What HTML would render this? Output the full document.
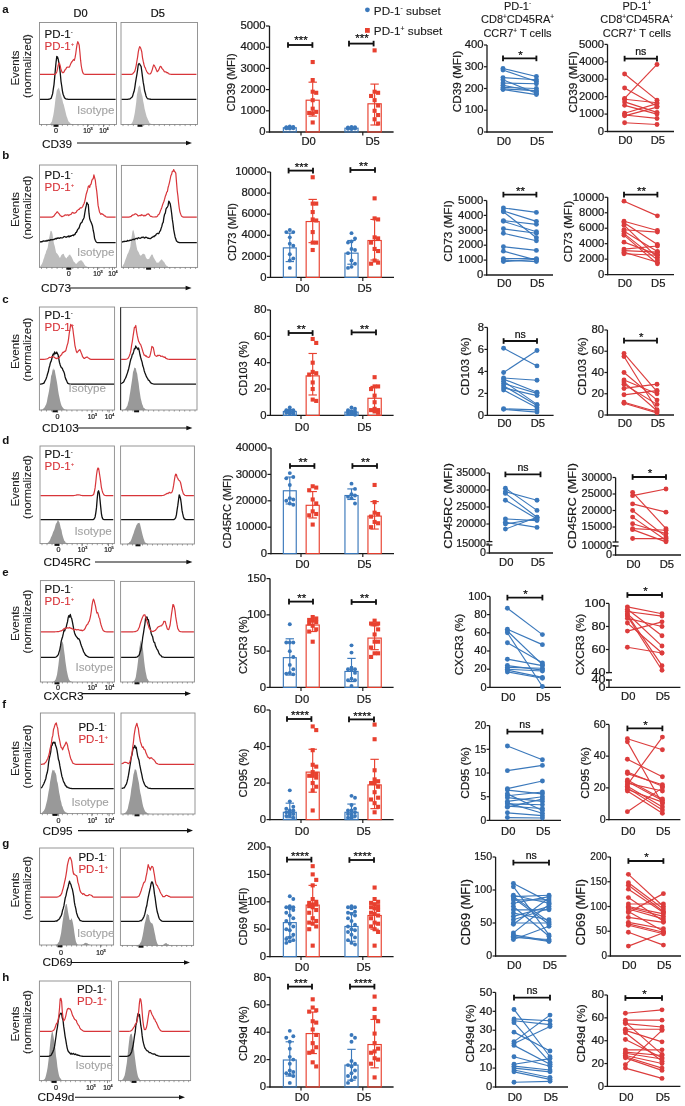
<!DOCTYPE html>
<html><head><meta charset="utf-8"><style>
html,body{margin:0;padding:0;background:#fff;}
svg{display:block;filter:blur(0.3px);}
text{font-family:"Liberation Sans",sans-serif;}
</style></head><body>
<svg width="685" height="1106" viewBox="0 0 685 1106" font-family="Liberation Sans, sans-serif">
<rect width="685" height="1106" fill="#fff"/>
<text transform="translate(80.5,17.2)" font-size="11" text-anchor="middle" fill="#111" stroke="#111" stroke-width="0.22">D0</text>
<text transform="translate(157.8,17.2)" font-size="11" text-anchor="middle" fill="#111" stroke="#111" stroke-width="0.22">D5</text>
<circle cx="367.4" cy="9.8" r="2.4" fill="#3a78bb"/>
<text transform="translate(373.8,14.6) scale(1.04,1)" font-size="11.3" text-anchor="start" fill="#1a1a1a" stroke="#1a1a1a" stroke-width="0.12">PD-1<tspan font-size="6.5" dy="-4.2">-</tspan><tspan dy="4.2"> subset</tspan></text>
<rect x="365" y="28" width="4.8" height="4.8" fill="#e8402f" stroke="none" stroke-width="1"/>
<text transform="translate(373.8,35) scale(1.04,1)" font-size="11.3" text-anchor="start" fill="#1a1a1a" stroke="#1a1a1a" stroke-width="0.12">PD-1<tspan font-size="6.5" dy="-4.2">+</tspan><tspan dy="4.2"> subset</tspan></text>
<text transform="translate(517.5,9.5)" font-size="11" text-anchor="middle" fill="#1a1a1a" stroke="#1a1a1a" stroke-width="0.12">PD-1<tspan font-size="6.5" dy="-4.2">-</tspan><tspan dy="4.2"></tspan></text>
<text transform="translate(517.5,23.4)" font-size="11" text-anchor="middle" fill="#1a1a1a" stroke="#1a1a1a" stroke-width="0.12">CD8<tspan font-size="6.5" dy="-4.2">+</tspan><tspan dy="4.2">CD45RA<tspan font-size="6.5" dy="-4.2">+</tspan><tspan dy="4.2"></tspan></tspan></text>
<text transform="translate(517.5,37.4)" font-size="11" text-anchor="middle" fill="#1a1a1a" stroke="#1a1a1a" stroke-width="0.12">CCR7<tspan font-size="6.5" dy="-4.2">+</tspan><tspan dy="4.2"> T cells</tspan></text>
<text transform="translate(636.8,9.5)" font-size="11" text-anchor="middle" fill="#1a1a1a" stroke="#1a1a1a" stroke-width="0.12">PD-1<tspan font-size="6.5" dy="-4.2">+</tspan><tspan dy="4.2"></tspan></text>
<text transform="translate(636.8,23.4)" font-size="11" text-anchor="middle" fill="#1a1a1a" stroke="#1a1a1a" stroke-width="0.12">CD8<tspan font-size="6.5" dy="-4.2">+</tspan><tspan dy="4.2">CD45RA<tspan font-size="6.5" dy="-4.2">+</tspan><tspan dy="4.2"></tspan></tspan></text>
<text transform="translate(636.8,37.4)" font-size="11" text-anchor="middle" fill="#1a1a1a" stroke="#1a1a1a" stroke-width="0.12">CCR7<tspan font-size="6.5" dy="-4.2">+</tspan><tspan dy="4.2"> T cells</tspan></text>
<polygon points="40,124.5 40.7,124.5 41.4,124.5 42.1,124.5 42.8,124.5 43.5,124.5 44.2,124.5 44.9,124.5 45.6,124.5 46.3,124.49 47,124.48 47.7,124.46 48.4,124.4 49.1,124.26 49.8,123.99 50.5,123.57 51.2,122.4 51.9,121.46 52.6,118.36 53.3,115.14 54,110.91 54.7,105.87 55.4,99.55 56.1,94.88 56.8,90.39 57.5,89.18 58.2,88.41 58.9,87.4 59.6,90.18 60.3,92.53 61,95.04 61.7,97.65 62.4,99.74 63.1,103 63.8,104.76 64.5,107.72 65.2,110.55 65.9,113.42 66.6,116.29 67.3,118.1 68,120.29 68.7,121.72 69.4,122.11 70.1,123.55 70.8,123.61 71.5,124.07 72.2,124.27 72.9,124.38 73.6,124.44 74.3,124.47 75,124.49 75.7,124.5 76.4,124.5 77.1,124.5 77.8,124.5 78.5,124.5 79.2,124.5 79.9,124.5 80.6,124.5 81.3,124.5 82,124.5 82.7,124.5 83.4,124.5 84.1,124.5 84.8,124.5 85.5,124.5 86.2,124.5 86.9,124.5 87.6,124.5 88.3,124.5 89,124.5 89.7,124.5 90.4,124.5 91.1,124.5 91.8,124.5 92.5,124.5 93.2,124.5 93.9,124.5 94.6,124.5 95.3,124.5 96,124.5 96.7,124.5 97.4,124.5 98.1,124.5 98.8,124.5 99.5,124.5 100.2,124.5 100.9,124.5 101.6,124.5 102.3,124.5 103,124.5 103.7,124.5 104.4,124.5 105.1,124.5 105.8,124.5 106.5,124.5 107.2,124.5 107.9,124.5 108.6,124.5 109.3,124.5 110,124.5 110.7,124.5 111.4,124.5 112.1,124.5 112.8,124.5 113.5,124.5 114.2,124.5 114.9,124.5 115.6,124.5 116,124.5 40,124.5" fill="#bdbdbd" stroke="none"/>
<polyline points="40,99.3 40.7,99.3 41.4,99.3 42.1,99.3 42.8,99.3 43.5,99.3 44.2,99.3 44.9,99.3 45.6,99.3 46.3,99.3 47,99.3 47.7,99.29 48.4,99.26 49.1,99.19 49.8,99.02 50.5,98.6 51.2,98.21 51.9,95.92 52.6,93.91 53.3,89.08 54,84.59 54.7,77.17 55.4,68.95 56.1,61.8 56.8,56.44 57.5,56.96 58.2,59.16 58.9,62.82 59.6,67.22 60.3,73.53 61,81.28 61.7,85.77 62.4,90.83 63.1,94.25 63.8,95.92 64.5,97.81 65.2,98.38 65.9,98.87 66.6,99.11 67.3,99.22 68,99.27 68.7,99.29 69.4,99.3 70.1,99.3 70.8,99.3 71.5,99.3 72.2,99.3 72.9,99.3 73.6,99.3 74.3,99.3 75,99.3 75.7,99.3 76.4,99.3 77.1,99.3 77.8,99.3 78.5,99.3 79.2,99.3 79.9,99.3 80.6,99.3 81.3,99.3 82,99.3 82.7,99.3 83.4,99.3 84.1,99.3 84.8,99.3 85.5,99.3 86.2,99.3 86.9,99.3 87.6,99.3 88.3,99.3 89,99.3 89.7,99.3 90.4,99.3 91.1,99.3 91.8,99.3 92.5,99.3 93.2,99.3 93.9,99.3 94.6,99.3 95.3,99.3 96,99.3 96.7,99.3 97.4,99.3 98.1,99.3 98.8,99.3 99.5,99.3 100.2,99.3 100.9,99.3 101.6,99.3 102.3,99.3 103,99.3 103.7,99.3 104.4,99.3 105.1,99.3 105.8,99.3 106.5,99.3 107.2,99.3 107.9,99.3 108.6,99.3 109.3,99.3 110,99.3 110.7,99.3 111.4,99.3 112.1,99.3 112.8,99.3 113.5,99.3 114.2,99.3 114.9,99.3 115.6,99.3" fill="none" stroke="#111" stroke-width="1.3" stroke-linejoin="round"/>
<polyline points="40,74.4 40.7,74.4 41.4,74.4 42.1,74.4 42.8,74.4 43.5,74.4 44.2,74.4 44.9,74.4 45.6,74.4 46.3,74.4 47,74.4 47.7,74.4 48.4,74.4 49.1,74.4 49.8,74.4 50.5,74.4 51.2,74.4 51.9,74.4 52.6,74.4 53.3,74.4 54,74.39 54.7,74.35 55.4,74.15 56.1,73.23 56.8,71.92 57.5,68.79 58.2,65.2 58.9,63.07 59.6,63.75 60.3,66.1 61,69.74 61.7,71.26 62.4,72.74 63.1,72.74 63.8,72.29 64.5,70.89 65.2,69.62 65.9,69.02 66.6,67.5 67.3,67.16 68,67.23 68.7,67.12 69.4,67.14 70.1,65.4 70.8,63.61 71.5,62.24 72.2,61.49 72.9,60.45 73.6,59.48 74.3,60.42 75,57.92 75.7,54 76.4,48.68 77.1,44.19 77.8,41.64 78.5,43.16 79.2,45.24 79.9,52.3 80.6,60.19 81.3,65.99 82,69.74 82.7,72.29 83.4,73.72 84.1,74.08 84.8,74.3 85.5,74.37 86.2,74.39 86.9,74.4 87.6,74.4 88.3,74.4 89,74.4 89.7,74.4 90.4,74.4 91.1,74.4 91.8,74.4 92.5,74.4 93.2,74.4 93.9,74.4 94.6,74.4 95.3,74.4 96,74.4 96.7,74.4 97.4,74.4 98.1,74.4 98.8,74.4 99.5,74.4 100.2,74.4 100.9,74.4 101.6,74.4 102.3,74.4 103,74.4 103.7,74.4 104.4,74.4 105.1,74.4 105.8,74.4 106.5,74.4 107.2,74.4 107.9,74.4 108.6,74.4 109.3,74.4 110,74.4 110.7,74.4 111.4,74.4 112.1,74.4 112.8,74.4 113.5,74.4 114.2,74.4 114.9,74.4 115.6,74.4" fill="none" stroke="#d8353a" stroke-width="1.2" stroke-linejoin="round"/>
<rect x="39.5" y="22.5" width="77" height="102" fill="none" stroke="#8a8a8a" stroke-width="0.9"/>
<line x1="41.5" y1="124.5" x2="41.5" y2="126.1" stroke="#666" stroke-width="0.6"/>
<line x1="46.71" y1="124.5" x2="46.71" y2="126.1" stroke="#666" stroke-width="0.6"/>
<line x1="51.93" y1="124.5" x2="51.93" y2="126.1" stroke="#666" stroke-width="0.6"/>
<line x1="57.14" y1="124.5" x2="57.14" y2="126.1" stroke="#666" stroke-width="0.6"/>
<line x1="62.36" y1="124.5" x2="62.36" y2="126.1" stroke="#666" stroke-width="0.6"/>
<line x1="67.57" y1="124.5" x2="67.57" y2="126.1" stroke="#666" stroke-width="0.6"/>
<line x1="72.79" y1="124.5" x2="72.79" y2="126.1" stroke="#666" stroke-width="0.6"/>
<line x1="78" y1="124.5" x2="78" y2="126.1" stroke="#666" stroke-width="0.6"/>
<line x1="83.21" y1="124.5" x2="83.21" y2="126.1" stroke="#666" stroke-width="0.6"/>
<line x1="88.43" y1="124.5" x2="88.43" y2="126.1" stroke="#666" stroke-width="0.6"/>
<line x1="93.64" y1="124.5" x2="93.64" y2="126.1" stroke="#666" stroke-width="0.6"/>
<line x1="98.86" y1="124.5" x2="98.86" y2="126.1" stroke="#666" stroke-width="0.6"/>
<line x1="104.07" y1="124.5" x2="104.07" y2="126.1" stroke="#666" stroke-width="0.6"/>
<line x1="109.29" y1="124.5" x2="109.29" y2="126.1" stroke="#666" stroke-width="0.6"/>
<line x1="114.5" y1="124.5" x2="114.5" y2="126.1" stroke="#666" stroke-width="0.6"/>
<polygon points="121.5,124.5 122.2,124.5 122.9,124.5 123.6,124.5 124.3,124.5 125,124.5 125.7,124.5 126.4,124.5 127.1,124.5 127.8,124.49 128.5,124.47 129.2,124.42 129.9,124.31 130.6,124.08 131.3,123.69 132,122.91 132.7,121.38 133.4,119.4 134.1,116.24 134.8,112.81 135.5,107.73 136.2,102.39 136.9,94.64 137.6,91.77 138.3,87.56 139,86.15 139.7,85.22 140.4,86.91 141.1,91.74 141.8,94.27 142.5,96.59 143.2,101.27 143.9,104.53 144.6,108.79 145.3,111.5 146,114.35 146.7,116.78 147.4,118.19 148.1,120.11 148.8,121.3 149.5,122.89 150.2,123.5 150.9,123.82 151.6,124.09 152.3,124.28 153,124.39 153.7,124.45 154.4,124.48 155.1,124.49 155.8,124.5 156.5,124.5 157.2,124.5 157.9,124.5 158.6,124.5 159.3,124.5 160,124.5 160.7,124.5 161.4,124.5 162.1,124.5 162.8,124.5 163.5,124.5 164.2,124.5 164.9,124.5 165.6,124.5 166.3,124.5 167,124.5 167.7,124.5 168.4,124.5 169.1,124.5 169.8,124.5 170.5,124.5 171.2,124.5 171.9,124.5 172.6,124.5 173.3,124.5 174,124.5 174.7,124.5 175.4,124.5 176.1,124.5 176.8,124.5 177.5,124.5 178.2,124.5 178.9,124.5 179.6,124.5 180.3,124.5 181,124.5 181.7,124.5 182.4,124.5 183.1,124.5 183.8,124.5 184.5,124.5 185.2,124.5 185.9,124.5 186.6,124.5 187.3,124.5 188,124.5 188.7,124.5 189.4,124.5 190.1,124.5 190.8,124.5 191.5,124.5 192.2,124.5 192.9,124.5 193.6,124.5 194.3,124.5 195,124.5 195.7,124.5 196.4,124.5 197,124.5 121.5,124.5" fill="#bdbdbd" stroke="none"/>
<polyline points="121.5,99.3 122.2,99.3 122.9,99.3 123.6,99.3 124.3,99.3 125,99.3 125.7,99.3 126.4,99.29 127.1,99.28 127.8,99.26 128.5,99.21 129.2,99.11 129.9,98.93 130.6,98.24 131.3,97.74 132,97.21 132.7,95.91 133.4,93.18 134.1,91.33 134.8,87.59 135.5,82.57 136.2,78.39 136.9,74.5 137.6,69.87 138.3,64.51 139,63.54 139.7,64.02 140.4,65.47 141.1,66.32 141.8,71.44 142.5,76.86 143.2,82.14 143.9,85.81 144.6,90.75 145.3,93 146,95.92 146.7,97.54 147.4,98.4 148.1,98.97 148.8,98.97 149.5,99.14 150.2,99.23 150.9,99.27 151.6,99.29 152.3,99.3 153,99.3 153.7,99.3 154.4,99.3 155.1,99.3 155.8,99.3 156.5,99.3 157.2,99.3 157.9,99.3 158.6,99.3 159.3,99.3 160,99.3 160.7,99.3 161.4,99.3 162.1,99.3 162.8,99.3 163.5,99.3 164.2,99.3 164.9,99.3 165.6,99.3 166.3,99.3 167,99.3 167.7,99.3 168.4,99.3 169.1,99.3 169.8,99.3 170.5,99.3 171.2,99.3 171.9,99.3 172.6,99.3 173.3,99.3 174,99.3 174.7,99.3 175.4,99.3 176.1,99.3 176.8,99.3 177.5,99.3 178.2,99.3 178.9,99.3 179.6,99.3 180.3,99.3 181,99.3 181.7,99.3 182.4,99.3 183.1,99.3 183.8,99.3 184.5,99.3 185.2,99.3 185.9,99.3 186.6,99.3 187.3,99.3 188,99.3 188.7,99.3 189.4,99.3 190.1,99.3 190.8,99.3 191.5,99.3 192.2,99.3 192.9,99.3 193.6,99.3 194.3,99.3 195,99.3 195.7,99.3 196.4,99.3" fill="none" stroke="#111" stroke-width="1.3" stroke-linejoin="round"/>
<polyline points="121.5,74.4 122.2,74.4 122.9,74.4 123.6,74.4 124.3,74.4 125,74.4 125.7,74.4 126.4,74.4 127.1,74.4 127.8,74.4 128.5,74.4 129.2,74.4 129.9,74.39 130.6,74.36 131.3,74.3 132,74.16 132.7,73.87 133.4,72.93 134.1,72.09 134.8,71.1 135.5,68.59 136.2,65.32 136.9,61.02 137.6,57.12 138.3,51.8 139,48.66 139.7,46.65 140.4,47.58 141.1,49.38 141.8,52 142.5,57.62 143.2,61.21 143.9,64.25 144.6,66.9 145.3,67.87 146,69.88 146.7,71.59 147.4,72.31 148.1,73.4 148.8,73.85 149.5,74.01 150.2,73.97 150.9,73.2 151.6,71.53 152.3,69.61 153,66.89 153.7,64.92 154.4,65.6 155.1,67.05 155.8,68.35 156.5,70.25 157.2,71.68 157.9,71.08 158.6,70.15 159.3,68.45 160,66.72 160.7,66.28 161.4,67.17 162.1,68.62 162.8,69.27 163.5,70.09 164.2,71.49 164.9,71.95 165.6,71.77 166.3,72.15 167,72.9 167.7,72.56 168.4,73.4 169.1,74 169.8,74.07 170.5,74.24 171.2,74.33 171.9,74.37 172.6,74.39 173.3,74.4 174,74.4 174.7,74.4 175.4,74.4 176.1,74.4 176.8,74.4 177.5,74.4 178.2,74.4 178.9,74.4 179.6,74.4 180.3,74.4 181,74.4 181.7,74.4 182.4,74.4 183.1,74.4 183.8,74.4 184.5,74.4 185.2,74.4 185.9,74.4 186.6,74.4 187.3,74.4 188,74.4 188.7,74.4 189.4,74.4 190.1,74.4 190.8,74.4 191.5,74.4 192.2,74.4 192.9,74.4 193.6,74.4 194.3,74.4 195,74.4 195.7,74.4 196.4,74.4" fill="none" stroke="#d8353a" stroke-width="1.2" stroke-linejoin="round"/>
<rect x="121" y="22.5" width="76.5" height="102" fill="none" stroke="#8a8a8a" stroke-width="0.9"/>
<line x1="123" y1="124.5" x2="123" y2="126.1" stroke="#666" stroke-width="0.6"/>
<line x1="128.18" y1="124.5" x2="128.18" y2="126.1" stroke="#666" stroke-width="0.6"/>
<line x1="133.36" y1="124.5" x2="133.36" y2="126.1" stroke="#666" stroke-width="0.6"/>
<line x1="138.54" y1="124.5" x2="138.54" y2="126.1" stroke="#666" stroke-width="0.6"/>
<line x1="143.71" y1="124.5" x2="143.71" y2="126.1" stroke="#666" stroke-width="0.6"/>
<line x1="148.89" y1="124.5" x2="148.89" y2="126.1" stroke="#666" stroke-width="0.6"/>
<line x1="154.07" y1="124.5" x2="154.07" y2="126.1" stroke="#666" stroke-width="0.6"/>
<line x1="159.25" y1="124.5" x2="159.25" y2="126.1" stroke="#666" stroke-width="0.6"/>
<line x1="164.43" y1="124.5" x2="164.43" y2="126.1" stroke="#666" stroke-width="0.6"/>
<line x1="169.61" y1="124.5" x2="169.61" y2="126.1" stroke="#666" stroke-width="0.6"/>
<line x1="174.79" y1="124.5" x2="174.79" y2="126.1" stroke="#666" stroke-width="0.6"/>
<line x1="179.96" y1="124.5" x2="179.96" y2="126.1" stroke="#666" stroke-width="0.6"/>
<line x1="185.14" y1="124.5" x2="185.14" y2="126.1" stroke="#666" stroke-width="0.6"/>
<line x1="190.32" y1="124.5" x2="190.32" y2="126.1" stroke="#666" stroke-width="0.6"/>
<line x1="195.5" y1="124.5" x2="195.5" y2="126.1" stroke="#666" stroke-width="0.6"/>
<text transform="translate(44.5,37.6)" font-size="11.5" text-anchor="start" fill="#111" stroke="#111" stroke-width="0.1">PD-1<tspan font-size="6" dy="-3.8">-</tspan><tspan dy="3.8"></tspan></text>
<text transform="translate(44.5,49.6)" font-size="11.5" text-anchor="start" fill="#d8353a" stroke="#d8353a" stroke-width="0.1">PD-1<tspan font-size="6" dy="-3.8">+</tspan><tspan dy="3.8"></tspan></text>
<text transform="translate(77,114)" font-size="11.6" text-anchor="start" fill="#a3a3a3" stroke="#a3a3a3" stroke-width="0.1">Isotype</text>
<text transform="translate(56,132.5)" font-size="7.2" text-anchor="middle" fill="#222" stroke="#222" stroke-width="0.22">0</text>
<line x1="56" y1="124.5" x2="56" y2="127.1" stroke="#555" stroke-width="0.7"/>
<text transform="translate(88,132.5)" font-size="6.6" text-anchor="middle" fill="#222" stroke="#222" stroke-width="0.22">10<tspan font-size="3.8" dy="-2.6">3</tspan></text>
<line x1="87.5" y1="124.5" x2="87.5" y2="127.1" stroke="#555" stroke-width="0.7"/>
<text transform="translate(104,132.5)" font-size="6.6" text-anchor="middle" fill="#222" stroke="#222" stroke-width="0.22">10<tspan font-size="3.8" dy="-2.6">4</tspan></text>
<line x1="103.5" y1="124.5" x2="103.5" y2="127.1" stroke="#555" stroke-width="0.7"/>
<rect x="53.5" y="124.8" width="5" height="2" fill="#111" stroke="none" stroke-width="1"/>
<rect x="137.5" y="124.8" width="5" height="2" fill="#111" stroke="none" stroke-width="1"/>
<text transform="translate(42,147.5)" font-size="11.8" text-anchor="start" fill="#111" stroke="#111" stroke-width="0.1">CD39</text>
<line x1="77" y1="143" x2="187" y2="143" stroke="#111" stroke-width="1.1"/>
<polygon points="192,143 186,140.7 186,145.3" fill="#111"/>
<text transform="translate(18.9,68) rotate(-90)" font-size="11.5" text-anchor="middle" fill="#222" stroke="#222" stroke-width="0.08">Events</text>
<text transform="translate(30.8,66) rotate(-90)" font-size="11.5" text-anchor="middle" fill="#222" stroke="#222" stroke-width="0.08">(normalized)</text>
<text transform="translate(2.2,12.5)" font-size="11.5" text-anchor="start" fill="#111" font-weight="bold">a</text>
<line x1="269.5" y1="26" x2="269.5" y2="132.6" stroke="#1a1a1a" stroke-width="1.3"/>
<line x1="268.9" y1="132" x2="393.6" y2="132" stroke="#1a1a1a" stroke-width="1.3"/>
<line x1="266" y1="132" x2="269.5" y2="132" stroke="#1a1a1a" stroke-width="1.2"/>
<text transform="translate(265.6,135.2) scale(1.1,1)" font-size="10.3" text-anchor="end" fill="#1a1a1a" stroke="#1a1a1a" stroke-width="0.22">0</text>
<line x1="266" y1="110.8" x2="269.5" y2="110.8" stroke="#1a1a1a" stroke-width="1.2"/>
<text transform="translate(265.6,114) scale(1.1,1)" font-size="10.3" text-anchor="end" fill="#1a1a1a" stroke="#1a1a1a" stroke-width="0.22">1000</text>
<line x1="266" y1="89.6" x2="269.5" y2="89.6" stroke="#1a1a1a" stroke-width="1.2"/>
<text transform="translate(265.6,92.8) scale(1.1,1)" font-size="10.3" text-anchor="end" fill="#1a1a1a" stroke="#1a1a1a" stroke-width="0.22">2000</text>
<line x1="266" y1="68.4" x2="269.5" y2="68.4" stroke="#1a1a1a" stroke-width="1.2"/>
<text transform="translate(265.6,71.6) scale(1.1,1)" font-size="10.3" text-anchor="end" fill="#1a1a1a" stroke="#1a1a1a" stroke-width="0.22">3000</text>
<line x1="266" y1="47.2" x2="269.5" y2="47.2" stroke="#1a1a1a" stroke-width="1.2"/>
<text transform="translate(265.6,50.4) scale(1.1,1)" font-size="10.3" text-anchor="end" fill="#1a1a1a" stroke="#1a1a1a" stroke-width="0.22">4000</text>
<line x1="266" y1="26" x2="269.5" y2="26" stroke="#1a1a1a" stroke-width="1.2"/>
<text transform="translate(265.6,29.2) scale(1.1,1)" font-size="10.3" text-anchor="end" fill="#1a1a1a" stroke="#1a1a1a" stroke-width="0.22">5000</text>
<line x1="301" y1="132" x2="301" y2="135.5" stroke="#1a1a1a" stroke-width="1.2"/>
<line x1="362.8" y1="132" x2="362.8" y2="135.5" stroke="#1a1a1a" stroke-width="1.2"/>
<text transform="translate(308.6,144.5) scale(1.02,1)" font-size="11" text-anchor="middle" fill="#1a1a1a" stroke="#1a1a1a" stroke-width="0.22">D0</text>
<text transform="translate(372.6,144.5) scale(1.02,1)" font-size="11" text-anchor="middle" fill="#1a1a1a" stroke="#1a1a1a" stroke-width="0.22">D5</text>
<text transform="translate(235.3,82.4) rotate(-90) scale(1.03,1)" font-size="10.8" text-anchor="middle" fill="#1a1a1a" stroke="#1a1a1a" stroke-width="0.22">CD39 (MFI)</text>
<circle cx="289.8" cy="126.49" r="1.95" fill="#3a78bb"/>
<circle cx="293.31" cy="126.91" r="1.95" fill="#3a78bb"/>
<circle cx="286.29" cy="127.12" r="1.95" fill="#3a78bb"/>
<circle cx="289.8" cy="127.34" r="1.95" fill="#3a78bb"/>
<circle cx="293.31" cy="127.55" r="1.95" fill="#3a78bb"/>
<circle cx="286.29" cy="127.76" r="1.95" fill="#3a78bb"/>
<circle cx="289.8" cy="127.97" r="1.95" fill="#3a78bb"/>
<circle cx="293.31" cy="128.18" r="1.95" fill="#3a78bb"/>
<circle cx="286.29" cy="128.4" r="1.95" fill="#3a78bb"/>
<circle cx="289.8" cy="128.61" r="1.95" fill="#3a78bb"/>
<rect x="283.35" y="127.76" width="12.9" height="4.24" fill="none" stroke="#3a78bb" stroke-width="1.15"/>
<line x1="289.8" y1="127.12" x2="289.8" y2="128.4" stroke="#3a78bb" stroke-width="1.15"/>
<line x1="285.6" y1="127.12" x2="294" y2="127.12" stroke="#3a78bb" stroke-width="1.15"/>
<line x1="285.6" y1="128.4" x2="294" y2="128.4" stroke="#3a78bb" stroke-width="1.15"/>
<rect x="310.65" y="59.99" width="4.1" height="4.1" fill="#e8402f"/>
<rect x="310.65" y="78.01" width="4.1" height="4.1" fill="#e8402f"/>
<rect x="310.65" y="89.67" width="4.1" height="4.1" fill="#e8402f"/>
<rect x="314.17" y="90.73" width="4.1" height="4.1" fill="#e8402f"/>
<rect x="310.65" y="98.15" width="4.1" height="4.1" fill="#e8402f"/>
<rect x="310.65" y="106.63" width="4.1" height="4.1" fill="#e8402f"/>
<rect x="314.17" y="109.81" width="4.1" height="4.1" fill="#e8402f"/>
<rect x="307.14" y="110.87" width="4.1" height="4.1" fill="#e8402f"/>
<rect x="310.65" y="111.29" width="4.1" height="4.1" fill="#e8402f"/>
<rect x="310.65" y="120.41" width="4.1" height="4.1" fill="#e8402f"/>
<rect x="306.15" y="100.2" width="13.1" height="31.8" fill="none" stroke="#e8402f" stroke-width="1.15"/>
<line x1="312.7" y1="82.18" x2="312.7" y2="116.1" stroke="#e8402f" stroke-width="1.15"/>
<line x1="308.5" y1="82.18" x2="316.9" y2="82.18" stroke="#e8402f" stroke-width="1.15"/>
<line x1="308.5" y1="116.1" x2="316.9" y2="116.1" stroke="#e8402f" stroke-width="1.15"/>
<circle cx="351.5" cy="126.91" r="1.95" fill="#3a78bb"/>
<circle cx="355.01" cy="127.12" r="1.95" fill="#3a78bb"/>
<circle cx="347.99" cy="127.44" r="1.95" fill="#3a78bb"/>
<circle cx="351.5" cy="127.76" r="1.95" fill="#3a78bb"/>
<circle cx="355.01" cy="127.97" r="1.95" fill="#3a78bb"/>
<circle cx="347.99" cy="128.18" r="1.95" fill="#3a78bb"/>
<circle cx="351.5" cy="128.4" r="1.95" fill="#3a78bb"/>
<circle cx="355.01" cy="128.61" r="1.95" fill="#3a78bb"/>
<circle cx="347.99" cy="128.82" r="1.95" fill="#3a78bb"/>
<circle cx="351.5" cy="129.03" r="1.95" fill="#3a78bb"/>
<rect x="344.95" y="128.18" width="13.1" height="3.82" fill="none" stroke="#3a78bb" stroke-width="1.15"/>
<line x1="351.5" y1="127.55" x2="351.5" y2="128.82" stroke="#3a78bb" stroke-width="1.15"/>
<line x1="347.3" y1="127.55" x2="355.7" y2="127.55" stroke="#3a78bb" stroke-width="1.15"/>
<line x1="347.3" y1="128.82" x2="355.7" y2="128.82" stroke="#3a78bb" stroke-width="1.15"/>
<rect x="372.55" y="48.33" width="4.1" height="4.1" fill="#e8402f"/>
<rect x="372.55" y="89.67" width="4.1" height="4.1" fill="#e8402f"/>
<rect x="376.06" y="90.73" width="4.1" height="4.1" fill="#e8402f"/>
<rect x="369.04" y="93.91" width="4.1" height="4.1" fill="#e8402f"/>
<rect x="372.55" y="98.15" width="4.1" height="4.1" fill="#e8402f"/>
<rect x="376.06" y="103.45" width="4.1" height="4.1" fill="#e8402f"/>
<rect x="372.55" y="108.75" width="4.1" height="4.1" fill="#e8402f"/>
<rect x="376.06" y="112.99" width="4.1" height="4.1" fill="#e8402f"/>
<rect x="372.55" y="117.23" width="4.1" height="4.1" fill="#e8402f"/>
<rect x="376.06" y="121.47" width="4.1" height="4.1" fill="#e8402f"/>
<rect x="367.95" y="103.8" width="13.3" height="28.2" fill="none" stroke="#e8402f" stroke-width="1.15"/>
<line x1="374.6" y1="84.09" x2="374.6" y2="125" stroke="#e8402f" stroke-width="1.15"/>
<line x1="370.4" y1="84.09" x2="378.8" y2="84.09" stroke="#e8402f" stroke-width="1.15"/>
<line x1="370.4" y1="125" x2="378.8" y2="125" stroke="#e8402f" stroke-width="1.15"/>
<line x1="288" y1="45" x2="312.4" y2="45" stroke="#111" stroke-width="1.85"/>
<line x1="288" y1="42.2" x2="288" y2="47.8" stroke="#111" stroke-width="1.85"/>
<line x1="312.4" y1="42.2" x2="312.4" y2="47.8" stroke="#111" stroke-width="1.85"/>
<text transform="translate(300.9,43.7) scale(1.05,1)" font-size="11" text-anchor="middle" fill="#111" stroke="#111" stroke-width="0.22">***</text>
<line x1="349" y1="43.6" x2="373.6" y2="43.6" stroke="#111" stroke-width="1.85"/>
<line x1="349" y1="40.8" x2="349" y2="46.4" stroke="#111" stroke-width="1.85"/>
<line x1="373.6" y1="40.8" x2="373.6" y2="46.4" stroke="#111" stroke-width="1.85"/>
<text transform="translate(362,42.1) scale(1.05,1)" font-size="11" text-anchor="middle" fill="#111" stroke="#111" stroke-width="0.22">***</text>
<line x1="487" y1="45" x2="487" y2="132.6" stroke="#1a1a1a" stroke-width="1.3"/>
<line x1="486.4" y1="132" x2="553" y2="132" stroke="#1a1a1a" stroke-width="1.3"/>
<line x1="484" y1="132" x2="487" y2="132" stroke="#1a1a1a" stroke-width="1.2"/>
<text transform="translate(483.6,135.2) scale(1.1,1)" font-size="10.3" text-anchor="end" fill="#1a1a1a" stroke="#1a1a1a" stroke-width="0.22">0</text>
<line x1="484" y1="110.25" x2="487" y2="110.25" stroke="#1a1a1a" stroke-width="1.2"/>
<text transform="translate(483.6,113.45) scale(1.1,1)" font-size="10.3" text-anchor="end" fill="#1a1a1a" stroke="#1a1a1a" stroke-width="0.22">100</text>
<line x1="484" y1="88.5" x2="487" y2="88.5" stroke="#1a1a1a" stroke-width="1.2"/>
<text transform="translate(483.6,91.7) scale(1.1,1)" font-size="10.3" text-anchor="end" fill="#1a1a1a" stroke="#1a1a1a" stroke-width="0.22">200</text>
<line x1="484" y1="66.75" x2="487" y2="66.75" stroke="#1a1a1a" stroke-width="1.2"/>
<text transform="translate(483.6,69.95) scale(1.1,1)" font-size="10.3" text-anchor="end" fill="#1a1a1a" stroke="#1a1a1a" stroke-width="0.22">300</text>
<line x1="484" y1="45" x2="487" y2="45" stroke="#1a1a1a" stroke-width="1.2"/>
<text transform="translate(483.6,48.2) scale(1.1,1)" font-size="10.3" text-anchor="end" fill="#1a1a1a" stroke="#1a1a1a" stroke-width="0.22">400</text>
<text transform="translate(503.8,144.5) scale(1.02,1)" font-size="11" text-anchor="middle" fill="#1a1a1a" stroke="#1a1a1a" stroke-width="0.22">D0</text>
<text transform="translate(537.2,144.5) scale(1.02,1)" font-size="11" text-anchor="middle" fill="#1a1a1a" stroke="#1a1a1a" stroke-width="0.22">D5</text>
<text transform="translate(461.2,81.5) rotate(-90) scale(1.09,1)" font-size="10.8" text-anchor="middle" fill="#1a1a1a" stroke="#1a1a1a" stroke-width="0.22">CD39 (MFI)</text>
<line x1="503" y1="68.49" x2="536.4" y2="76.54" stroke="#3a78bb" stroke-width="1.15"/>
<line x1="503" y1="70.01" x2="536.4" y2="81.54" stroke="#3a78bb" stroke-width="1.15"/>
<line x1="503" y1="77.62" x2="536.4" y2="79.8" stroke="#3a78bb" stroke-width="1.15"/>
<line x1="503" y1="79.8" x2="536.4" y2="93.28" stroke="#3a78bb" stroke-width="1.15"/>
<line x1="503" y1="83.06" x2="536.4" y2="83.72" stroke="#3a78bb" stroke-width="1.15"/>
<line x1="503" y1="85.24" x2="536.4" y2="91.76" stroke="#3a78bb" stroke-width="1.15"/>
<line x1="503" y1="87.41" x2="536.4" y2="88.5" stroke="#3a78bb" stroke-width="1.15"/>
<line x1="503" y1="88.94" x2="536.4" y2="90.68" stroke="#3a78bb" stroke-width="1.15"/>
<line x1="503" y1="89.59" x2="536.4" y2="94.59" stroke="#3a78bb" stroke-width="1.15"/>
<circle cx="503" cy="68.49" r="2.45" fill="#3a78bb"/>
<circle cx="536.4" cy="76.54" r="2.45" fill="#3a78bb"/>
<circle cx="503" cy="70.01" r="2.45" fill="#3a78bb"/>
<circle cx="536.4" cy="81.54" r="2.45" fill="#3a78bb"/>
<circle cx="503" cy="77.62" r="2.45" fill="#3a78bb"/>
<circle cx="536.4" cy="79.8" r="2.45" fill="#3a78bb"/>
<circle cx="503" cy="79.8" r="2.45" fill="#3a78bb"/>
<circle cx="536.4" cy="93.28" r="2.45" fill="#3a78bb"/>
<circle cx="503" cy="83.06" r="2.45" fill="#3a78bb"/>
<circle cx="536.4" cy="83.72" r="2.45" fill="#3a78bb"/>
<circle cx="503" cy="85.24" r="2.45" fill="#3a78bb"/>
<circle cx="536.4" cy="91.76" r="2.45" fill="#3a78bb"/>
<circle cx="503" cy="87.41" r="2.45" fill="#3a78bb"/>
<circle cx="536.4" cy="88.5" r="2.45" fill="#3a78bb"/>
<circle cx="503" cy="88.94" r="2.45" fill="#3a78bb"/>
<circle cx="536.4" cy="90.68" r="2.45" fill="#3a78bb"/>
<circle cx="503" cy="89.59" r="2.45" fill="#3a78bb"/>
<circle cx="536.4" cy="94.59" r="2.45" fill="#3a78bb"/>
<line x1="503" y1="58.4" x2="536.4" y2="58.4" stroke="#111" stroke-width="1.85"/>
<line x1="503" y1="55.6" x2="503" y2="61.2" stroke="#111" stroke-width="1.85"/>
<line x1="536.4" y1="55.6" x2="536.4" y2="61.2" stroke="#111" stroke-width="1.85"/>
<text transform="translate(520.4,58.7) scale(1.05,1)" font-size="11" text-anchor="middle" fill="#111" stroke="#111" stroke-width="0.22">*</text>
<line x1="607.5" y1="44.4" x2="607.5" y2="132.1" stroke="#1a1a1a" stroke-width="1.3"/>
<line x1="606.9" y1="131.5" x2="674" y2="131.5" stroke="#1a1a1a" stroke-width="1.3"/>
<line x1="604.5" y1="131.5" x2="607.5" y2="131.5" stroke="#1a1a1a" stroke-width="1.2"/>
<text transform="translate(604.1,134.7) scale(1.1,1)" font-size="10.3" text-anchor="end" fill="#1a1a1a" stroke="#1a1a1a" stroke-width="0.22">0</text>
<line x1="604.5" y1="114.08" x2="607.5" y2="114.08" stroke="#1a1a1a" stroke-width="1.2"/>
<text transform="translate(604.1,117.28) scale(1.1,1)" font-size="10.3" text-anchor="end" fill="#1a1a1a" stroke="#1a1a1a" stroke-width="0.22">1000</text>
<line x1="604.5" y1="96.66" x2="607.5" y2="96.66" stroke="#1a1a1a" stroke-width="1.2"/>
<text transform="translate(604.1,99.86) scale(1.1,1)" font-size="10.3" text-anchor="end" fill="#1a1a1a" stroke="#1a1a1a" stroke-width="0.22">2000</text>
<line x1="604.5" y1="79.24" x2="607.5" y2="79.24" stroke="#1a1a1a" stroke-width="1.2"/>
<text transform="translate(604.1,82.44) scale(1.1,1)" font-size="10.3" text-anchor="end" fill="#1a1a1a" stroke="#1a1a1a" stroke-width="0.22">3000</text>
<line x1="604.5" y1="61.82" x2="607.5" y2="61.82" stroke="#1a1a1a" stroke-width="1.2"/>
<text transform="translate(604.1,65.02) scale(1.1,1)" font-size="10.3" text-anchor="end" fill="#1a1a1a" stroke="#1a1a1a" stroke-width="0.22">4000</text>
<line x1="604.5" y1="44.4" x2="607.5" y2="44.4" stroke="#1a1a1a" stroke-width="1.2"/>
<text transform="translate(604.1,47.6) scale(1.1,1)" font-size="10.3" text-anchor="end" fill="#1a1a1a" stroke="#1a1a1a" stroke-width="0.22">5000</text>
<text transform="translate(625.4,144) scale(1.02,1)" font-size="11" text-anchor="middle" fill="#1a1a1a" stroke="#1a1a1a" stroke-width="0.22">D0</text>
<text transform="translate(657.8,144) scale(1.02,1)" font-size="11" text-anchor="middle" fill="#1a1a1a" stroke="#1a1a1a" stroke-width="0.22">D5</text>
<text transform="translate(577,82) rotate(-90) scale(1.09,1)" font-size="10.8" text-anchor="middle" fill="#1a1a1a" stroke="#1a1a1a" stroke-width="0.22">CD39 (MFI)</text>
<line x1="624.6" y1="74.01" x2="657" y2="100.14" stroke="#dc3c3c" stroke-width="1.15"/>
<line x1="624.6" y1="87.95" x2="657" y2="106.24" stroke="#dc3c3c" stroke-width="1.15"/>
<line x1="624.6" y1="98.4" x2="657" y2="64.43" stroke="#dc3c3c" stroke-width="1.15"/>
<line x1="624.6" y1="99.27" x2="657" y2="102.76" stroke="#dc3c3c" stroke-width="1.15"/>
<line x1="624.6" y1="101.89" x2="657" y2="112.34" stroke="#dc3c3c" stroke-width="1.15"/>
<line x1="624.6" y1="105.37" x2="657" y2="114.08" stroke="#dc3c3c" stroke-width="1.15"/>
<line x1="624.6" y1="113.21" x2="657" y2="103.63" stroke="#dc3c3c" stroke-width="1.15"/>
<line x1="624.6" y1="114.95" x2="657" y2="118.44" stroke="#dc3c3c" stroke-width="1.15"/>
<line x1="624.6" y1="115.82" x2="657" y2="107.11" stroke="#dc3c3c" stroke-width="1.15"/>
<line x1="624.6" y1="122.79" x2="657" y2="124.53" stroke="#dc3c3c" stroke-width="1.15"/>
<circle cx="624.6" cy="74.01" r="2.45" fill="#dc3c3c"/>
<circle cx="657" cy="100.14" r="2.45" fill="#dc3c3c"/>
<circle cx="624.6" cy="87.95" r="2.45" fill="#dc3c3c"/>
<circle cx="657" cy="106.24" r="2.45" fill="#dc3c3c"/>
<circle cx="624.6" cy="98.4" r="2.45" fill="#dc3c3c"/>
<circle cx="657" cy="64.43" r="2.45" fill="#dc3c3c"/>
<circle cx="624.6" cy="99.27" r="2.45" fill="#dc3c3c"/>
<circle cx="657" cy="102.76" r="2.45" fill="#dc3c3c"/>
<circle cx="624.6" cy="101.89" r="2.45" fill="#dc3c3c"/>
<circle cx="657" cy="112.34" r="2.45" fill="#dc3c3c"/>
<circle cx="624.6" cy="105.37" r="2.45" fill="#dc3c3c"/>
<circle cx="657" cy="114.08" r="2.45" fill="#dc3c3c"/>
<circle cx="624.6" cy="113.21" r="2.45" fill="#dc3c3c"/>
<circle cx="657" cy="103.63" r="2.45" fill="#dc3c3c"/>
<circle cx="624.6" cy="114.95" r="2.45" fill="#dc3c3c"/>
<circle cx="657" cy="118.44" r="2.45" fill="#dc3c3c"/>
<circle cx="624.6" cy="115.82" r="2.45" fill="#dc3c3c"/>
<circle cx="657" cy="107.11" r="2.45" fill="#dc3c3c"/>
<circle cx="624.6" cy="122.79" r="2.45" fill="#dc3c3c"/>
<circle cx="657" cy="124.53" r="2.45" fill="#dc3c3c"/>
<line x1="624.6" y1="58.6" x2="657" y2="58.6" stroke="#111" stroke-width="1.85"/>
<line x1="624.6" y1="55.8" x2="624.6" y2="61.4" stroke="#111" stroke-width="1.85"/>
<line x1="657" y1="55.8" x2="657" y2="61.4" stroke="#111" stroke-width="1.85"/>
<text transform="translate(640.8,55.1)" font-size="10.5" text-anchor="middle" fill="#111" stroke="#111" stroke-width="0.22">ns</text>
<polygon points="40,266.78 40.7,265.71 41.4,264.8 42.1,263.45 42.8,261.77 43.5,259.26 44.2,257.44 44.9,254.68 45.6,253.5 46.3,250.76 47,249.44 47.7,247.45 48.4,243.33 49.1,237.93 49.8,234.7 50.5,231.07 51.2,230.86 51.9,231.8 52.6,234.6 53.3,239.9 54,243.78 54.7,246.12 55.4,249.26 56.1,252.41 56.8,253.31 57.5,254.09 58.2,255.03 58.9,256.31 59.6,257.74 60.3,257.6 61,255.82 61.7,254.83 62.4,254.26 63.1,253.76 63.8,254.11 64.5,255.96 65.2,257.22 65.9,257.76 66.6,258.42 67.3,256.83 68,256.72 68.7,255.17 69.4,254.79 70.1,254.46 70.8,255.93 71.5,256.83 72.2,258.16 72.9,259.69 73.6,261.61 74.3,261.97 75,262.76 75.7,263.8 76.4,263.89 77.1,262.86 77.8,262.52 78.5,261.58 79.2,260.99 79.9,260.74 80.6,260.35 81.3,260.41 82,260.42 82.7,262.01 83.4,262.45 84.1,264.09 84.8,265.07 85.5,265.89 86.2,266.29 86.9,266.46 87.6,266.94 88.3,267.08 89,267.17 89.7,267.23 90.4,267.27 91.1,267.3 91.8,267.32 92.5,267.33 93.2,267.35 93.9,267.36 94.6,267.37 95.3,267.38 96,267.38 96.7,267.39 97.4,267.39 98.1,267.39 98.8,267.39 99.5,267.4 100.2,267.4 100.9,267.4 101.6,267.4 102.3,267.4 103,267.4 103.7,267.4 104.4,267.4 105.1,267.4 105.8,267.4 106.5,267.4 107.2,267.4 107.9,267.4 108.6,267.4 109.3,267.4 110,267.4 110.7,267.4 111.4,267.4 112.1,267.4 112.8,267.4 113.5,267.4 114.2,267.4 114.9,267.4 115.6,267.4 116,267.4 40,267.4" fill="#bdbdbd" stroke="none"/>
<polyline points="40,241.6 40.7,242.02 41.4,241.6 42.1,241.74 42.8,241.14 43.5,240.93 44.2,241.12 44.9,241.18 45.6,240.82 46.3,241.2 47,240.31 47.7,240.9 48.4,240.23 49.1,240.27 49.8,240.49 50.5,239.62 51.2,239.94 51.9,239.73 52.6,239.73 53.3,239.5 54,239.52 54.7,239.16 55.4,238.37 56.1,239.02 56.8,238.12 57.5,238.38 58.2,237.9 58.9,238.23 59.6,238.23 60.3,237.68 61,237.96 61.7,237.8 62.4,237.86 63.1,237.47 63.8,236.76 64.5,236.51 65.2,236.75 65.9,237.28 66.6,237.1 67.3,236.45 68,236.74 68.7,236.02 69.4,236.77 70.1,235.95 70.8,236.33 71.5,235.55 72.2,235.36 72.9,235.05 73.6,235.64 74.3,234.33 75,234.47 75.7,232.66 76.4,232.37 77.1,230.88 77.8,229.34 78.5,228.84 79.2,227.58 79.9,225.31 80.6,223.43 81.3,222.72 82,222.28 82.7,220.1 83.4,219.09 84.1,217.44 84.8,213.02 85.5,208.81 86.2,205.92 86.9,202.5 87.6,204.01 88.3,204.51 89,213.44 89.7,218.73 90.4,220.67 91.1,222.36 91.8,224.09 92.5,226.07 93.2,230.25 93.9,233.41 94.6,238.35 95.3,240.28 96,241.57 96.7,242.35 97.4,242.53 98.1,242.58 98.8,242.59 99.5,242.59 100.2,242.6 100.9,242.6 101.6,242.6 102.3,242.6 103,242.6 103.7,242.6 104.4,242.6 105.1,242.6 105.8,242.6 106.5,242.6 107.2,242.6 107.9,242.6 108.6,242.6 109.3,242.6 110,242.6 110.7,242.6 111.4,242.6 112.1,242.6 112.8,242.6 113.5,242.6 114.2,242.6 114.9,242.6 115.6,242.6" fill="none" stroke="#111" stroke-width="1.3" stroke-linejoin="round"/>
<polyline points="40,217.2 40.7,217.2 41.4,217.2 42.1,217.2 42.8,217.2 43.5,217.2 44.2,217.2 44.9,217.2 45.6,217.2 46.3,217.2 47,217.2 47.7,217.2 48.4,217.2 49.1,217.2 49.8,217.2 50.5,217.19 51.2,217.17 51.9,217.11 52.6,216.95 53.3,216.37 54,215.93 54.7,214.88 55.4,213.97 56.1,213.07 56.8,212.05 57.5,211.79 58.2,212.87 58.9,213.61 59.6,214.47 60.3,215.71 61,215.79 61.7,216.65 62.4,216.57 63.1,216.14 63.8,216.03 64.5,215.38 65.2,214.8 65.9,215.1 66.6,215.15 67.3,214.87 68,214.74 68.7,215.59 69.4,215.1 70.1,214.53 70.8,214.46 71.5,213.89 72.2,212.48 72.9,212.35 73.6,213.08 74.3,213.16 75,213.09 75.7,212.62 76.4,211.99 77.1,210.46 77.8,210.19 78.5,209.45 79.2,209.52 79.9,208.21 80.6,207.71 81.3,207.9 82,207.39 82.7,206.57 83.4,204.71 84.1,203.53 84.8,201.13 85.5,197.81 86.2,194.2 86.9,192 87.6,189.67 88.3,186.47 89,185.79 89.7,187.48 90.4,184.45 91.1,184.16 91.8,180.73 92.5,179 93.2,178.88 93.9,174.78 94.6,177.6 95.3,180.1 96,186.46 96.7,190.83 97.4,197.66 98.1,205.42 98.8,208.74 99.5,211.99 100.2,213.22 100.9,214.31 101.6,213.55 102.3,214.11 103,214.4 103.7,214.95 104.4,215.99 105.1,215.89 105.8,216.71 106.5,216.96 107.2,217.1 107.9,217.16 108.6,217.19 109.3,217.2 110,217.2 110.7,217.2 111.4,217.2 112.1,217.2 112.8,217.2 113.5,217.2 114.2,217.2 114.9,217.2 115.6,217.2" fill="none" stroke="#d8353a" stroke-width="1.2" stroke-linejoin="round"/>
<rect x="39.5" y="165" width="77" height="102.4" fill="none" stroke="#8a8a8a" stroke-width="0.9"/>
<line x1="41.5" y1="267.4" x2="41.5" y2="269" stroke="#666" stroke-width="0.6"/>
<line x1="46.71" y1="267.4" x2="46.71" y2="269" stroke="#666" stroke-width="0.6"/>
<line x1="51.93" y1="267.4" x2="51.93" y2="269" stroke="#666" stroke-width="0.6"/>
<line x1="57.14" y1="267.4" x2="57.14" y2="269" stroke="#666" stroke-width="0.6"/>
<line x1="62.36" y1="267.4" x2="62.36" y2="269" stroke="#666" stroke-width="0.6"/>
<line x1="67.57" y1="267.4" x2="67.57" y2="269" stroke="#666" stroke-width="0.6"/>
<line x1="72.79" y1="267.4" x2="72.79" y2="269" stroke="#666" stroke-width="0.6"/>
<line x1="78" y1="267.4" x2="78" y2="269" stroke="#666" stroke-width="0.6"/>
<line x1="83.21" y1="267.4" x2="83.21" y2="269" stroke="#666" stroke-width="0.6"/>
<line x1="88.43" y1="267.4" x2="88.43" y2="269" stroke="#666" stroke-width="0.6"/>
<line x1="93.64" y1="267.4" x2="93.64" y2="269" stroke="#666" stroke-width="0.6"/>
<line x1="98.86" y1="267.4" x2="98.86" y2="269" stroke="#666" stroke-width="0.6"/>
<line x1="104.07" y1="267.4" x2="104.07" y2="269" stroke="#666" stroke-width="0.6"/>
<line x1="109.29" y1="267.4" x2="109.29" y2="269" stroke="#666" stroke-width="0.6"/>
<line x1="114.5" y1="267.4" x2="114.5" y2="269" stroke="#666" stroke-width="0.6"/>
<polygon points="121.9,266.89 122.6,266.18 123.3,264.78 124,263.79 124.7,261.84 125.4,259.72 126.1,257.98 126.8,255.97 127.5,254 128.2,253.07 128.9,251.11 129.6,249.31 130.3,246.97 131,240.19 131.7,236.41 132.4,231.38 133.1,229.83 133.8,231.33 134.5,234.54 135.2,237.86 135.9,243.04 136.6,246.81 137.3,250.06 138,251.27 138.7,252.32 139.4,253.92 140.1,255.45 140.8,255.43 141.5,255.16 142.2,254.24 142.9,253.86 143.6,253.78 144.3,254.34 145,254.4 145.7,256.97 146.4,258.32 147.1,258.95 147.8,259.31 148.5,259.12 149.2,258.69 149.9,257.29 150.6,256.15 151.3,254.65 152,254.5 152.7,254.8 153.4,257.01 154.1,258.28 154.8,259.52 155.5,260.83 156.2,261.86 156.9,262.93 157.6,262.43 158.3,262.52 159,262.44 159.7,261.06 160.4,260.62 161.1,259.72 161.8,259.35 162.5,260.33 163.2,261.21 163.9,261.72 164.6,262.77 165.3,264.16 166,264.97 166.7,266.04 167.4,266.06 168.1,266.9 168.8,266.91 169.5,267.05 170.2,267.13 170.9,267.19 171.6,267.24 172.3,267.27 173,267.29 173.7,267.32 174.4,267.33 175.1,267.35 175.8,267.36 176.5,267.37 177.2,267.37 177.9,267.38 178.6,267.38 179.3,267.39 180,267.39 180.7,267.39 181.4,267.39 182.1,267.4 182.8,267.4 183.5,267.4 184.2,267.4 184.9,267.4 185.6,267.4 186.3,267.4 187,267.4 187.7,267.4 188.4,267.4 189.1,267.4 189.8,267.4 190.5,267.4 191.2,267.4 191.9,267.4 192.6,267.4 193.3,267.4 194,267.4 194.7,267.4 195.4,267.4 196.1,267.4 196.8,267.4 197.1,267.4 121.9,267.4" fill="#bdbdbd" stroke="none"/>
<polyline points="121.9,241.69 122.6,242.02 123.3,241.39 124,241.75 124.7,241.21 125.4,241.32 126.1,241.42 126.8,241.27 127.5,240.44 128.2,240.83 128.9,240.93 129.6,240.33 130.3,240.12 131,240.4 131.7,239.98 132.4,239.67 133.1,239.2 133.8,239.55 134.5,239.48 135.2,238.79 135.9,238.47 136.6,238.36 137.3,238.94 138,238 138.7,237.7 139.4,238.16 140.1,238.37 140.8,237.97 141.5,237.33 142.2,237.5 142.9,237.14 143.6,237.2 144.3,238.03 145,237.95 145.7,237.06 146.4,237.28 147.1,237.81 147.8,238.34 148.5,238.07 149.2,238.43 149.9,238.64 150.6,238.51 151.3,237.96 152,237.28 152.7,237.03 153.4,236.33 154.1,236.71 154.8,235.7 155.5,235.59 156.2,234.17 156.9,233.66 157.6,233.29 158.3,233.78 159,233.31 159.7,231.39 160.4,230.75 161.1,228.4 161.8,226.46 162.5,223.36 163.2,222.34 163.9,217.38 164.6,214.26 165.3,213.08 166,209.05 166.7,207.82 167.4,207.09 168.1,205.45 168.8,201.21 169.5,202.2 170.2,203.68 170.9,207.82 171.6,212.99 172.3,219.13 173,223.76 173.7,229.65 174.4,233.47 175.1,236.93 175.8,239.1 176.5,240.91 177.2,241.58 177.9,242.16 178.6,242.4 179.3,242.51 180,242.56 180.7,242.59 181.4,242.6 182.1,242.6 182.8,242.6 183.5,242.6 184.2,242.6 184.9,242.6 185.6,242.6 186.3,242.6 187,242.6 187.7,242.6 188.4,242.6 189.1,242.6 189.8,242.6 190.5,242.6 191.2,242.6 191.9,242.6 192.6,242.6 193.3,242.6 194,242.6 194.7,242.6 195.4,242.6 196.1,242.6 196.8,242.6" fill="none" stroke="#111" stroke-width="1.3" stroke-linejoin="round"/>
<polyline points="121.9,217.2 122.6,217.2 123.3,217.2 124,217.2 124.7,217.2 125.4,217.2 126.1,217.19 126.8,217.19 127.5,217.17 128.2,217.13 128.9,217.05 129.6,216.91 130.3,216.69 131,216.71 131.7,215.65 132.4,215.4 133.1,214.78 133.8,214.83 134.5,214.44 135.2,213.73 135.9,213.91 136.6,214.53 137.3,214.8 138,215.85 138.7,215.9 139.4,215.49 140.1,215.38 140.8,215.64 141.5,214.73 142.2,215.17 142.9,215.01 143.6,215.91 144.3,215.84 145,215.22 145.7,215.66 146.4,214.92 147.1,214.09 147.8,214.15 148.5,213.8 149.2,214.68 149.9,215.65 150.6,216.34 151.3,216.31 152,216.75 152.7,216.94 153.4,217.01 154.1,217 154.8,216.92 155.5,216.77 156.2,216.81 156.9,216.62 157.6,215.96 158.3,214.53 159,214.31 159.7,213.07 160.4,210.86 161.1,209.29 161.8,207.43 162.5,205.18 163.2,203.12 163.9,201.46 164.6,199.13 165.3,196.37 166,194.82 166.7,192.15 167.4,191.55 168.1,187.47 168.8,185.18 169.5,182.33 170.2,179 170.9,175.56 171.6,174.38 172.3,171.46 173,171.42 173.7,169.57 174.4,171.27 175.1,171.97 175.8,173.15 176.5,182.08 177.2,190.57 177.9,195.83 178.6,202.93 179.3,208.51 180,212.11 180.7,214.14 181.4,215.83 182.1,216.5 182.8,216.91 183.5,217.08 184.2,217.15 184.9,217.18 185.6,217.19 186.3,217.2 187,217.2 187.7,217.2 188.4,217.2 189.1,217.2 189.8,217.2 190.5,217.2 191.2,217.2 191.9,217.2 192.6,217.2 193.3,217.2 194,217.2 194.7,217.2 195.4,217.2 196.1,217.2 196.8,217.2" fill="none" stroke="#d8353a" stroke-width="1.2" stroke-linejoin="round"/>
<rect x="121.4" y="165.4" width="76.2" height="102" fill="none" stroke="#8a8a8a" stroke-width="0.9"/>
<line x1="123.4" y1="267.4" x2="123.4" y2="269" stroke="#666" stroke-width="0.6"/>
<line x1="128.56" y1="267.4" x2="128.56" y2="269" stroke="#666" stroke-width="0.6"/>
<line x1="133.71" y1="267.4" x2="133.71" y2="269" stroke="#666" stroke-width="0.6"/>
<line x1="138.87" y1="267.4" x2="138.87" y2="269" stroke="#666" stroke-width="0.6"/>
<line x1="144.03" y1="267.4" x2="144.03" y2="269" stroke="#666" stroke-width="0.6"/>
<line x1="149.19" y1="267.4" x2="149.19" y2="269" stroke="#666" stroke-width="0.6"/>
<line x1="154.34" y1="267.4" x2="154.34" y2="269" stroke="#666" stroke-width="0.6"/>
<line x1="159.5" y1="267.4" x2="159.5" y2="269" stroke="#666" stroke-width="0.6"/>
<line x1="164.66" y1="267.4" x2="164.66" y2="269" stroke="#666" stroke-width="0.6"/>
<line x1="169.81" y1="267.4" x2="169.81" y2="269" stroke="#666" stroke-width="0.6"/>
<line x1="174.97" y1="267.4" x2="174.97" y2="269" stroke="#666" stroke-width="0.6"/>
<line x1="180.13" y1="267.4" x2="180.13" y2="269" stroke="#666" stroke-width="0.6"/>
<line x1="185.29" y1="267.4" x2="185.29" y2="269" stroke="#666" stroke-width="0.6"/>
<line x1="190.44" y1="267.4" x2="190.44" y2="269" stroke="#666" stroke-width="0.6"/>
<line x1="195.6" y1="267.4" x2="195.6" y2="269" stroke="#666" stroke-width="0.6"/>
<text transform="translate(44.5,179)" font-size="11.5" text-anchor="start" fill="#111" stroke="#111" stroke-width="0.1">PD-1<tspan font-size="6" dy="-3.8">-</tspan><tspan dy="3.8"></tspan></text>
<text transform="translate(44.5,191)" font-size="11.5" text-anchor="start" fill="#d8353a" stroke="#d8353a" stroke-width="0.1">PD-1<tspan font-size="6" dy="-3.8">+</tspan><tspan dy="3.8"></tspan></text>
<text transform="translate(77,256)" font-size="11.6" text-anchor="start" fill="#a3a3a3" stroke="#a3a3a3" stroke-width="0.1">Isotype</text>
<text transform="translate(68.8,275.5)" font-size="7.2" text-anchor="middle" fill="#222" stroke="#222" stroke-width="0.22">0</text>
<line x1="68.8" y1="267.4" x2="68.8" y2="270" stroke="#555" stroke-width="0.7"/>
<text transform="translate(98,275.5)" font-size="6.6" text-anchor="middle" fill="#222" stroke="#222" stroke-width="0.22">10<tspan font-size="3.8" dy="-2.6">3</tspan></text>
<line x1="97.5" y1="267.4" x2="97.5" y2="270" stroke="#555" stroke-width="0.7"/>
<text transform="translate(113,275.5)" font-size="6.6" text-anchor="middle" fill="#222" stroke="#222" stroke-width="0.22">10<tspan font-size="3.8" dy="-2.6">4</tspan></text>
<line x1="112.5" y1="267.4" x2="112.5" y2="270" stroke="#555" stroke-width="0.7"/>
<rect x="66.3" y="267.7" width="5" height="2" fill="#111" stroke="none" stroke-width="1"/>
<rect x="146.1" y="267.7" width="5" height="2" fill="#111" stroke="none" stroke-width="1"/>
<text transform="translate(41,291.5)" font-size="11.8" text-anchor="start" fill="#111" stroke="#111" stroke-width="0.1">CD73</text>
<line x1="70" y1="288" x2="186.6" y2="288" stroke="#111" stroke-width="1.1"/>
<polygon points="191.6,288 185.6,285.7 185.6,290.3" fill="#111"/>
<text transform="translate(18.9,209.5) rotate(-90)" font-size="11.5" text-anchor="middle" fill="#222" stroke="#222" stroke-width="0.08">Events</text>
<text transform="translate(30.8,207.5) rotate(-90)" font-size="11.5" text-anchor="middle" fill="#222" stroke="#222" stroke-width="0.08">(normalized)</text>
<text transform="translate(2.2,159)" font-size="11.5" text-anchor="start" fill="#111" font-weight="bold">b</text>
<line x1="270.5" y1="172" x2="270.5" y2="278" stroke="#1a1a1a" stroke-width="1.3"/>
<line x1="269.9" y1="277.4" x2="394" y2="277.4" stroke="#1a1a1a" stroke-width="1.3"/>
<line x1="267" y1="277.4" x2="270.5" y2="277.4" stroke="#1a1a1a" stroke-width="1.2"/>
<text transform="translate(266.6,280.6) scale(1.1,1)" font-size="10.3" text-anchor="end" fill="#1a1a1a" stroke="#1a1a1a" stroke-width="0.22">0</text>
<line x1="267" y1="256.32" x2="270.5" y2="256.32" stroke="#1a1a1a" stroke-width="1.2"/>
<text transform="translate(266.6,259.52) scale(1.1,1)" font-size="10.3" text-anchor="end" fill="#1a1a1a" stroke="#1a1a1a" stroke-width="0.22">2000</text>
<line x1="267" y1="235.24" x2="270.5" y2="235.24" stroke="#1a1a1a" stroke-width="1.2"/>
<text transform="translate(266.6,238.44) scale(1.1,1)" font-size="10.3" text-anchor="end" fill="#1a1a1a" stroke="#1a1a1a" stroke-width="0.22">4000</text>
<line x1="267" y1="214.16" x2="270.5" y2="214.16" stroke="#1a1a1a" stroke-width="1.2"/>
<text transform="translate(266.6,217.36) scale(1.1,1)" font-size="10.3" text-anchor="end" fill="#1a1a1a" stroke="#1a1a1a" stroke-width="0.22">6000</text>
<line x1="267" y1="193.08" x2="270.5" y2="193.08" stroke="#1a1a1a" stroke-width="1.2"/>
<text transform="translate(266.6,196.28) scale(1.1,1)" font-size="10.3" text-anchor="end" fill="#1a1a1a" stroke="#1a1a1a" stroke-width="0.22">8000</text>
<line x1="267" y1="172" x2="270.5" y2="172" stroke="#1a1a1a" stroke-width="1.2"/>
<text transform="translate(266.6,175.2) scale(1.1,1)" font-size="10.3" text-anchor="end" fill="#1a1a1a" stroke="#1a1a1a" stroke-width="0.22">10000</text>
<line x1="301" y1="277.4" x2="301" y2="280.9" stroke="#1a1a1a" stroke-width="1.2"/>
<line x1="362.8" y1="277.4" x2="362.8" y2="280.9" stroke="#1a1a1a" stroke-width="1.2"/>
<text transform="translate(302.4,291.7) scale(1.02,1)" font-size="11" text-anchor="middle" fill="#1a1a1a" stroke="#1a1a1a" stroke-width="0.22">D0</text>
<text transform="translate(364.6,291.7) scale(1.02,1)" font-size="11" text-anchor="middle" fill="#1a1a1a" stroke="#1a1a1a" stroke-width="0.22">D5</text>
<text transform="translate(235.5,232) rotate(-90) scale(1.03,1)" font-size="10.8" text-anchor="middle" fill="#1a1a1a" stroke="#1a1a1a" stroke-width="0.22">CD73 (MFI)</text>
<circle cx="289.8" cy="229.97" r="1.95" fill="#3a78bb"/>
<circle cx="293.31" cy="232.08" r="1.95" fill="#3a78bb"/>
<circle cx="286.29" cy="232.08" r="1.95" fill="#3a78bb"/>
<circle cx="289.8" cy="237.35" r="1.95" fill="#3a78bb"/>
<circle cx="289.8" cy="243.67" r="1.95" fill="#3a78bb"/>
<circle cx="293.31" cy="245.78" r="1.95" fill="#3a78bb"/>
<circle cx="289.8" cy="254.21" r="1.95" fill="#3a78bb"/>
<circle cx="293.31" cy="258.43" r="1.95" fill="#3a78bb"/>
<circle cx="289.8" cy="260.54" r="1.95" fill="#3a78bb"/>
<circle cx="289.8" cy="267.91" r="1.95" fill="#3a78bb"/>
<rect x="283.35" y="247.89" width="12.9" height="29.51" fill="none" stroke="#3a78bb" stroke-width="1.15"/>
<line x1="289.8" y1="233.13" x2="289.8" y2="261.59" stroke="#3a78bb" stroke-width="1.15"/>
<line x1="285.6" y1="233.13" x2="294" y2="233.13" stroke="#3a78bb" stroke-width="1.15"/>
<line x1="285.6" y1="261.59" x2="294" y2="261.59" stroke="#3a78bb" stroke-width="1.15"/>
<rect x="310.65" y="175.22" width="4.1" height="4.1" fill="#e8402f"/>
<rect x="310.65" y="201.57" width="4.1" height="4.1" fill="#e8402f"/>
<rect x="314.17" y="201.57" width="4.1" height="4.1" fill="#e8402f"/>
<rect x="310.65" y="210" width="4.1" height="4.1" fill="#e8402f"/>
<rect x="310.65" y="217.38" width="4.1" height="4.1" fill="#e8402f"/>
<rect x="314.17" y="218.43" width="4.1" height="4.1" fill="#e8402f"/>
<rect x="310.65" y="230.03" width="4.1" height="4.1" fill="#e8402f"/>
<rect x="310.65" y="240.57" width="4.1" height="4.1" fill="#e8402f"/>
<rect x="314.17" y="240.57" width="4.1" height="4.1" fill="#e8402f"/>
<rect x="310.65" y="247.95" width="4.1" height="4.1" fill="#e8402f"/>
<rect x="306.15" y="221.54" width="13.1" height="55.86" fill="none" stroke="#e8402f" stroke-width="1.15"/>
<line x1="312.7" y1="199.4" x2="312.7" y2="242.62" stroke="#e8402f" stroke-width="1.15"/>
<line x1="308.5" y1="199.4" x2="316.9" y2="199.4" stroke="#e8402f" stroke-width="1.15"/>
<line x1="308.5" y1="242.62" x2="316.9" y2="242.62" stroke="#e8402f" stroke-width="1.15"/>
<circle cx="351.5" cy="233.13" r="1.95" fill="#3a78bb"/>
<circle cx="355.01" cy="238.4" r="1.95" fill="#3a78bb"/>
<circle cx="351.5" cy="241.56" r="1.95" fill="#3a78bb"/>
<circle cx="347.99" cy="242.62" r="1.95" fill="#3a78bb"/>
<circle cx="351.5" cy="248.94" r="1.95" fill="#3a78bb"/>
<circle cx="355.01" cy="250" r="1.95" fill="#3a78bb"/>
<circle cx="347.99" cy="253.16" r="1.95" fill="#3a78bb"/>
<circle cx="351.5" cy="260.54" r="1.95" fill="#3a78bb"/>
<circle cx="355.01" cy="263.7" r="1.95" fill="#3a78bb"/>
<circle cx="351.5" cy="266.86" r="1.95" fill="#3a78bb"/>
<circle cx="347.99" cy="267.91" r="1.95" fill="#3a78bb"/>
<rect x="344.95" y="253.16" width="13.1" height="24.24" fill="none" stroke="#3a78bb" stroke-width="1.15"/>
<line x1="351.5" y1="240.51" x2="351.5" y2="264.22" stroke="#3a78bb" stroke-width="1.15"/>
<line x1="347.3" y1="240.51" x2="355.7" y2="240.51" stroke="#3a78bb" stroke-width="1.15"/>
<line x1="347.3" y1="264.22" x2="355.7" y2="264.22" stroke="#3a78bb" stroke-width="1.15"/>
<rect x="372.55" y="196.3" width="4.1" height="4.1" fill="#e8402f"/>
<rect x="372.55" y="216.33" width="4.1" height="4.1" fill="#e8402f"/>
<rect x="376.06" y="217.38" width="4.1" height="4.1" fill="#e8402f"/>
<rect x="372.55" y="235.3" width="4.1" height="4.1" fill="#e8402f"/>
<rect x="376.06" y="236.35" width="4.1" height="4.1" fill="#e8402f"/>
<rect x="369.04" y="240.57" width="4.1" height="4.1" fill="#e8402f"/>
<rect x="372.55" y="246.89" width="4.1" height="4.1" fill="#e8402f"/>
<rect x="376.06" y="249" width="4.1" height="4.1" fill="#e8402f"/>
<rect x="372.55" y="258.49" width="4.1" height="4.1" fill="#e8402f"/>
<rect x="376.06" y="260.59" width="4.1" height="4.1" fill="#e8402f"/>
<rect x="369.04" y="261.65" width="4.1" height="4.1" fill="#e8402f"/>
<rect x="367.95" y="240.51" width="13.3" height="36.89" fill="none" stroke="#e8402f" stroke-width="1.15"/>
<line x1="374.6" y1="219.43" x2="374.6" y2="260.01" stroke="#e8402f" stroke-width="1.15"/>
<line x1="370.4" y1="219.43" x2="378.8" y2="219.43" stroke="#e8402f" stroke-width="1.15"/>
<line x1="370.4" y1="260.01" x2="378.8" y2="260.01" stroke="#e8402f" stroke-width="1.15"/>
<line x1="288.6" y1="170.6" x2="313" y2="170.6" stroke="#111" stroke-width="1.85"/>
<line x1="288.6" y1="167.8" x2="288.6" y2="173.4" stroke="#111" stroke-width="1.85"/>
<line x1="313" y1="167.8" x2="313" y2="173.4" stroke="#111" stroke-width="1.85"/>
<text transform="translate(301.5,170.9) scale(1.05,1)" font-size="11" text-anchor="middle" fill="#111" stroke="#111" stroke-width="0.22">***</text>
<line x1="350.4" y1="170" x2="375" y2="170" stroke="#111" stroke-width="1.85"/>
<line x1="350.4" y1="167.2" x2="350.4" y2="172.8" stroke="#111" stroke-width="1.85"/>
<line x1="375" y1="167.2" x2="375" y2="172.8" stroke="#111" stroke-width="1.85"/>
<text transform="translate(363.4,170.3) scale(1.05,1)" font-size="11" text-anchor="middle" fill="#111" stroke="#111" stroke-width="0.22">**</text>
<line x1="486.7" y1="200.5" x2="486.7" y2="275.6" stroke="#1a1a1a" stroke-width="1.3"/>
<line x1="486.1" y1="275" x2="553" y2="275" stroke="#1a1a1a" stroke-width="1.3"/>
<line x1="483.7" y1="275" x2="486.7" y2="275" stroke="#1a1a1a" stroke-width="1.2"/>
<text transform="translate(483.3,278.2) scale(1.1,1)" font-size="10.3" text-anchor="end" fill="#1a1a1a" stroke="#1a1a1a" stroke-width="0.22">0</text>
<line x1="483.7" y1="260.1" x2="486.7" y2="260.1" stroke="#1a1a1a" stroke-width="1.2"/>
<text transform="translate(483.3,263.3) scale(1.1,1)" font-size="10.3" text-anchor="end" fill="#1a1a1a" stroke="#1a1a1a" stroke-width="0.22">1000</text>
<line x1="483.7" y1="245.2" x2="486.7" y2="245.2" stroke="#1a1a1a" stroke-width="1.2"/>
<text transform="translate(483.3,248.4) scale(1.1,1)" font-size="10.3" text-anchor="end" fill="#1a1a1a" stroke="#1a1a1a" stroke-width="0.22">2000</text>
<line x1="483.7" y1="230.3" x2="486.7" y2="230.3" stroke="#1a1a1a" stroke-width="1.2"/>
<text transform="translate(483.3,233.5) scale(1.1,1)" font-size="10.3" text-anchor="end" fill="#1a1a1a" stroke="#1a1a1a" stroke-width="0.22">3000</text>
<line x1="483.7" y1="215.4" x2="486.7" y2="215.4" stroke="#1a1a1a" stroke-width="1.2"/>
<text transform="translate(483.3,218.6) scale(1.1,1)" font-size="10.3" text-anchor="end" fill="#1a1a1a" stroke="#1a1a1a" stroke-width="0.22">4000</text>
<line x1="483.7" y1="200.5" x2="486.7" y2="200.5" stroke="#1a1a1a" stroke-width="1.2"/>
<text transform="translate(483.3,203.7) scale(1.1,1)" font-size="10.3" text-anchor="end" fill="#1a1a1a" stroke="#1a1a1a" stroke-width="0.22">5000</text>
<text transform="translate(504.2,287) scale(1.02,1)" font-size="11" text-anchor="middle" fill="#1a1a1a" stroke="#1a1a1a" stroke-width="0.22">D0</text>
<text transform="translate(537.2,287) scale(1.02,1)" font-size="11" text-anchor="middle" fill="#1a1a1a" stroke="#1a1a1a" stroke-width="0.22">D5</text>
<text transform="translate(452,231) rotate(-90) scale(1.09,1)" font-size="10.8" text-anchor="middle" fill="#1a1a1a" stroke="#1a1a1a" stroke-width="0.22">CD73 (MFI)</text>
<line x1="503.4" y1="207.95" x2="536.4" y2="212.42" stroke="#3a78bb" stroke-width="1.15"/>
<line x1="503.4" y1="210.93" x2="536.4" y2="221.36" stroke="#3a78bb" stroke-width="1.15"/>
<line x1="503.4" y1="211.68" x2="536.4" y2="237.75" stroke="#3a78bb" stroke-width="1.15"/>
<line x1="503.4" y1="220.62" x2="536.4" y2="224.34" stroke="#3a78bb" stroke-width="1.15"/>
<line x1="503.4" y1="221.36" x2="536.4" y2="231.79" stroke="#3a78bb" stroke-width="1.15"/>
<line x1="503.4" y1="228.81" x2="536.4" y2="233.28" stroke="#3a78bb" stroke-width="1.15"/>
<line x1="503.4" y1="233.28" x2="536.4" y2="240.73" stroke="#3a78bb" stroke-width="1.15"/>
<line x1="503.4" y1="246.69" x2="536.4" y2="250.41" stroke="#3a78bb" stroke-width="1.15"/>
<line x1="503.4" y1="251.16" x2="536.4" y2="260.1" stroke="#3a78bb" stroke-width="1.15"/>
<line x1="503.4" y1="258.61" x2="536.4" y2="258.61" stroke="#3a78bb" stroke-width="1.15"/>
<line x1="503.4" y1="260.1" x2="536.4" y2="261.59" stroke="#3a78bb" stroke-width="1.15"/>
<line x1="503.4" y1="261.59" x2="536.4" y2="259.36" stroke="#3a78bb" stroke-width="1.15"/>
<circle cx="503.4" cy="207.95" r="2.45" fill="#3a78bb"/>
<circle cx="536.4" cy="212.42" r="2.45" fill="#3a78bb"/>
<circle cx="503.4" cy="210.93" r="2.45" fill="#3a78bb"/>
<circle cx="536.4" cy="221.36" r="2.45" fill="#3a78bb"/>
<circle cx="503.4" cy="211.68" r="2.45" fill="#3a78bb"/>
<circle cx="536.4" cy="237.75" r="2.45" fill="#3a78bb"/>
<circle cx="503.4" cy="220.62" r="2.45" fill="#3a78bb"/>
<circle cx="536.4" cy="224.34" r="2.45" fill="#3a78bb"/>
<circle cx="503.4" cy="221.36" r="2.45" fill="#3a78bb"/>
<circle cx="536.4" cy="231.79" r="2.45" fill="#3a78bb"/>
<circle cx="503.4" cy="228.81" r="2.45" fill="#3a78bb"/>
<circle cx="536.4" cy="233.28" r="2.45" fill="#3a78bb"/>
<circle cx="503.4" cy="233.28" r="2.45" fill="#3a78bb"/>
<circle cx="536.4" cy="240.73" r="2.45" fill="#3a78bb"/>
<circle cx="503.4" cy="246.69" r="2.45" fill="#3a78bb"/>
<circle cx="536.4" cy="250.41" r="2.45" fill="#3a78bb"/>
<circle cx="503.4" cy="251.16" r="2.45" fill="#3a78bb"/>
<circle cx="536.4" cy="260.1" r="2.45" fill="#3a78bb"/>
<circle cx="503.4" cy="258.61" r="2.45" fill="#3a78bb"/>
<circle cx="536.4" cy="258.61" r="2.45" fill="#3a78bb"/>
<circle cx="503.4" cy="260.1" r="2.45" fill="#3a78bb"/>
<circle cx="536.4" cy="261.59" r="2.45" fill="#3a78bb"/>
<circle cx="503.4" cy="261.59" r="2.45" fill="#3a78bb"/>
<circle cx="536.4" cy="259.36" r="2.45" fill="#3a78bb"/>
<line x1="503.4" y1="194.6" x2="536.4" y2="194.6" stroke="#111" stroke-width="1.85"/>
<line x1="503.4" y1="191.8" x2="503.4" y2="197.4" stroke="#111" stroke-width="1.85"/>
<line x1="536.4" y1="191.8" x2="536.4" y2="197.4" stroke="#111" stroke-width="1.85"/>
<text transform="translate(520.6,194.9) scale(1.05,1)" font-size="11" text-anchor="middle" fill="#111" stroke="#111" stroke-width="0.22">**</text>
<line x1="607.7" y1="197.3" x2="607.7" y2="275.2" stroke="#1a1a1a" stroke-width="1.3"/>
<line x1="607.1" y1="274.6" x2="674" y2="274.6" stroke="#1a1a1a" stroke-width="1.3"/>
<line x1="604.7" y1="274.6" x2="607.7" y2="274.6" stroke="#1a1a1a" stroke-width="1.2"/>
<text transform="translate(604.3,277.8) scale(1.1,1)" font-size="10.3" text-anchor="end" fill="#1a1a1a" stroke="#1a1a1a" stroke-width="0.22">0</text>
<line x1="604.7" y1="259.14" x2="607.7" y2="259.14" stroke="#1a1a1a" stroke-width="1.2"/>
<text transform="translate(604.3,262.34) scale(1.1,1)" font-size="10.3" text-anchor="end" fill="#1a1a1a" stroke="#1a1a1a" stroke-width="0.22">2000</text>
<line x1="604.7" y1="243.68" x2="607.7" y2="243.68" stroke="#1a1a1a" stroke-width="1.2"/>
<text transform="translate(604.3,246.88) scale(1.1,1)" font-size="10.3" text-anchor="end" fill="#1a1a1a" stroke="#1a1a1a" stroke-width="0.22">4000</text>
<line x1="604.7" y1="228.22" x2="607.7" y2="228.22" stroke="#1a1a1a" stroke-width="1.2"/>
<text transform="translate(604.3,231.42) scale(1.1,1)" font-size="10.3" text-anchor="end" fill="#1a1a1a" stroke="#1a1a1a" stroke-width="0.22">6000</text>
<line x1="604.7" y1="212.76" x2="607.7" y2="212.76" stroke="#1a1a1a" stroke-width="1.2"/>
<text transform="translate(604.3,215.96) scale(1.1,1)" font-size="10.3" text-anchor="end" fill="#1a1a1a" stroke="#1a1a1a" stroke-width="0.22">8000</text>
<line x1="604.7" y1="197.3" x2="607.7" y2="197.3" stroke="#1a1a1a" stroke-width="1.2"/>
<text transform="translate(604.3,200.5) scale(1.1,1)" font-size="10.3" text-anchor="end" fill="#1a1a1a" stroke="#1a1a1a" stroke-width="0.22">10000</text>
<text transform="translate(624.8,287) scale(1.02,1)" font-size="11" text-anchor="middle" fill="#1a1a1a" stroke="#1a1a1a" stroke-width="0.22">D0</text>
<text transform="translate(658.2,287) scale(1.02,1)" font-size="11" text-anchor="middle" fill="#1a1a1a" stroke="#1a1a1a" stroke-width="0.22">D5</text>
<text transform="translate(571.6,231.5) rotate(-90) scale(1.09,1)" font-size="10.8" text-anchor="middle" fill="#1a1a1a" stroke="#1a1a1a" stroke-width="0.22">CD73 (MFI)</text>
<line x1="624" y1="201.17" x2="657.4" y2="215.85" stroke="#dc3c3c" stroke-width="1.15"/>
<line x1="624" y1="221.26" x2="657.4" y2="230.54" stroke="#dc3c3c" stroke-width="1.15"/>
<line x1="624" y1="222.81" x2="657.4" y2="244.45" stroke="#dc3c3c" stroke-width="1.15"/>
<line x1="624" y1="225.13" x2="657.4" y2="257.59" stroke="#dc3c3c" stroke-width="1.15"/>
<line x1="624" y1="229.77" x2="657.4" y2="232.09" stroke="#dc3c3c" stroke-width="1.15"/>
<line x1="624" y1="231.31" x2="657.4" y2="251.41" stroke="#dc3c3c" stroke-width="1.15"/>
<line x1="624" y1="233.63" x2="657.4" y2="259.91" stroke="#dc3c3c" stroke-width="1.15"/>
<line x1="624" y1="235.18" x2="657.4" y2="263.78" stroke="#dc3c3c" stroke-width="1.15"/>
<line x1="624" y1="242.13" x2="657.4" y2="254.5" stroke="#dc3c3c" stroke-width="1.15"/>
<line x1="624" y1="249.09" x2="657.4" y2="246" stroke="#dc3c3c" stroke-width="1.15"/>
<line x1="624" y1="250.64" x2="657.4" y2="252.18" stroke="#dc3c3c" stroke-width="1.15"/>
<line x1="624" y1="252.18" x2="657.4" y2="262.23" stroke="#dc3c3c" stroke-width="1.15"/>
<line x1="624" y1="253.73" x2="657.4" y2="255.28" stroke="#dc3c3c" stroke-width="1.15"/>
<circle cx="624" cy="201.17" r="2.45" fill="#dc3c3c"/>
<circle cx="657.4" cy="215.85" r="2.45" fill="#dc3c3c"/>
<circle cx="624" cy="221.26" r="2.45" fill="#dc3c3c"/>
<circle cx="657.4" cy="230.54" r="2.45" fill="#dc3c3c"/>
<circle cx="624" cy="222.81" r="2.45" fill="#dc3c3c"/>
<circle cx="657.4" cy="244.45" r="2.45" fill="#dc3c3c"/>
<circle cx="624" cy="225.13" r="2.45" fill="#dc3c3c"/>
<circle cx="657.4" cy="257.59" r="2.45" fill="#dc3c3c"/>
<circle cx="624" cy="229.77" r="2.45" fill="#dc3c3c"/>
<circle cx="657.4" cy="232.09" r="2.45" fill="#dc3c3c"/>
<circle cx="624" cy="231.31" r="2.45" fill="#dc3c3c"/>
<circle cx="657.4" cy="251.41" r="2.45" fill="#dc3c3c"/>
<circle cx="624" cy="233.63" r="2.45" fill="#dc3c3c"/>
<circle cx="657.4" cy="259.91" r="2.45" fill="#dc3c3c"/>
<circle cx="624" cy="235.18" r="2.45" fill="#dc3c3c"/>
<circle cx="657.4" cy="263.78" r="2.45" fill="#dc3c3c"/>
<circle cx="624" cy="242.13" r="2.45" fill="#dc3c3c"/>
<circle cx="657.4" cy="254.5" r="2.45" fill="#dc3c3c"/>
<circle cx="624" cy="249.09" r="2.45" fill="#dc3c3c"/>
<circle cx="657.4" cy="246" r="2.45" fill="#dc3c3c"/>
<circle cx="624" cy="250.64" r="2.45" fill="#dc3c3c"/>
<circle cx="657.4" cy="252.18" r="2.45" fill="#dc3c3c"/>
<circle cx="624" cy="252.18" r="2.45" fill="#dc3c3c"/>
<circle cx="657.4" cy="262.23" r="2.45" fill="#dc3c3c"/>
<circle cx="624" cy="253.73" r="2.45" fill="#dc3c3c"/>
<circle cx="657.4" cy="255.28" r="2.45" fill="#dc3c3c"/>
<line x1="624" y1="194.6" x2="657.4" y2="194.6" stroke="#111" stroke-width="1.85"/>
<line x1="624" y1="191.8" x2="624" y2="197.4" stroke="#111" stroke-width="1.85"/>
<line x1="657.4" y1="191.8" x2="657.4" y2="197.4" stroke="#111" stroke-width="1.85"/>
<text transform="translate(641.4,194.9) scale(1.05,1)" font-size="11" text-anchor="middle" fill="#111" stroke="#111" stroke-width="0.22">**</text>
<polygon points="39.9,409.94 40.6,409.88 41.3,409.78 42,409.61 42.7,409.53 43.4,408.54 44.1,407.95 44.8,406.93 45.5,405.39 46.2,404.16 46.9,401.86 47.6,397.83 48.3,394.47 49,391.06 49.7,386.39 50.4,381.96 51.1,375.96 51.8,374.32 52.5,370.4 53.2,368.27 53.9,370.59 54.6,369.29 55.3,373.43 56,377.35 56.7,380.85 57.4,384.99 58.1,390.28 58.8,394.62 59.5,397.85 60.2,400.97 60.9,403.8 61.6,405.71 62.3,406.9 63,407.82 63.7,408.64 64.4,409.32 65.1,409.58 65.8,409.76 66.5,409.87 67.2,409.93 67.9,409.97 68.6,409.98 69.3,409.99 70,410 70.7,410 71.4,410 72.1,410 72.8,410 73.5,410 74.2,410 74.9,410 75.6,410 76.3,410 77,410 77.7,410 78.4,410 79.1,410 79.8,410 80.5,410 81.2,410 81.9,410 82.6,410 83.3,410 84,410 84.7,410 85.4,410 86.1,410 86.8,410 87.5,410 88.2,410 88.9,410 89.6,410 90.3,410 91,410 91.7,410 92.4,410 93.1,410 93.8,410 94.5,410 95.2,410 95.9,410 96.6,410 97.3,410 98,410 98.7,410 99.4,410 100.1,410 100.8,410 101.5,410 102.2,410 102.9,410 103.6,410 104.3,410 105,410 105.7,410 106.4,410 107.1,410 107.8,410 108.5,410 109.2,410 109.9,410 110.6,410 111.3,410 112,410 112.7,410 113.4,410 114.1,410 114.1,410 39.9,410" fill="#999999" stroke="none"/>
<polyline points="39.9,384.14 40.6,384.09 41.3,383.99 42,383.83 42.7,383.62 43.4,383.41 44.1,382.88 44.8,381.31 45.5,380.02 46.2,378.54 46.9,376.4 47.6,373.74 48.3,371.85 49,368.17 49.7,365.75 50.4,362.72 51.1,361.36 51.8,358.76 52.5,355.97 53.2,353.95 53.9,354.72 54.6,351.88 55.3,353.68 56,353.52 56.7,352.08 57.4,353.66 58.1,354.84 58.8,358.93 59.5,362.5 60.2,364.92 60.9,366.9 61.6,367.91 62.3,368.14 63,370.4 63.7,371.52 64.4,373.39 65.1,376.93 65.8,379.09 66.5,380.42 67.2,382.08 67.9,383.36 68.6,383.73 69.3,384 70,384.12 70.7,384.17 71.4,384.19 72.1,384.2 72.8,384.2 73.5,384.2 74.2,384.2 74.9,384.2 75.6,384.2 76.3,384.2 77,384.2 77.7,384.2 78.4,384.2 79.1,384.2 79.8,384.2 80.5,384.2 81.2,384.2 81.9,384.2 82.6,384.2 83.3,384.2 84,384.2 84.7,384.2 85.4,384.2 86.1,384.2 86.8,384.2 87.5,384.2 88.2,384.2 88.9,384.2 89.6,384.2 90.3,384.2 91,384.2 91.7,384.2 92.4,384.2 93.1,384.2 93.8,384.2 94.5,384.2 95.2,384.2 95.9,384.2 96.6,384.2 97.3,384.2 98,384.2 98.7,384.2 99.4,384.2 100.1,384.2 100.8,384.2 101.5,384.2 102.2,384.2 102.9,384.2 103.6,384.2 104.3,384.2 105,384.2 105.7,384.2 106.4,384.2 107.1,384.2 107.8,384.2 108.5,384.2 109.2,384.2 109.9,384.2 110.6,384.2 111.3,384.2 112,384.2 112.7,384.2 113.4,384.2 114.1,384.2" fill="none" stroke="#111" stroke-width="1.3" stroke-linejoin="round"/>
<polyline points="39.9,359.4 40.6,359.4 41.3,359.4 42,359.39 42.7,359.38 43.4,359.36 44.1,359.32 44.8,359.26 45.5,359.16 46.2,359.01 46.9,358.81 47.6,358.58 48.3,358.17 49,357.61 49.7,357.3 50.4,357.52 51.1,357.35 51.8,356.66 52.5,356.75 53.2,356.97 53.9,356.88 54.6,357.59 55.3,358.11 56,358.32 56.7,358.71 57.4,358.01 58.1,358.15 58.8,357.64 59.5,357.36 60.2,355.77 60.9,355.35 61.6,354.79 62.3,353.08 63,352.25 63.7,352.55 64.4,351.3 65.1,351.46 65.8,350.53 66.5,347.87 67.2,345.17 67.9,343.11 68.6,338.57 69.3,332.93 70,329.15 70.7,324.31 71.4,325.39 72.1,326.25 72.8,328.5 73.5,334.21 74.2,339.32 74.9,345.3 75.6,348.46 76.3,351.33 77,352.6 77.7,351.88 78.4,350.85 79.1,350.21 79.8,349.63 80.5,350.98 81.2,352.86 81.9,354.56 82.6,356.71 83.3,357.37 84,358.43 84.7,358.3 85.4,357.73 86.1,357.33 86.8,357.12 87.5,357 88.2,357.97 88.9,358.26 89.6,358.84 90.3,359.18 91,359.33 91.7,359.38 92.4,359.4 93.1,359.4 93.8,359.4 94.5,359.4 95.2,359.4 95.9,359.4 96.6,359.4 97.3,359.4 98,359.4 98.7,359.4 99.4,359.4 100.1,359.4 100.8,359.4 101.5,359.4 102.2,359.4 102.9,359.4 103.6,359.4 104.3,359.4 105,359.4 105.7,359.4 106.4,359.4 107.1,359.4 107.8,359.4 108.5,359.4 109.2,359.4 109.9,359.4 110.6,359.4 111.3,359.4 112,359.4 112.7,359.4 113.4,359.4 114.1,359.4" fill="none" stroke="#d8353a" stroke-width="1.2" stroke-linejoin="round"/>
<rect x="39.4" y="307" width="75.2" height="103" fill="none" stroke="#8a8a8a" stroke-width="0.9"/>
<line x1="41.4" y1="410" x2="41.4" y2="411.6" stroke="#666" stroke-width="0.6"/>
<line x1="46.49" y1="410" x2="46.49" y2="411.6" stroke="#666" stroke-width="0.6"/>
<line x1="51.57" y1="410" x2="51.57" y2="411.6" stroke="#666" stroke-width="0.6"/>
<line x1="56.66" y1="410" x2="56.66" y2="411.6" stroke="#666" stroke-width="0.6"/>
<line x1="61.74" y1="410" x2="61.74" y2="411.6" stroke="#666" stroke-width="0.6"/>
<line x1="66.83" y1="410" x2="66.83" y2="411.6" stroke="#666" stroke-width="0.6"/>
<line x1="71.91" y1="410" x2="71.91" y2="411.6" stroke="#666" stroke-width="0.6"/>
<line x1="77" y1="410" x2="77" y2="411.6" stroke="#666" stroke-width="0.6"/>
<line x1="82.09" y1="410" x2="82.09" y2="411.6" stroke="#666" stroke-width="0.6"/>
<line x1="87.17" y1="410" x2="87.17" y2="411.6" stroke="#666" stroke-width="0.6"/>
<line x1="92.26" y1="410" x2="92.26" y2="411.6" stroke="#666" stroke-width="0.6"/>
<line x1="97.34" y1="410" x2="97.34" y2="411.6" stroke="#666" stroke-width="0.6"/>
<line x1="102.43" y1="410" x2="102.43" y2="411.6" stroke="#666" stroke-width="0.6"/>
<line x1="107.51" y1="410" x2="107.51" y2="411.6" stroke="#666" stroke-width="0.6"/>
<line x1="112.6" y1="410" x2="112.6" y2="411.6" stroke="#666" stroke-width="0.6"/>
<polygon points="121.1,409.98 121.8,409.95 122.5,409.9 123.2,409.8 123.9,409.63 124.6,409.58 125.3,408.71 126,408.28 126.7,406.72 127.4,405.66 128.1,402.69 128.8,400.54 129.5,395.95 130.2,392.07 130.9,387.18 131.6,382.65 132.3,378.12 133,371.96 133.7,370.3 134.4,367.31 135.1,368.37 135.8,368.08 136.5,371.69 137.2,373.64 137.9,378.94 138.6,382.91 139.3,389.01 140,393.82 140.7,398.26 141.4,401.04 142.1,404.08 142.8,405.55 143.5,407.72 144.2,408.03 144.9,408.71 145.6,409.44 146.3,409.69 147,409.83 147.7,409.91 148.4,409.96 149.1,409.98 149.8,409.99 150.5,410 151.2,410 151.9,410 152.6,410 153.3,410 154,410 154.7,410 155.4,410 156.1,410 156.8,410 157.5,410 158.2,410 158.9,410 159.6,410 160.3,410 161,410 161.7,410 162.4,410 163.1,410 163.8,410 164.5,410 165.2,410 165.9,410 166.6,410 167.3,410 168,410 168.7,410 169.4,410 170.1,410 170.8,410 171.5,410 172.2,410 172.9,410 173.6,410 174.3,410 175,410 175.7,410 176.4,410 177.1,410 177.8,410 178.5,410 179.2,410 179.9,410 180.6,410 181.3,410 182,410 182.7,410 183.4,410 184.1,410 184.8,410 185.5,410 186.2,410 186.9,410 187.6,410 188.3,410 189,410 189.7,410 190.4,410 191.1,410 191.8,410 192.5,410 193.2,410 193.9,410 194.6,410 195.3,410 196,410 196.5,410 121.1,410" fill="#999999" stroke="none"/>
<polyline points="121.1,383.74 121.8,383.23 122.5,382.66 123.2,382.35 123.9,381.52 124.6,379.79 125.3,378.54 126,377.17 126.7,375.06 127.4,373.12 128.1,370.8 128.8,368.22 129.5,365.09 130.2,361.6 130.9,359 131.6,357.48 132.3,354.31 133,353.85 133.7,351.42 134.4,348.7 135.1,348.77 135.8,346.01 136.5,347.88 137.2,347.96 137.9,349.49 138.6,348.03 139.3,351.21 140,354.76 140.7,357.52 141.4,360 142.1,362.13 142.8,365.86 143.5,367.63 144.2,370.67 144.9,372.71 145.6,374.51 146.3,376.36 147,377.67 147.7,378.68 148.4,380.09 149.1,380.41 149.8,381.45 150.5,382.56 151.2,383.14 151.9,383.51 152.6,383.74 153.3,383.93 154,384.05 154.7,384.12 155.4,384.16 156.1,384.18 156.8,384.19 157.5,384.2 158.2,384.2 158.9,384.2 159.6,384.2 160.3,384.2 161,384.2 161.7,384.2 162.4,384.2 163.1,384.2 163.8,384.2 164.5,384.2 165.2,384.2 165.9,384.2 166.6,384.2 167.3,384.2 168,384.2 168.7,384.2 169.4,384.2 170.1,384.2 170.8,384.2 171.5,384.2 172.2,384.2 172.9,384.2 173.6,384.2 174.3,384.2 175,384.2 175.7,384.2 176.4,384.2 177.1,384.2 177.8,384.2 178.5,384.2 179.2,384.2 179.9,384.2 180.6,384.2 181.3,384.2 182,384.2 182.7,384.2 183.4,384.2 184.1,384.2 184.8,384.2 185.5,384.2 186.2,384.2 186.9,384.2 187.6,384.2 188.3,384.2 189,384.2 189.7,384.2 190.4,384.2 191.1,384.2 191.8,384.2 192.5,384.2 193.2,384.2 193.9,384.2 194.6,384.2 195.3,384.2 196,384.2" fill="none" stroke="#111" stroke-width="1.3" stroke-linejoin="round"/>
<polyline points="121.1,359.4 121.8,359.4 122.5,359.4 123.2,359.4 123.9,359.39 124.6,359.38 125.3,359.34 126,359.27 126.7,359.1 127.4,358.68 128.1,358.23 128.8,357.04 129.5,355.42 130.2,353.4 130.9,350.36 131.6,345.3 132.3,341.59 133,336.6 133.7,332.17 134.4,327.42 135.1,327.49 135.8,325.49 136.5,331.04 137.2,335.21 137.9,338.29 138.6,341.32 139.3,342.57 140,343.94 140.7,344.64 141.4,346.69 142.1,348.93 142.8,351.22 143.5,353.34 144.2,355.18 144.9,355.13 145.6,356.14 146.3,355.9 147,356.86 147.7,357.01 148.4,357.47 149.1,357.26 149.8,356.47 150.5,353.52 151.2,350.46 151.9,346.42 152.6,346.97 153.3,347.68 154,351.09 154.7,354.93 155.4,355.66 156.1,356.03 156.8,356.33 157.5,355.37 158.2,355.67 158.9,355.42 159.6,355.28 160.3,355.74 161,356.46 161.7,356.26 162.4,356.2 163.1,356.94 163.8,356.92 164.5,357.49 165.2,357.05 165.9,358.37 166.6,358.56 167.3,358.85 168,359.11 168.7,359.27 169.4,359.34 170.1,359.38 170.8,359.39 171.5,359.4 172.2,359.4 172.9,359.4 173.6,359.4 174.3,359.4 175,359.4 175.7,359.4 176.4,359.4 177.1,359.4 177.8,359.4 178.5,359.4 179.2,359.4 179.9,359.4 180.6,359.4 181.3,359.4 182,359.4 182.7,359.4 183.4,359.4 184.1,359.4 184.8,359.4 185.5,359.4 186.2,359.4 186.9,359.4 187.6,359.4 188.3,359.4 189,359.4 189.7,359.4 190.4,359.4 191.1,359.4 191.8,359.4 192.5,359.4 193.2,359.4 193.9,359.4 194.6,359.4 195.3,359.4 196,359.4" fill="none" stroke="#d8353a" stroke-width="1.2" stroke-linejoin="round"/>
<rect x="120.6" y="307.4" width="76.4" height="102.6" fill="none" stroke="#8a8a8a" stroke-width="0.9"/>
<line x1="122.6" y1="410" x2="122.6" y2="411.6" stroke="#666" stroke-width="0.6"/>
<line x1="127.77" y1="410" x2="127.77" y2="411.6" stroke="#666" stroke-width="0.6"/>
<line x1="132.94" y1="410" x2="132.94" y2="411.6" stroke="#666" stroke-width="0.6"/>
<line x1="138.11" y1="410" x2="138.11" y2="411.6" stroke="#666" stroke-width="0.6"/>
<line x1="143.29" y1="410" x2="143.29" y2="411.6" stroke="#666" stroke-width="0.6"/>
<line x1="148.46" y1="410" x2="148.46" y2="411.6" stroke="#666" stroke-width="0.6"/>
<line x1="153.63" y1="410" x2="153.63" y2="411.6" stroke="#666" stroke-width="0.6"/>
<line x1="158.8" y1="410" x2="158.8" y2="411.6" stroke="#666" stroke-width="0.6"/>
<line x1="163.97" y1="410" x2="163.97" y2="411.6" stroke="#666" stroke-width="0.6"/>
<line x1="169.14" y1="410" x2="169.14" y2="411.6" stroke="#666" stroke-width="0.6"/>
<line x1="174.31" y1="410" x2="174.31" y2="411.6" stroke="#666" stroke-width="0.6"/>
<line x1="179.49" y1="410" x2="179.49" y2="411.6" stroke="#666" stroke-width="0.6"/>
<line x1="184.66" y1="410" x2="184.66" y2="411.6" stroke="#666" stroke-width="0.6"/>
<line x1="189.83" y1="410" x2="189.83" y2="411.6" stroke="#666" stroke-width="0.6"/>
<line x1="195" y1="410" x2="195" y2="411.6" stroke="#666" stroke-width="0.6"/>
<line x1="120.6" y1="307.4" x2="120.6" y2="410" stroke="#333" stroke-width="1.1"/>
<text transform="translate(44.5,318.5)" font-size="11.5" text-anchor="start" fill="#111" stroke="#111" stroke-width="0.1">PD-1<tspan font-size="6" dy="-3.8">-</tspan><tspan dy="3.8"></tspan></text>
<text transform="translate(44.5,331)" font-size="11.5" text-anchor="start" fill="#d8353a" stroke="#d8353a" stroke-width="0.1">PD-1<tspan font-size="6" dy="-3.8">+</tspan><tspan dy="3.8"></tspan></text>
<text transform="translate(68.5,392)" font-size="11.6" text-anchor="start" fill="#a3a3a3" stroke="#a3a3a3" stroke-width="0.1">Isotype</text>
<text transform="translate(57.6,418.5)" font-size="7.2" text-anchor="middle" fill="#222" stroke="#222" stroke-width="0.22">0</text>
<line x1="57.6" y1="410" x2="57.6" y2="412.6" stroke="#555" stroke-width="0.7"/>
<text transform="translate(92.4,418.5)" font-size="6.6" text-anchor="middle" fill="#222" stroke="#222" stroke-width="0.22">10<tspan font-size="3.8" dy="-2.6">3</tspan></text>
<line x1="91.9" y1="410" x2="91.9" y2="412.6" stroke="#555" stroke-width="0.7"/>
<text transform="translate(109.6,418.5)" font-size="6.6" text-anchor="middle" fill="#222" stroke="#222" stroke-width="0.22">10<tspan font-size="3.8" dy="-2.6">4</tspan></text>
<line x1="109.1" y1="410" x2="109.1" y2="412.6" stroke="#555" stroke-width="0.7"/>
<rect x="52.5" y="410.3" width="5" height="2" fill="#111" stroke="none" stroke-width="1"/>
<rect x="134.1" y="410.3" width="5" height="2" fill="#111" stroke="none" stroke-width="1"/>
<text transform="translate(42,431.5)" font-size="11.8" text-anchor="start" fill="#111" stroke="#111" stroke-width="0.1">CD103</text>
<line x1="78" y1="428" x2="187.4" y2="428" stroke="#111" stroke-width="1.1"/>
<polygon points="192.4,428 186.4,425.7 186.4,430.3" fill="#111"/>
<text transform="translate(18.9,351.5) rotate(-90)" font-size="11.5" text-anchor="middle" fill="#222" stroke="#222" stroke-width="0.08">Events</text>
<text transform="translate(30.8,349.5) rotate(-90)" font-size="11.5" text-anchor="middle" fill="#222" stroke="#222" stroke-width="0.08">(normalized)</text>
<text transform="translate(2.2,302.5)" font-size="11.5" text-anchor="start" fill="#111" font-weight="bold">c</text>
<line x1="270.4" y1="310" x2="270.4" y2="416" stroke="#1a1a1a" stroke-width="1.3"/>
<line x1="269.8" y1="415.4" x2="393.6" y2="415.4" stroke="#1a1a1a" stroke-width="1.3"/>
<line x1="266.9" y1="415.4" x2="270.4" y2="415.4" stroke="#1a1a1a" stroke-width="1.2"/>
<text transform="translate(266.5,418.6) scale(1.1,1)" font-size="10.3" text-anchor="end" fill="#1a1a1a" stroke="#1a1a1a" stroke-width="0.22">0</text>
<line x1="266.9" y1="389.05" x2="270.4" y2="389.05" stroke="#1a1a1a" stroke-width="1.2"/>
<text transform="translate(266.5,392.25) scale(1.1,1)" font-size="10.3" text-anchor="end" fill="#1a1a1a" stroke="#1a1a1a" stroke-width="0.22">20</text>
<line x1="266.9" y1="362.7" x2="270.4" y2="362.7" stroke="#1a1a1a" stroke-width="1.2"/>
<text transform="translate(266.5,365.9) scale(1.1,1)" font-size="10.3" text-anchor="end" fill="#1a1a1a" stroke="#1a1a1a" stroke-width="0.22">40</text>
<line x1="266.9" y1="336.35" x2="270.4" y2="336.35" stroke="#1a1a1a" stroke-width="1.2"/>
<text transform="translate(266.5,339.55) scale(1.1,1)" font-size="10.3" text-anchor="end" fill="#1a1a1a" stroke="#1a1a1a" stroke-width="0.22">60</text>
<line x1="266.9" y1="310" x2="270.4" y2="310" stroke="#1a1a1a" stroke-width="1.2"/>
<text transform="translate(266.5,313.2) scale(1.1,1)" font-size="10.3" text-anchor="end" fill="#1a1a1a" stroke="#1a1a1a" stroke-width="0.22">80</text>
<line x1="301" y1="415.4" x2="301" y2="418.9" stroke="#1a1a1a" stroke-width="1.2"/>
<line x1="362.8" y1="415.4" x2="362.8" y2="418.9" stroke="#1a1a1a" stroke-width="1.2"/>
<text transform="translate(302,430.5) scale(1.02,1)" font-size="11" text-anchor="middle" fill="#1a1a1a" stroke="#1a1a1a" stroke-width="0.22">D0</text>
<text transform="translate(364.4,430.5) scale(1.02,1)" font-size="11" text-anchor="middle" fill="#1a1a1a" stroke="#1a1a1a" stroke-width="0.22">D5</text>
<text transform="translate(247,368.3) rotate(-90) scale(1.03,1)" font-size="10.8" text-anchor="middle" fill="#1a1a1a" stroke="#1a1a1a" stroke-width="0.22">CD103 (%)</text>
<circle cx="289.8" cy="407.5" r="1.95" fill="#3a78bb"/>
<circle cx="293.31" cy="410.13" r="1.95" fill="#3a78bb"/>
<circle cx="286.29" cy="410.13" r="1.95" fill="#3a78bb"/>
<circle cx="289.8" cy="410.79" r="1.95" fill="#3a78bb"/>
<circle cx="293.31" cy="411.45" r="1.95" fill="#3a78bb"/>
<circle cx="286.29" cy="411.45" r="1.95" fill="#3a78bb"/>
<circle cx="289.8" cy="412.11" r="1.95" fill="#3a78bb"/>
<circle cx="293.31" cy="412.76" r="1.95" fill="#3a78bb"/>
<circle cx="286.29" cy="412.76" r="1.95" fill="#3a78bb"/>
<circle cx="289.8" cy="413.42" r="1.95" fill="#3a78bb"/>
<circle cx="293.31" cy="414.08" r="1.95" fill="#3a78bb"/>
<rect x="283.35" y="411.45" width="12.9" height="3.95" fill="none" stroke="#3a78bb" stroke-width="1.15"/>
<line x1="289.8" y1="409.47" x2="289.8" y2="413.42" stroke="#3a78bb" stroke-width="1.15"/>
<line x1="285.6" y1="409.47" x2="294" y2="409.47" stroke="#3a78bb" stroke-width="1.15"/>
<line x1="285.6" y1="413.42" x2="294" y2="413.42" stroke="#3a78bb" stroke-width="1.15"/>
<rect x="310.65" y="336.94" width="4.1" height="4.1" fill="#e8402f"/>
<rect x="314.17" y="340.89" width="4.1" height="4.1" fill="#e8402f"/>
<rect x="310.65" y="360.65" width="4.1" height="4.1" fill="#e8402f"/>
<rect x="310.65" y="369.87" width="4.1" height="4.1" fill="#e8402f"/>
<rect x="314.17" y="371.19" width="4.1" height="4.1" fill="#e8402f"/>
<rect x="307.14" y="372.51" width="4.1" height="4.1" fill="#e8402f"/>
<rect x="310.65" y="380.41" width="4.1" height="4.1" fill="#e8402f"/>
<rect x="310.65" y="387" width="4.1" height="4.1" fill="#e8402f"/>
<rect x="310.65" y="397.54" width="4.1" height="4.1" fill="#e8402f"/>
<rect x="314.17" y="398.86" width="4.1" height="4.1" fill="#e8402f"/>
<rect x="306.15" y="375.88" width="13.1" height="39.52" fill="none" stroke="#e8402f" stroke-width="1.15"/>
<line x1="312.7" y1="353.48" x2="312.7" y2="394.98" stroke="#e8402f" stroke-width="1.15"/>
<line x1="308.5" y1="353.48" x2="316.9" y2="353.48" stroke="#e8402f" stroke-width="1.15"/>
<line x1="308.5" y1="394.98" x2="316.9" y2="394.98" stroke="#e8402f" stroke-width="1.15"/>
<circle cx="351.5" cy="407.5" r="1.95" fill="#3a78bb"/>
<circle cx="355.01" cy="408.81" r="1.95" fill="#3a78bb"/>
<circle cx="347.99" cy="410.13" r="1.95" fill="#3a78bb"/>
<circle cx="351.5" cy="411.45" r="1.95" fill="#3a78bb"/>
<circle cx="355.01" cy="411.45" r="1.95" fill="#3a78bb"/>
<circle cx="347.99" cy="412.11" r="1.95" fill="#3a78bb"/>
<circle cx="351.5" cy="412.76" r="1.95" fill="#3a78bb"/>
<circle cx="355.01" cy="413.42" r="1.95" fill="#3a78bb"/>
<circle cx="347.99" cy="414.08" r="1.95" fill="#3a78bb"/>
<circle cx="351.5" cy="414.08" r="1.95" fill="#3a78bb"/>
<circle cx="355.01" cy="414.74" r="1.95" fill="#3a78bb"/>
<rect x="344.95" y="412.11" width="13.1" height="3.29" fill="none" stroke="#3a78bb" stroke-width="1.15"/>
<line x1="351.5" y1="410.13" x2="351.5" y2="414.08" stroke="#3a78bb" stroke-width="1.15"/>
<line x1="347.3" y1="410.13" x2="355.7" y2="410.13" stroke="#3a78bb" stroke-width="1.15"/>
<line x1="347.3" y1="414.08" x2="355.7" y2="414.08" stroke="#3a78bb" stroke-width="1.15"/>
<rect x="372.55" y="375.14" width="4.1" height="4.1" fill="#e8402f"/>
<rect x="372.55" y="384.36" width="4.1" height="4.1" fill="#e8402f"/>
<rect x="376.06" y="384.36" width="4.1" height="4.1" fill="#e8402f"/>
<rect x="369.04" y="387" width="4.1" height="4.1" fill="#e8402f"/>
<rect x="372.55" y="393.59" width="4.1" height="4.1" fill="#e8402f"/>
<rect x="372.55" y="400.17" width="4.1" height="4.1" fill="#e8402f"/>
<rect x="372.55" y="406.76" width="4.1" height="4.1" fill="#e8402f"/>
<rect x="376.06" y="408.08" width="4.1" height="4.1" fill="#e8402f"/>
<rect x="369.04" y="408.08" width="4.1" height="4.1" fill="#e8402f"/>
<rect x="372.55" y="409.4" width="4.1" height="4.1" fill="#e8402f"/>
<rect x="376.06" y="410.71" width="4.1" height="4.1" fill="#e8402f"/>
<rect x="367.95" y="398.27" width="13.3" height="17.13" fill="none" stroke="#e8402f" stroke-width="1.15"/>
<line x1="374.6" y1="386.41" x2="374.6" y2="410.13" stroke="#e8402f" stroke-width="1.15"/>
<line x1="370.4" y1="386.41" x2="378.8" y2="386.41" stroke="#e8402f" stroke-width="1.15"/>
<line x1="370.4" y1="410.13" x2="378.8" y2="410.13" stroke="#e8402f" stroke-width="1.15"/>
<line x1="288.6" y1="333" x2="312.6" y2="333" stroke="#111" stroke-width="1.85"/>
<line x1="288.6" y1="330.2" x2="288.6" y2="335.8" stroke="#111" stroke-width="1.85"/>
<line x1="312.6" y1="330.2" x2="312.6" y2="335.8" stroke="#111" stroke-width="1.85"/>
<text transform="translate(301.3,333.3) scale(1.05,1)" font-size="11" text-anchor="middle" fill="#111" stroke="#111" stroke-width="0.22">**</text>
<line x1="351.6" y1="332.4" x2="376" y2="332.4" stroke="#111" stroke-width="1.85"/>
<line x1="351.6" y1="329.6" x2="351.6" y2="335.2" stroke="#111" stroke-width="1.85"/>
<line x1="376" y1="329.6" x2="376" y2="335.2" stroke="#111" stroke-width="1.85"/>
<text transform="translate(364.5,332.7) scale(1.05,1)" font-size="11" text-anchor="middle" fill="#111" stroke="#111" stroke-width="0.22">**</text>
<line x1="487.4" y1="327.4" x2="487.4" y2="416" stroke="#1a1a1a" stroke-width="1.3"/>
<line x1="486.8" y1="415.4" x2="553.6" y2="415.4" stroke="#1a1a1a" stroke-width="1.3"/>
<line x1="484.4" y1="415.4" x2="487.4" y2="415.4" stroke="#1a1a1a" stroke-width="1.2"/>
<text transform="translate(484,418.6) scale(1.1,1)" font-size="10.3" text-anchor="end" fill="#1a1a1a" stroke="#1a1a1a" stroke-width="0.22">0</text>
<line x1="484.4" y1="393.4" x2="487.4" y2="393.4" stroke="#1a1a1a" stroke-width="1.2"/>
<text transform="translate(484,396.6) scale(1.1,1)" font-size="10.3" text-anchor="end" fill="#1a1a1a" stroke="#1a1a1a" stroke-width="0.22">2</text>
<line x1="484.4" y1="371.4" x2="487.4" y2="371.4" stroke="#1a1a1a" stroke-width="1.2"/>
<text transform="translate(484,374.6) scale(1.1,1)" font-size="10.3" text-anchor="end" fill="#1a1a1a" stroke="#1a1a1a" stroke-width="0.22">4</text>
<line x1="484.4" y1="349.4" x2="487.4" y2="349.4" stroke="#1a1a1a" stroke-width="1.2"/>
<text transform="translate(484,352.6) scale(1.1,1)" font-size="10.3" text-anchor="end" fill="#1a1a1a" stroke="#1a1a1a" stroke-width="0.22">6</text>
<line x1="484.4" y1="327.4" x2="487.4" y2="327.4" stroke="#1a1a1a" stroke-width="1.2"/>
<text transform="translate(484,330.6) scale(1.1,1)" font-size="10.3" text-anchor="end" fill="#1a1a1a" stroke="#1a1a1a" stroke-width="0.22">8</text>
<text transform="translate(504.4,427) scale(1.02,1)" font-size="11" text-anchor="middle" fill="#1a1a1a" stroke="#1a1a1a" stroke-width="0.22">D0</text>
<text transform="translate(537.8,427) scale(1.02,1)" font-size="11" text-anchor="middle" fill="#1a1a1a" stroke="#1a1a1a" stroke-width="0.22">D5</text>
<text transform="translate(469,366.5) rotate(-90) scale(1.09,1)" font-size="10.8" text-anchor="middle" fill="#1a1a1a" stroke="#1a1a1a" stroke-width="0.22">CD103 (%)</text>
<line x1="503.6" y1="348.3" x2="537" y2="365.9" stroke="#3a78bb" stroke-width="1.15"/>
<line x1="503.6" y1="372.5" x2="537" y2="350.5" stroke="#3a78bb" stroke-width="1.15"/>
<line x1="503.6" y1="378" x2="537" y2="380.2" stroke="#3a78bb" stroke-width="1.15"/>
<line x1="503.6" y1="379.1" x2="537" y2="392.3" stroke="#3a78bb" stroke-width="1.15"/>
<line x1="503.6" y1="381.3" x2="537" y2="404.4" stroke="#3a78bb" stroke-width="1.15"/>
<line x1="503.6" y1="383.5" x2="537" y2="393.4" stroke="#3a78bb" stroke-width="1.15"/>
<line x1="503.6" y1="385.7" x2="537" y2="405.5" stroke="#3a78bb" stroke-width="1.15"/>
<line x1="503.6" y1="387.9" x2="537" y2="395.6" stroke="#3a78bb" stroke-width="1.15"/>
<line x1="503.6" y1="390.1" x2="537" y2="407.7" stroke="#3a78bb" stroke-width="1.15"/>
<line x1="503.6" y1="408.8" x2="537" y2="409.9" stroke="#3a78bb" stroke-width="1.15"/>
<line x1="503.6" y1="409.35" x2="537" y2="412.1" stroke="#3a78bb" stroke-width="1.15"/>
<circle cx="503.6" cy="348.3" r="2.45" fill="#3a78bb"/>
<circle cx="537" cy="365.9" r="2.45" fill="#3a78bb"/>
<circle cx="503.6" cy="372.5" r="2.45" fill="#3a78bb"/>
<circle cx="537" cy="350.5" r="2.45" fill="#3a78bb"/>
<circle cx="503.6" cy="378" r="2.45" fill="#3a78bb"/>
<circle cx="537" cy="380.2" r="2.45" fill="#3a78bb"/>
<circle cx="503.6" cy="379.1" r="2.45" fill="#3a78bb"/>
<circle cx="537" cy="392.3" r="2.45" fill="#3a78bb"/>
<circle cx="503.6" cy="381.3" r="2.45" fill="#3a78bb"/>
<circle cx="537" cy="404.4" r="2.45" fill="#3a78bb"/>
<circle cx="503.6" cy="383.5" r="2.45" fill="#3a78bb"/>
<circle cx="537" cy="393.4" r="2.45" fill="#3a78bb"/>
<circle cx="503.6" cy="385.7" r="2.45" fill="#3a78bb"/>
<circle cx="537" cy="405.5" r="2.45" fill="#3a78bb"/>
<circle cx="503.6" cy="387.9" r="2.45" fill="#3a78bb"/>
<circle cx="537" cy="395.6" r="2.45" fill="#3a78bb"/>
<circle cx="503.6" cy="390.1" r="2.45" fill="#3a78bb"/>
<circle cx="537" cy="407.7" r="2.45" fill="#3a78bb"/>
<circle cx="503.6" cy="408.8" r="2.45" fill="#3a78bb"/>
<circle cx="537" cy="409.9" r="2.45" fill="#3a78bb"/>
<circle cx="503.6" cy="409.35" r="2.45" fill="#3a78bb"/>
<circle cx="537" cy="412.1" r="2.45" fill="#3a78bb"/>
<line x1="503.6" y1="341" x2="537" y2="341" stroke="#111" stroke-width="1.85"/>
<line x1="503.6" y1="338.2" x2="503.6" y2="343.8" stroke="#111" stroke-width="1.85"/>
<line x1="537" y1="338.2" x2="537" y2="343.8" stroke="#111" stroke-width="1.85"/>
<text transform="translate(520.3,337.5)" font-size="10.5" text-anchor="middle" fill="#111" stroke="#111" stroke-width="0.22">ns</text>
<line x1="607.4" y1="330" x2="607.4" y2="415.6" stroke="#1a1a1a" stroke-width="1.3"/>
<line x1="606.8" y1="415" x2="674" y2="415" stroke="#1a1a1a" stroke-width="1.3"/>
<line x1="604.4" y1="415" x2="607.4" y2="415" stroke="#1a1a1a" stroke-width="1.2"/>
<text transform="translate(604,418.2) scale(1.1,1)" font-size="10.3" text-anchor="end" fill="#1a1a1a" stroke="#1a1a1a" stroke-width="0.22">0</text>
<line x1="604.4" y1="393.75" x2="607.4" y2="393.75" stroke="#1a1a1a" stroke-width="1.2"/>
<text transform="translate(604,396.95) scale(1.1,1)" font-size="10.3" text-anchor="end" fill="#1a1a1a" stroke="#1a1a1a" stroke-width="0.22">20</text>
<line x1="604.4" y1="372.5" x2="607.4" y2="372.5" stroke="#1a1a1a" stroke-width="1.2"/>
<text transform="translate(604,375.7) scale(1.1,1)" font-size="10.3" text-anchor="end" fill="#1a1a1a" stroke="#1a1a1a" stroke-width="0.22">40</text>
<line x1="604.4" y1="351.25" x2="607.4" y2="351.25" stroke="#1a1a1a" stroke-width="1.2"/>
<text transform="translate(604,354.45) scale(1.1,1)" font-size="10.3" text-anchor="end" fill="#1a1a1a" stroke="#1a1a1a" stroke-width="0.22">60</text>
<line x1="604.4" y1="330" x2="607.4" y2="330" stroke="#1a1a1a" stroke-width="1.2"/>
<text transform="translate(604,333.2) scale(1.1,1)" font-size="10.3" text-anchor="end" fill="#1a1a1a" stroke="#1a1a1a" stroke-width="0.22">80</text>
<text transform="translate(624.8,427) scale(1.02,1)" font-size="11" text-anchor="middle" fill="#1a1a1a" stroke="#1a1a1a" stroke-width="0.22">D0</text>
<text transform="translate(657.8,427) scale(1.02,1)" font-size="11" text-anchor="middle" fill="#1a1a1a" stroke="#1a1a1a" stroke-width="0.22">D5</text>
<text transform="translate(586,366.5) rotate(-90) scale(1.09,1)" font-size="10.8" text-anchor="middle" fill="#1a1a1a" stroke="#1a1a1a" stroke-width="0.22">CD103 (%)</text>
<line x1="624" y1="353.38" x2="657" y2="391.62" stroke="#dc3c3c" stroke-width="1.15"/>
<line x1="624" y1="356.56" x2="657" y2="409.69" stroke="#dc3c3c" stroke-width="1.15"/>
<line x1="624" y1="372.5" x2="657" y2="400.12" stroke="#dc3c3c" stroke-width="1.15"/>
<line x1="624" y1="379.94" x2="657" y2="393.75" stroke="#dc3c3c" stroke-width="1.15"/>
<line x1="624" y1="382.06" x2="657" y2="410.75" stroke="#dc3c3c" stroke-width="1.15"/>
<line x1="624" y1="384.19" x2="657" y2="404.38" stroke="#dc3c3c" stroke-width="1.15"/>
<line x1="624" y1="388.44" x2="657" y2="384.19" stroke="#dc3c3c" stroke-width="1.15"/>
<line x1="624" y1="394.81" x2="657" y2="390.56" stroke="#dc3c3c" stroke-width="1.15"/>
<line x1="624" y1="402.25" x2="657" y2="411.81" stroke="#dc3c3c" stroke-width="1.15"/>
<line x1="624" y1="403.31" x2="657" y2="412.88" stroke="#dc3c3c" stroke-width="1.15"/>
<circle cx="624" cy="353.38" r="2.45" fill="#dc3c3c"/>
<circle cx="657" cy="391.62" r="2.45" fill="#dc3c3c"/>
<circle cx="624" cy="356.56" r="2.45" fill="#dc3c3c"/>
<circle cx="657" cy="409.69" r="2.45" fill="#dc3c3c"/>
<circle cx="624" cy="372.5" r="2.45" fill="#dc3c3c"/>
<circle cx="657" cy="400.12" r="2.45" fill="#dc3c3c"/>
<circle cx="624" cy="379.94" r="2.45" fill="#dc3c3c"/>
<circle cx="657" cy="393.75" r="2.45" fill="#dc3c3c"/>
<circle cx="624" cy="382.06" r="2.45" fill="#dc3c3c"/>
<circle cx="657" cy="410.75" r="2.45" fill="#dc3c3c"/>
<circle cx="624" cy="384.19" r="2.45" fill="#dc3c3c"/>
<circle cx="657" cy="404.38" r="2.45" fill="#dc3c3c"/>
<circle cx="624" cy="388.44" r="2.45" fill="#dc3c3c"/>
<circle cx="657" cy="384.19" r="2.45" fill="#dc3c3c"/>
<circle cx="624" cy="394.81" r="2.45" fill="#dc3c3c"/>
<circle cx="657" cy="390.56" r="2.45" fill="#dc3c3c"/>
<circle cx="624" cy="402.25" r="2.45" fill="#dc3c3c"/>
<circle cx="657" cy="411.81" r="2.45" fill="#dc3c3c"/>
<circle cx="624" cy="403.31" r="2.45" fill="#dc3c3c"/>
<circle cx="657" cy="412.88" r="2.45" fill="#dc3c3c"/>
<line x1="624" y1="340.6" x2="657" y2="340.6" stroke="#111" stroke-width="1.85"/>
<line x1="624" y1="337.8" x2="624" y2="343.4" stroke="#111" stroke-width="1.85"/>
<line x1="657" y1="337.8" x2="657" y2="343.4" stroke="#111" stroke-width="1.85"/>
<text transform="translate(641.2,340.9) scale(1.05,1)" font-size="11" text-anchor="middle" fill="#111" stroke="#111" stroke-width="0.22">*</text>
<polygon points="40.5,543.6 41.2,543.6 41.9,543.6 42.6,543.6 43.3,543.6 44,543.59 44.7,543.57 45.4,543.53 46.1,543.44 46.8,543.26 47.5,543.11 48.2,542.53 48.9,541.4 49.6,540.87 50.3,539.21 51,537.15 51.7,536.12 52.4,534.37 53.1,531.92 53.8,530.79 54.5,528.98 55.2,526.34 55.9,523.77 56.6,522.97 57.3,521.19 58,520.08 58.7,521.28 59.4,522.21 60.1,524.95 60.8,528.19 61.5,530.11 62.2,533.95 62.9,536.44 63.6,538.73 64.3,540.77 65,541.36 65.7,542.77 66.4,542.8 67.1,543.27 67.8,543.44 68.5,543.52 69.2,543.57 69.9,543.59 70.6,543.59 71.3,543.6 72,543.6 72.7,543.6 73.4,543.6 74.1,543.6 74.8,543.6 75.5,543.6 76.2,543.6 76.9,543.6 77.6,543.6 78.3,543.6 79,543.6 79.7,543.6 80.4,543.6 81.1,543.6 81.8,543.6 82.5,543.6 83.2,543.6 83.9,543.6 84.6,543.6 85.3,543.6 86,543.6 86.7,543.6 87.4,543.6 88.1,543.6 88.8,543.6 89.5,543.6 90.2,543.6 90.9,543.6 91.6,543.6 92.3,543.6 93,543.6 93.7,543.6 94.4,543.6 95.1,543.6 95.8,543.6 96.5,543.6 97.2,543.6 97.9,543.6 98.6,543.6 99.3,543.6 100,543.6 100.7,543.6 101.4,543.6 102.1,543.6 102.8,543.6 103.5,543.6 104.2,543.6 104.9,543.6 105.6,543.6 106.3,543.6 107,543.6 107.7,543.6 108.4,543.6 109.1,543.6 109.8,543.6 110.5,543.6 111.2,543.6 111.9,543.6 112.6,543.6 113.3,543.6 113.9,543.6 40.5,543.6" fill="#999999" stroke="none"/>
<polyline points="40.5,519.6 41.2,519.6 41.9,519.6 42.6,519.6 43.3,519.6 44,519.6 44.7,519.6 45.4,519.6 46.1,519.6 46.8,519.6 47.5,519.6 48.2,519.6 48.9,519.6 49.6,519.6 50.3,519.6 51,519.6 51.7,519.6 52.4,519.6 53.1,519.6 53.8,519.6 54.5,519.6 55.2,519.6 55.9,519.6 56.6,519.6 57.3,519.6 58,519.6 58.7,519.6 59.4,519.6 60.1,519.6 60.8,519.6 61.5,519.6 62.2,519.6 62.9,519.6 63.6,519.6 64.3,519.6 65,519.6 65.7,519.6 66.4,519.6 67.1,519.6 67.8,519.6 68.5,519.6 69.2,519.6 69.9,519.6 70.6,519.6 71.3,519.6 72,519.6 72.7,519.6 73.4,519.6 74.1,519.6 74.8,519.6 75.5,519.6 76.2,519.6 76.9,519.6 77.6,519.6 78.3,519.6 79,519.6 79.7,519.6 80.4,519.6 81.1,519.6 81.8,519.6 82.5,519.6 83.2,519.6 83.9,519.6 84.6,519.6 85.3,519.6 86,519.6 86.7,519.6 87.4,519.6 88.1,519.6 88.8,519.6 89.5,519.6 90.2,519.6 90.9,519.6 91.6,519.6 92.3,519.59 93,519.54 93.7,519.33 94.4,518.42 95.1,516.96 95.8,512.81 96.5,507.66 97.2,498.76 97.9,492.16 98.6,490.79 99.3,493.52 100,499.8 100.7,506.91 101.4,513.53 102.1,517.35 102.8,518.94 103.5,519.33 104.2,519.54 104.9,519.59 105.6,519.6 106.3,519.6 107,519.6 107.7,519.6 108.4,519.6 109.1,519.6 109.8,519.6 110.5,519.6 111.2,519.6 111.9,519.6 112.6,519.6 113.3,519.6" fill="none" stroke="#111" stroke-width="1.3" stroke-linejoin="round"/>
<polyline points="40.5,495.6 41.2,495.6 41.9,495.6 42.6,495.6 43.3,495.6 44,495.6 44.7,495.6 45.4,495.6 46.1,495.6 46.8,495.6 47.5,495.6 48.2,495.6 48.9,495.6 49.6,495.6 50.3,495.6 51,495.6 51.7,495.6 52.4,495.6 53.1,495.6 53.8,495.6 54.5,495.6 55.2,495.6 55.9,495.6 56.6,495.6 57.3,495.6 58,495.6 58.7,495.6 59.4,495.6 60.1,495.6 60.8,495.6 61.5,495.6 62.2,495.6 62.9,495.6 63.6,495.6 64.3,495.6 65,495.6 65.7,495.6 66.4,495.6 67.1,495.6 67.8,495.6 68.5,495.6 69.2,495.6 69.9,495.6 70.6,495.6 71.3,495.6 72,495.59 72.7,495.58 73.4,495.54 74.1,495.48 74.8,495.38 75.5,495.23 76.2,495.07 76.9,494.85 77.6,494.74 78.3,494.96 79,494.87 79.7,495.04 80.4,495.21 81.1,495.36 81.8,495.47 82.5,495.54 83.2,495.57 83.9,495.59 84.6,495.6 85.3,495.6 86,495.6 86.7,495.6 87.4,495.6 88.1,495.6 88.8,495.6 89.5,495.6 90.2,495.6 90.9,495.59 91.6,495.55 92.3,495.41 93,495.01 93.7,494.26 94.4,491.58 95.1,487.91 95.8,481.92 96.5,475.02 97.2,470.42 97.9,467.99 98.6,468.23 99.3,472.52 100,476.99 100.7,481.91 101.4,487.46 102.1,490.38 102.8,492.79 103.5,494.05 104.2,495.07 104.9,495.4 105.6,495.53 106.3,495.58 107,495.59 107.7,495.6 108.4,495.6 109.1,495.6 109.8,495.6 110.5,495.6 111.2,495.6 111.9,495.6 112.6,495.6 113.3,495.6" fill="none" stroke="#d8353a" stroke-width="1.2" stroke-linejoin="round"/>
<rect x="40" y="446" width="74.4" height="97.6" fill="none" stroke="#8a8a8a" stroke-width="0.9"/>
<line x1="42" y1="543.6" x2="42" y2="545.2" stroke="#666" stroke-width="0.6"/>
<line x1="47.03" y1="543.6" x2="47.03" y2="545.2" stroke="#666" stroke-width="0.6"/>
<line x1="52.06" y1="543.6" x2="52.06" y2="545.2" stroke="#666" stroke-width="0.6"/>
<line x1="57.09" y1="543.6" x2="57.09" y2="545.2" stroke="#666" stroke-width="0.6"/>
<line x1="62.11" y1="543.6" x2="62.11" y2="545.2" stroke="#666" stroke-width="0.6"/>
<line x1="67.14" y1="543.6" x2="67.14" y2="545.2" stroke="#666" stroke-width="0.6"/>
<line x1="72.17" y1="543.6" x2="72.17" y2="545.2" stroke="#666" stroke-width="0.6"/>
<line x1="77.2" y1="543.6" x2="77.2" y2="545.2" stroke="#666" stroke-width="0.6"/>
<line x1="82.23" y1="543.6" x2="82.23" y2="545.2" stroke="#666" stroke-width="0.6"/>
<line x1="87.26" y1="543.6" x2="87.26" y2="545.2" stroke="#666" stroke-width="0.6"/>
<line x1="92.29" y1="543.6" x2="92.29" y2="545.2" stroke="#666" stroke-width="0.6"/>
<line x1="97.31" y1="543.6" x2="97.31" y2="545.2" stroke="#666" stroke-width="0.6"/>
<line x1="102.34" y1="543.6" x2="102.34" y2="545.2" stroke="#666" stroke-width="0.6"/>
<line x1="107.37" y1="543.6" x2="107.37" y2="545.2" stroke="#666" stroke-width="0.6"/>
<line x1="112.4" y1="543.6" x2="112.4" y2="545.2" stroke="#666" stroke-width="0.6"/>
<polygon points="121.1,544 121.8,544 122.5,544 123.2,544 123.9,544 124.6,543.99 125.3,543.98 126,543.96 126.7,543.9 127.4,543.77 128.1,543.54 128.8,542.89 129.5,542.12 130.2,541.72 130.9,540.43 131.6,538.83 132.3,536.68 133,534.8 133.7,533.01 134.4,530.54 135.1,528.81 135.8,526.9 136.5,525.05 137.2,524.2 137.9,522.94 138.6,522.96 139.3,522.69 140,524.08 140.7,527 141.4,529.97 142.1,532.89 142.8,535.66 143.5,538.3 144.2,540.2 144.9,542.19 145.6,542.75 146.3,543.12 147,543.66 147.7,543.84 148.4,543.93 149.1,543.97 149.8,543.99 150.5,544 151.2,544 151.9,544 152.6,544 153.3,544 154,544 154.7,544 155.4,544 156.1,544 156.8,544 157.5,544 158.2,544 158.9,544 159.6,544 160.3,544 161,544 161.7,544 162.4,544 163.1,544 163.8,544 164.5,544 165.2,544 165.9,544 166.6,544 167.3,544 168,544 168.7,544 169.4,544 170.1,544 170.8,544 171.5,544 172.2,544 172.9,544 173.6,544 174.3,544 175,544 175.7,544 176.4,544 177.1,544 177.8,544 178.5,544 179.2,544 179.9,544 180.6,544 181.3,544 182,544 182.7,544 183.4,544 184.1,544 184.8,544 185.5,544 186.2,544 186.9,544 187.6,544 188.3,544 189,544 189.7,544 190.4,544 191.1,544 191.8,544 192.5,544 193.2,544 193.9,544 193.9,544 121.1,544" fill="#999999" stroke="none"/>
<polyline points="121.1,519.6 121.8,519.6 122.5,519.6 123.2,519.6 123.9,519.6 124.6,519.6 125.3,519.6 126,519.6 126.7,519.6 127.4,519.6 128.1,519.6 128.8,519.6 129.5,519.6 130.2,519.6 130.9,519.6 131.6,519.6 132.3,519.6 133,519.6 133.7,519.6 134.4,519.6 135.1,519.6 135.8,519.6 136.5,519.6 137.2,519.6 137.9,519.6 138.6,519.6 139.3,519.6 140,519.6 140.7,519.6 141.4,519.6 142.1,519.6 142.8,519.6 143.5,519.6 144.2,519.6 144.9,519.6 145.6,519.6 146.3,519.6 147,519.6 147.7,519.6 148.4,519.6 149.1,519.6 149.8,519.6 150.5,519.6 151.2,519.6 151.9,519.6 152.6,519.6 153.3,519.6 154,519.6 154.7,519.6 155.4,519.6 156.1,519.6 156.8,519.6 157.5,519.6 158.2,519.6 158.9,519.6 159.6,519.6 160.3,519.6 161,519.6 161.7,519.6 162.4,519.6 163.1,519.6 163.8,519.6 164.5,519.6 165.2,519.6 165.9,519.6 166.6,519.6 167.3,519.6 168,519.6 168.7,519.6 169.4,519.6 170.1,519.6 170.8,519.6 171.5,519.6 172.2,519.59 172.9,519.58 173.6,519.51 174.3,519.28 175,518.78 175.7,517.65 176.4,514.96 177.1,509.86 177.8,505.39 178.5,500.12 179.2,494.86 179.9,496.38 180.6,498.94 181.3,503.77 182,510.13 182.7,513.71 183.4,516.66 184.1,518.5 184.8,519.22 185.5,519.49 186.2,519.57 186.9,519.59 187.6,519.6 188.3,519.6 189,519.6 189.7,519.6 190.4,519.6 191.1,519.6 191.8,519.6 192.5,519.6 193.2,519.6 193.9,519.6" fill="none" stroke="#111" stroke-width="1.3" stroke-linejoin="round"/>
<polyline points="121.1,495.6 121.8,495.6 122.5,495.6 123.2,495.6 123.9,495.6 124.6,495.6 125.3,495.6 126,495.6 126.7,495.6 127.4,495.6 128.1,495.6 128.8,495.6 129.5,495.6 130.2,495.6 130.9,495.6 131.6,495.6 132.3,495.6 133,495.6 133.7,495.6 134.4,495.6 135.1,495.6 135.8,495.6 136.5,495.6 137.2,495.6 137.9,495.6 138.6,495.6 139.3,495.6 140,495.6 140.7,495.6 141.4,495.6 142.1,495.6 142.8,495.6 143.5,495.6 144.2,495.6 144.9,495.6 145.6,495.6 146.3,495.6 147,495.6 147.7,495.6 148.4,495.6 149.1,495.6 149.8,495.6 150.5,495.6 151.2,495.6 151.9,495.6 152.6,495.6 153.3,495.6 154,495.6 154.7,495.6 155.4,495.6 156.1,495.6 156.8,495.6 157.5,495.6 158.2,495.6 158.9,495.6 159.6,495.59 160.3,495.58 161,495.57 161.7,495.53 162.4,495.48 163.1,495.39 163.8,495.25 164.5,495.04 165.2,494.34 165.9,494.27 166.6,493.64 167.3,493.32 168,493.62 168.7,492.89 169.4,492.25 170.1,492.79 170.8,492.81 171.5,492.71 172.2,491.64 172.9,489.14 173.6,485.43 174.3,480.62 175,476.29 175.7,474.15 176.4,474.51 177.1,477.26 177.8,478.3 178.5,479.89 179.2,480.41 179.9,481.13 180.6,482.75 181.3,485.96 182,489.5 182.7,491.68 183.4,493.94 184.1,494.37 184.8,495.26 185.5,495.49 186.2,495.57 186.9,495.59 187.6,495.6 188.3,495.6 189,495.6 189.7,495.6 190.4,495.6 191.1,495.6 191.8,495.6 192.5,495.6 193.2,495.6 193.9,495.6" fill="none" stroke="#d8353a" stroke-width="1.2" stroke-linejoin="round"/>
<rect x="120.6" y="446" width="73.8" height="98" fill="none" stroke="#8a8a8a" stroke-width="0.9"/>
<line x1="122.6" y1="544" x2="122.6" y2="545.6" stroke="#666" stroke-width="0.6"/>
<line x1="127.59" y1="544" x2="127.59" y2="545.6" stroke="#666" stroke-width="0.6"/>
<line x1="132.57" y1="544" x2="132.57" y2="545.6" stroke="#666" stroke-width="0.6"/>
<line x1="137.56" y1="544" x2="137.56" y2="545.6" stroke="#666" stroke-width="0.6"/>
<line x1="142.54" y1="544" x2="142.54" y2="545.6" stroke="#666" stroke-width="0.6"/>
<line x1="147.53" y1="544" x2="147.53" y2="545.6" stroke="#666" stroke-width="0.6"/>
<line x1="152.51" y1="544" x2="152.51" y2="545.6" stroke="#666" stroke-width="0.6"/>
<line x1="157.5" y1="544" x2="157.5" y2="545.6" stroke="#666" stroke-width="0.6"/>
<line x1="162.49" y1="544" x2="162.49" y2="545.6" stroke="#666" stroke-width="0.6"/>
<line x1="167.47" y1="544" x2="167.47" y2="545.6" stroke="#666" stroke-width="0.6"/>
<line x1="172.46" y1="544" x2="172.46" y2="545.6" stroke="#666" stroke-width="0.6"/>
<line x1="177.44" y1="544" x2="177.44" y2="545.6" stroke="#666" stroke-width="0.6"/>
<line x1="182.43" y1="544" x2="182.43" y2="545.6" stroke="#666" stroke-width="0.6"/>
<line x1="187.41" y1="544" x2="187.41" y2="545.6" stroke="#666" stroke-width="0.6"/>
<line x1="192.4" y1="544" x2="192.4" y2="545.6" stroke="#666" stroke-width="0.6"/>
<text transform="translate(44.5,458)" font-size="11.5" text-anchor="start" fill="#111" stroke="#111" stroke-width="0.1">PD-1<tspan font-size="6" dy="-3.8">-</tspan><tspan dy="3.8"></tspan></text>
<text transform="translate(44.5,469.6)" font-size="11.5" text-anchor="start" fill="#d8353a" stroke="#d8353a" stroke-width="0.1">PD-1<tspan font-size="6" dy="-3.8">+</tspan><tspan dy="3.8"></tspan></text>
<text transform="translate(74.4,535)" font-size="11.6" text-anchor="start" fill="#a3a3a3" stroke="#a3a3a3" stroke-width="0.1">Isotype</text>
<text transform="translate(58.6,551.5)" font-size="7.2" text-anchor="middle" fill="#222" stroke="#222" stroke-width="0.22">0</text>
<line x1="58.6" y1="543.6" x2="58.6" y2="546.2" stroke="#555" stroke-width="0.7"/>
<text transform="translate(82.6,551.5)" font-size="6.6" text-anchor="middle" fill="#222" stroke="#222" stroke-width="0.22">10<tspan font-size="3.8" dy="-2.6">3</tspan></text>
<line x1="82.1" y1="543.6" x2="82.1" y2="546.2" stroke="#555" stroke-width="0.7"/>
<text transform="translate(109,551.5)" font-size="6.6" text-anchor="middle" fill="#222" stroke="#222" stroke-width="0.22">10<tspan font-size="3.8" dy="-2.6">5</tspan></text>
<line x1="108.5" y1="543.6" x2="108.5" y2="546.2" stroke="#555" stroke-width="0.7"/>
<rect x="54.5" y="543.9" width="5" height="2" fill="#111" stroke="none" stroke-width="1"/>
<rect x="135.5" y="544.3" width="5" height="2" fill="#111" stroke="none" stroke-width="1"/>
<text transform="translate(43.6,565.5)" font-size="11.8" text-anchor="start" fill="#111" stroke="#111" stroke-width="0.1">CD45RC</text>
<line x1="95" y1="562" x2="187.4" y2="562" stroke="#111" stroke-width="1.1"/>
<polygon points="192.4,562 186.4,559.7 186.4,564.3" fill="#111"/>
<text transform="translate(18.9,489) rotate(-90)" font-size="11.5" text-anchor="middle" fill="#222" stroke="#222" stroke-width="0.08">Events</text>
<text transform="translate(30.8,487) rotate(-90)" font-size="11.5" text-anchor="middle" fill="#222" stroke="#222" stroke-width="0.08">(normalized)</text>
<text transform="translate(2.2,444)" font-size="11.5" text-anchor="start" fill="#111" font-weight="bold">d</text>
<line x1="271" y1="448" x2="271" y2="554.2" stroke="#1a1a1a" stroke-width="1.3"/>
<line x1="270.4" y1="553.6" x2="394" y2="553.6" stroke="#1a1a1a" stroke-width="1.3"/>
<line x1="267.5" y1="553.6" x2="271" y2="553.6" stroke="#1a1a1a" stroke-width="1.2"/>
<text transform="translate(267.1,556.8) scale(1.1,1)" font-size="10.3" text-anchor="end" fill="#1a1a1a" stroke="#1a1a1a" stroke-width="0.22">0</text>
<line x1="267.5" y1="527.2" x2="271" y2="527.2" stroke="#1a1a1a" stroke-width="1.2"/>
<text transform="translate(267.1,530.4) scale(1.1,1)" font-size="10.3" text-anchor="end" fill="#1a1a1a" stroke="#1a1a1a" stroke-width="0.22">10000</text>
<line x1="267.5" y1="500.8" x2="271" y2="500.8" stroke="#1a1a1a" stroke-width="1.2"/>
<text transform="translate(267.1,504) scale(1.1,1)" font-size="10.3" text-anchor="end" fill="#1a1a1a" stroke="#1a1a1a" stroke-width="0.22">20000</text>
<line x1="267.5" y1="474.4" x2="271" y2="474.4" stroke="#1a1a1a" stroke-width="1.2"/>
<text transform="translate(267.1,477.6) scale(1.1,1)" font-size="10.3" text-anchor="end" fill="#1a1a1a" stroke="#1a1a1a" stroke-width="0.22">30000</text>
<line x1="267.5" y1="448" x2="271" y2="448" stroke="#1a1a1a" stroke-width="1.2"/>
<text transform="translate(267.1,451.2) scale(1.1,1)" font-size="10.3" text-anchor="end" fill="#1a1a1a" stroke="#1a1a1a" stroke-width="0.22">40000</text>
<line x1="301" y1="553.6" x2="301" y2="557.1" stroke="#1a1a1a" stroke-width="1.2"/>
<line x1="362.8" y1="553.6" x2="362.8" y2="557.1" stroke="#1a1a1a" stroke-width="1.2"/>
<text transform="translate(302.4,568) scale(1.02,1)" font-size="11" text-anchor="middle" fill="#1a1a1a" stroke="#1a1a1a" stroke-width="0.22">D0</text>
<text transform="translate(364.4,568) scale(1.02,1)" font-size="11" text-anchor="middle" fill="#1a1a1a" stroke="#1a1a1a" stroke-width="0.22">D5</text>
<text transform="translate(231,511.5) rotate(-90) scale(1.03,1)" font-size="10.8" text-anchor="middle" fill="#1a1a1a" stroke="#1a1a1a" stroke-width="0.22">CD45RC (MFI)</text>
<circle cx="289.8" cy="473.08" r="1.95" fill="#3a78bb"/>
<circle cx="293.31" cy="477.04" r="1.95" fill="#3a78bb"/>
<circle cx="286.29" cy="478.36" r="1.95" fill="#3a78bb"/>
<circle cx="289.8" cy="484.96" r="1.95" fill="#3a78bb"/>
<circle cx="289.8" cy="498.16" r="1.95" fill="#3a78bb"/>
<circle cx="293.31" cy="499.48" r="1.95" fill="#3a78bb"/>
<circle cx="286.29" cy="500.8" r="1.95" fill="#3a78bb"/>
<circle cx="289.8" cy="503.44" r="1.95" fill="#3a78bb"/>
<circle cx="293.31" cy="504.76" r="1.95" fill="#3a78bb"/>
<rect x="283.35" y="490.77" width="12.9" height="62.83" fill="none" stroke="#3a78bb" stroke-width="1.15"/>
<line x1="289.8" y1="477.04" x2="289.8" y2="503.97" stroke="#3a78bb" stroke-width="1.15"/>
<line x1="285.6" y1="477.04" x2="294" y2="477.04" stroke="#3a78bb" stroke-width="1.15"/>
<line x1="285.6" y1="503.97" x2="294" y2="503.97" stroke="#3a78bb" stroke-width="1.15"/>
<rect x="310.65" y="484.23" width="4.1" height="4.1" fill="#e8402f"/>
<rect x="314.17" y="485.55" width="4.1" height="4.1" fill="#e8402f"/>
<rect x="307.14" y="488.19" width="4.1" height="4.1" fill="#e8402f"/>
<rect x="310.65" y="497.43" width="4.1" height="4.1" fill="#e8402f"/>
<rect x="314.17" y="501.39" width="4.1" height="4.1" fill="#e8402f"/>
<rect x="310.65" y="509.31" width="4.1" height="4.1" fill="#e8402f"/>
<rect x="314.17" y="511.95" width="4.1" height="4.1" fill="#e8402f"/>
<rect x="307.14" y="513.27" width="4.1" height="4.1" fill="#e8402f"/>
<rect x="310.65" y="522.51" width="4.1" height="4.1" fill="#e8402f"/>
<rect x="306.15" y="505.29" width="13.1" height="48.31" fill="none" stroke="#e8402f" stroke-width="1.15"/>
<line x1="312.7" y1="491.56" x2="312.7" y2="517.96" stroke="#e8402f" stroke-width="1.15"/>
<line x1="308.5" y1="491.56" x2="316.9" y2="491.56" stroke="#e8402f" stroke-width="1.15"/>
<line x1="308.5" y1="517.96" x2="316.9" y2="517.96" stroke="#e8402f" stroke-width="1.15"/>
<circle cx="351.5" cy="483.64" r="1.95" fill="#3a78bb"/>
<circle cx="355.01" cy="488.92" r="1.95" fill="#3a78bb"/>
<circle cx="351.5" cy="494.2" r="1.95" fill="#3a78bb"/>
<circle cx="355.01" cy="495.52" r="1.95" fill="#3a78bb"/>
<circle cx="347.99" cy="496.84" r="1.95" fill="#3a78bb"/>
<circle cx="351.5" cy="498.16" r="1.95" fill="#3a78bb"/>
<circle cx="355.01" cy="503.44" r="1.95" fill="#3a78bb"/>
<rect x="344.95" y="495.52" width="13.1" height="58.08" fill="none" stroke="#3a78bb" stroke-width="1.15"/>
<line x1="351.5" y1="488.92" x2="351.5" y2="499.48" stroke="#3a78bb" stroke-width="1.15"/>
<line x1="347.3" y1="488.92" x2="355.7" y2="488.92" stroke="#3a78bb" stroke-width="1.15"/>
<line x1="347.3" y1="499.48" x2="355.7" y2="499.48" stroke="#3a78bb" stroke-width="1.15"/>
<rect x="372.55" y="482.91" width="4.1" height="4.1" fill="#e8402f"/>
<rect x="372.55" y="500.07" width="4.1" height="4.1" fill="#e8402f"/>
<rect x="372.55" y="510.63" width="4.1" height="4.1" fill="#e8402f"/>
<rect x="376.06" y="511.95" width="4.1" height="4.1" fill="#e8402f"/>
<rect x="369.04" y="514.59" width="4.1" height="4.1" fill="#e8402f"/>
<rect x="372.55" y="519.87" width="4.1" height="4.1" fill="#e8402f"/>
<rect x="376.06" y="521.19" width="4.1" height="4.1" fill="#e8402f"/>
<rect x="369.04" y="525.15" width="4.1" height="4.1" fill="#e8402f"/>
<rect x="367.95" y="516.11" width="13.3" height="37.49" fill="none" stroke="#e8402f" stroke-width="1.15"/>
<line x1="374.6" y1="501.59" x2="374.6" y2="529.05" stroke="#e8402f" stroke-width="1.15"/>
<line x1="370.4" y1="501.59" x2="378.8" y2="501.59" stroke="#e8402f" stroke-width="1.15"/>
<line x1="370.4" y1="529.05" x2="378.8" y2="529.05" stroke="#e8402f" stroke-width="1.15"/>
<line x1="290" y1="466" x2="314.4" y2="466" stroke="#111" stroke-width="1.85"/>
<line x1="290" y1="463.2" x2="290" y2="468.8" stroke="#111" stroke-width="1.85"/>
<line x1="314.4" y1="463.2" x2="314.4" y2="468.8" stroke="#111" stroke-width="1.85"/>
<text transform="translate(302.9,466.3) scale(1.05,1)" font-size="11" text-anchor="middle" fill="#111" stroke="#111" stroke-width="0.22">**</text>
<line x1="352.4" y1="466" x2="377" y2="466" stroke="#111" stroke-width="1.85"/>
<line x1="352.4" y1="463.2" x2="352.4" y2="468.8" stroke="#111" stroke-width="1.85"/>
<line x1="377" y1="463.2" x2="377" y2="468.8" stroke="#111" stroke-width="1.85"/>
<text transform="translate(365.4,466.3) scale(1.05,1)" font-size="11" text-anchor="middle" fill="#111" stroke="#111" stroke-width="0.22">**</text>
<line x1="489.4" y1="473" x2="489.4" y2="541.6" stroke="#1a1a1a" stroke-width="1.3"/>
<line x1="489.4" y1="545" x2="489.4" y2="553.6" stroke="#1a1a1a" stroke-width="1.3"/>
<line x1="488.8" y1="553" x2="553" y2="553" stroke="#1a1a1a" stroke-width="1.3"/>
<line x1="486.4" y1="524" x2="489.4" y2="524" stroke="#1a1a1a" stroke-width="1.2"/>
<text transform="translate(486,527.2) scale(1.04,1)" font-size="10.3" text-anchor="end" fill="#1a1a1a" stroke="#1a1a1a" stroke-width="0.22">20000</text>
<line x1="486.4" y1="507" x2="489.4" y2="507" stroke="#1a1a1a" stroke-width="1.2"/>
<text transform="translate(486,510.2) scale(1.04,1)" font-size="10.3" text-anchor="end" fill="#1a1a1a" stroke="#1a1a1a" stroke-width="0.22">25000</text>
<line x1="486.4" y1="490" x2="489.4" y2="490" stroke="#1a1a1a" stroke-width="1.2"/>
<text transform="translate(486,493.2) scale(1.04,1)" font-size="10.3" text-anchor="end" fill="#1a1a1a" stroke="#1a1a1a" stroke-width="0.22">30000</text>
<line x1="486.4" y1="473" x2="489.4" y2="473" stroke="#1a1a1a" stroke-width="1.2"/>
<text transform="translate(486,476.2) scale(1.04,1)" font-size="10.3" text-anchor="end" fill="#1a1a1a" stroke="#1a1a1a" stroke-width="0.22">35000</text>
<line x1="486.4" y1="544" x2="489.4" y2="544" stroke="#1a1a1a" stroke-width="1.2"/>
<text transform="translate(486,547.2) scale(1.04,1)" font-size="10.3" text-anchor="end" fill="#1a1a1a" stroke="#1a1a1a" stroke-width="0.22">15000</text>
<line x1="486.4" y1="553" x2="489.4" y2="553" stroke="#1a1a1a" stroke-width="1.2"/>
<text transform="translate(486,556.2) scale(1.04,1)" font-size="10.3" text-anchor="end" fill="#1a1a1a" stroke="#1a1a1a" stroke-width="0.22">0</text>
<line x1="486.4" y1="541.6" x2="492.4" y2="541.6" stroke="#1a1a1a" stroke-width="1.3"/>
<line x1="486.4" y1="545" x2="492.4" y2="545" stroke="#1a1a1a" stroke-width="1.3"/>
<text transform="translate(506.2,566) scale(1.02,1)" font-size="11" text-anchor="middle" fill="#1a1a1a" stroke="#1a1a1a" stroke-width="0.22">D0</text>
<text transform="translate(537.8,566) scale(1.02,1)" font-size="11" text-anchor="middle" fill="#1a1a1a" stroke="#1a1a1a" stroke-width="0.22">D5</text>
<text transform="translate(452.3,505.9) rotate(-90) scale(1.12,1)" font-size="11.5" text-anchor="middle" fill="#1a1a1a" stroke="#1a1a1a" stroke-width="0.22">CD45RC (MFI)</text>
<line x1="505.4" y1="488.3" x2="537" y2="510.4" stroke="#3a78bb" stroke-width="1.15"/>
<line x1="505.4" y1="491.7" x2="537" y2="500.2" stroke="#3a78bb" stroke-width="1.15"/>
<line x1="505.4" y1="493.4" x2="537" y2="517.2" stroke="#3a78bb" stroke-width="1.15"/>
<line x1="505.4" y1="500.2" x2="537" y2="518.9" stroke="#3a78bb" stroke-width="1.15"/>
<line x1="505.4" y1="518.9" x2="537" y2="520.6" stroke="#3a78bb" stroke-width="1.15"/>
<line x1="505.4" y1="522.3" x2="537" y2="527.4" stroke="#3a78bb" stroke-width="1.15"/>
<line x1="505.4" y1="524" x2="537" y2="518.9" stroke="#3a78bb" stroke-width="1.15"/>
<line x1="505.4" y1="529.1" x2="537" y2="517.2" stroke="#3a78bb" stroke-width="1.15"/>
<circle cx="505.4" cy="488.3" r="2.45" fill="#3a78bb"/>
<circle cx="537" cy="510.4" r="2.45" fill="#3a78bb"/>
<circle cx="505.4" cy="491.7" r="2.45" fill="#3a78bb"/>
<circle cx="537" cy="500.2" r="2.45" fill="#3a78bb"/>
<circle cx="505.4" cy="493.4" r="2.45" fill="#3a78bb"/>
<circle cx="537" cy="517.2" r="2.45" fill="#3a78bb"/>
<circle cx="505.4" cy="500.2" r="2.45" fill="#3a78bb"/>
<circle cx="537" cy="518.9" r="2.45" fill="#3a78bb"/>
<circle cx="505.4" cy="518.9" r="2.45" fill="#3a78bb"/>
<circle cx="537" cy="520.6" r="2.45" fill="#3a78bb"/>
<circle cx="505.4" cy="522.3" r="2.45" fill="#3a78bb"/>
<circle cx="537" cy="527.4" r="2.45" fill="#3a78bb"/>
<circle cx="505.4" cy="524" r="2.45" fill="#3a78bb"/>
<circle cx="537" cy="518.9" r="2.45" fill="#3a78bb"/>
<circle cx="505.4" cy="529.1" r="2.45" fill="#3a78bb"/>
<circle cx="537" cy="517.2" r="2.45" fill="#3a78bb"/>
<line x1="505.4" y1="474.4" x2="540.5" y2="474.4" stroke="#111" stroke-width="1.85"/>
<line x1="505.4" y1="471.6" x2="505.4" y2="477.2" stroke="#111" stroke-width="1.85"/>
<line x1="540.5" y1="471.6" x2="540.5" y2="477.2" stroke="#111" stroke-width="1.85"/>
<text transform="translate(522.95,470.9)" font-size="10.5" text-anchor="middle" fill="#111" stroke="#111" stroke-width="0.22">ns</text>
<line x1="615.6" y1="477.6" x2="615.6" y2="542" stroke="#1a1a1a" stroke-width="1.3"/>
<line x1="615.6" y1="546" x2="615.6" y2="555.6" stroke="#1a1a1a" stroke-width="1.3"/>
<line x1="615" y1="555" x2="681" y2="555" stroke="#1a1a1a" stroke-width="1.3"/>
<line x1="612.6" y1="527" x2="615.6" y2="527" stroke="#1a1a1a" stroke-width="1.2"/>
<text transform="translate(612.2,530.2) scale(1.07,1)" font-size="10.3" text-anchor="end" fill="#1a1a1a" stroke="#1a1a1a" stroke-width="0.22">15000</text>
<line x1="612.6" y1="510.5" x2="615.6" y2="510.5" stroke="#1a1a1a" stroke-width="1.2"/>
<text transform="translate(612.2,513.7) scale(1.07,1)" font-size="10.3" text-anchor="end" fill="#1a1a1a" stroke="#1a1a1a" stroke-width="0.22">20000</text>
<line x1="612.6" y1="494" x2="615.6" y2="494" stroke="#1a1a1a" stroke-width="1.2"/>
<text transform="translate(612.2,497.2) scale(1.07,1)" font-size="10.3" text-anchor="end" fill="#1a1a1a" stroke="#1a1a1a" stroke-width="0.22">25000</text>
<line x1="612.6" y1="477.5" x2="615.6" y2="477.5" stroke="#1a1a1a" stroke-width="1.2"/>
<text transform="translate(612.2,480.7) scale(1.07,1)" font-size="10.3" text-anchor="end" fill="#1a1a1a" stroke="#1a1a1a" stroke-width="0.22">30000</text>
<line x1="612.6" y1="545.6" x2="615.6" y2="545.6" stroke="#1a1a1a" stroke-width="1.2"/>
<text transform="translate(612.2,548.8) scale(1.07,1)" font-size="10.3" text-anchor="end" fill="#1a1a1a" stroke="#1a1a1a" stroke-width="0.22">10000</text>
<line x1="612.6" y1="555" x2="615.6" y2="555" stroke="#1a1a1a" stroke-width="1.2"/>
<text transform="translate(612.2,558.2) scale(1.07,1)" font-size="10.3" text-anchor="end" fill="#1a1a1a" stroke="#1a1a1a" stroke-width="0.22">0</text>
<line x1="612.6" y1="542" x2="618.6" y2="542" stroke="#1a1a1a" stroke-width="1.3"/>
<line x1="612.6" y1="546" x2="618.6" y2="546" stroke="#1a1a1a" stroke-width="1.3"/>
<text transform="translate(633.4,567.5) scale(1.02,1)" font-size="11" text-anchor="middle" fill="#1a1a1a" stroke="#1a1a1a" stroke-width="0.22">D0</text>
<text transform="translate(666.8,567.5) scale(1.02,1)" font-size="11" text-anchor="middle" fill="#1a1a1a" stroke="#1a1a1a" stroke-width="0.22">D5</text>
<text transform="translate(576.2,505.9) rotate(-90) scale(1.12,1)" font-size="11.5" text-anchor="middle" fill="#1a1a1a" stroke="#1a1a1a" stroke-width="0.22">CD45RC (MFI)</text>
<line x1="632.6" y1="492.35" x2="666" y2="528.65" stroke="#dc3c3c" stroke-width="1.15"/>
<line x1="632.6" y1="495.65" x2="666" y2="489.05" stroke="#dc3c3c" stroke-width="1.15"/>
<line x1="632.6" y1="503.9" x2="666" y2="512.15" stroke="#dc3c3c" stroke-width="1.15"/>
<line x1="632.6" y1="510.5" x2="666" y2="536.9" stroke="#dc3c3c" stroke-width="1.15"/>
<line x1="632.6" y1="517.1" x2="666" y2="540.2" stroke="#dc3c3c" stroke-width="1.15"/>
<line x1="632.6" y1="523.7" x2="666" y2="533.6" stroke="#dc3c3c" stroke-width="1.15"/>
<line x1="632.6" y1="528.65" x2="666" y2="530.3" stroke="#dc3c3c" stroke-width="1.15"/>
<line x1="632.6" y1="529.64" x2="666" y2="541.85" stroke="#dc3c3c" stroke-width="1.15"/>
<line x1="632.6" y1="538.55" x2="666" y2="538.55" stroke="#dc3c3c" stroke-width="1.15"/>
<circle cx="632.6" cy="492.35" r="2.45" fill="#dc3c3c"/>
<circle cx="666" cy="528.65" r="2.45" fill="#dc3c3c"/>
<circle cx="632.6" cy="495.65" r="2.45" fill="#dc3c3c"/>
<circle cx="666" cy="489.05" r="2.45" fill="#dc3c3c"/>
<circle cx="632.6" cy="503.9" r="2.45" fill="#dc3c3c"/>
<circle cx="666" cy="512.15" r="2.45" fill="#dc3c3c"/>
<circle cx="632.6" cy="510.5" r="2.45" fill="#dc3c3c"/>
<circle cx="666" cy="536.9" r="2.45" fill="#dc3c3c"/>
<circle cx="632.6" cy="517.1" r="2.45" fill="#dc3c3c"/>
<circle cx="666" cy="540.2" r="2.45" fill="#dc3c3c"/>
<circle cx="632.6" cy="523.7" r="2.45" fill="#dc3c3c"/>
<circle cx="666" cy="533.6" r="2.45" fill="#dc3c3c"/>
<circle cx="632.6" cy="528.65" r="2.45" fill="#dc3c3c"/>
<circle cx="666" cy="530.3" r="2.45" fill="#dc3c3c"/>
<circle cx="632.6" cy="529.64" r="2.45" fill="#dc3c3c"/>
<circle cx="666" cy="541.85" r="2.45" fill="#dc3c3c"/>
<circle cx="632.6" cy="538.55" r="2.45" fill="#dc3c3c"/>
<circle cx="666" cy="538.55" r="2.45" fill="#dc3c3c"/>
<line x1="632.6" y1="477" x2="666" y2="477" stroke="#111" stroke-width="1.85"/>
<line x1="632.6" y1="474.2" x2="632.6" y2="479.8" stroke="#111" stroke-width="1.85"/>
<line x1="666" y1="474.2" x2="666" y2="479.8" stroke="#111" stroke-width="1.85"/>
<text transform="translate(650,477.3) scale(1.05,1)" font-size="11" text-anchor="middle" fill="#111" stroke="#111" stroke-width="0.22">*</text>
<polygon points="40.9,682 41.6,682 42.3,682 43,682 43.7,682 44.4,682 45.1,682 45.8,682 46.5,682 47.2,682 47.9,682 48.6,682 49.3,682 50,682 50.7,681.99 51.4,681.98 52.1,681.95 52.8,681.88 53.5,681.71 54.2,681.31 54.9,680.45 55.6,679.5 56.3,677.18 57,674.69 57.7,670.1 58.4,665.04 59.1,658.69 59.8,653.2 60.5,646.77 61.2,644.1 61.9,640.9 62.6,641.88 63.3,644.22 64,649.9 64.7,655.11 65.4,661.32 66.1,666.06 66.8,670.85 67.5,673.88 68.2,677.05 68.9,679.18 69.6,680.54 70.3,681.1 71,681.54 71.7,681.78 72.4,681.9 73.1,681.96 73.8,681.98 74.5,681.99 75.2,682 75.9,682 76.6,682 77.3,682 78,682 78.7,682 79.4,682 80.1,682 80.8,682 81.5,682 82.2,682 82.9,682 83.6,682 84.3,682 85,682 85.7,682 86.4,682 87.1,682 87.8,682 88.5,682 89.2,682 89.9,682 90.6,682 91.3,682 92,682 92.7,682 93.4,682 94.1,682 94.8,682 95.5,682 96.2,682 96.9,682 97.6,682 98.3,682 99,682 99.7,682 100.4,682 101.1,682 101.8,682 102.5,682 103.2,682 103.9,682 104.6,682 105.3,682 106,682 106.7,682 107.4,682 108.1,682 108.8,682 109.5,682 110.2,682 110.9,682 111.6,682 112.3,682 113,682 113.7,682 113.9,682 40.9,682" fill="#999999" stroke="none"/>
<polyline points="40.9,657.4 41.6,657.4 42.3,657.4 43,657.4 43.7,657.4 44.4,657.4 45.1,657.4 45.8,657.4 46.5,657.4 47.2,657.4 47.9,657.4 48.6,657.4 49.3,657.4 50,657.4 50.7,657.4 51.4,657.4 52.1,657.4 52.8,657.4 53.5,657.39 54.2,657.36 54.9,657.31 55.6,657.17 56.3,656.9 57,656.17 57.7,655.49 58.4,654.45 59.1,651.91 59.8,649.58 60.5,645.89 61.2,641.46 61.9,638.77 62.6,636.69 63.3,633.7 64,630.03 64.7,630.71 65.4,628.63 66.1,627.64 66.8,624.42 67.5,621.91 68.2,617.51 68.9,615.57 69.6,617.19 70.3,614.39 71,617.27 71.7,618.51 72.4,621.96 73.1,625.7 73.8,629.4 74.5,632.68 75.2,634.61 75.9,635.85 76.6,636.96 77.3,637.58 78,638.81 78.7,638.64 79.4,639.77 80.1,641.52 80.8,643.97 81.5,646.03 82.2,647.83 82.9,649.47 83.6,651.74 84.3,652.81 85,654.08 85.7,655.41 86.4,655.42 87.1,656.22 87.8,656.59 88.5,657.05 89.2,657.21 89.9,657.3 90.6,657.35 91.3,657.38 92,657.39 92.7,657.4 93.4,657.4 94.1,657.4 94.8,657.4 95.5,657.4 96.2,657.4 96.9,657.4 97.6,657.4 98.3,657.4 99,657.4 99.7,657.4 100.4,657.4 101.1,657.4 101.8,657.4 102.5,657.4 103.2,657.4 103.9,657.4 104.6,657.4 105.3,657.4 106,657.4 106.7,657.4 107.4,657.4 108.1,657.4 108.8,657.4 109.5,657.4 110.2,657.4 110.9,657.4 111.6,657.4 112.3,657.4 113,657.4 113.7,657.4" fill="none" stroke="#111" stroke-width="1.3" stroke-linejoin="round"/>
<polyline points="40.9,631.8 41.6,631.8 42.3,631.8 43,631.8 43.7,631.8 44.4,631.8 45.1,631.8 45.8,631.8 46.5,631.8 47.2,631.8 47.9,631.8 48.6,631.8 49.3,631.8 50,631.8 50.7,631.8 51.4,631.8 52.1,631.8 52.8,631.8 53.5,631.79 54.2,631.79 54.9,631.78 55.6,631.77 56.3,631.74 57,631.7 57.7,631.65 58.4,631.56 59.1,631.45 59.8,631.29 60.5,630.93 61.2,631.02 61.9,630.48 62.6,630.15 63.3,629.27 64,628.8 64.7,628.38 65.4,628.62 66.1,628.09 66.8,628.11 67.5,627.7 68.2,627.97 68.9,628.03 69.6,627.39 70.3,628.21 71,628.09 71.7,628.64 72.4,628.86 73.1,629.09 73.8,629.88 74.5,630.06 75.2,629.32 75.9,629.34 76.6,629.94 77.3,629.72 78,629.47 78.7,629.8 79.4,630.07 80.1,630.1 80.8,630.41 81.5,630.16 82.2,630.92 82.9,630.3 83.6,630.2 84.3,629.65 85,628.67 85.7,627.02 86.4,625.55 87.1,624.48 87.8,624.14 88.5,622.19 89.2,621.43 89.9,618.85 90.6,615.75 91.3,611.34 92,605.38 92.7,601.64 93.4,599.15 94.1,600.45 94.8,603.33 95.5,606.2 96.2,609.76 96.9,613.02 97.6,612.54 98.3,614.63 99,617.47 99.7,618.54 100.4,622.34 101.1,625 101.8,627.09 102.5,629.09 103.2,630.46 103.9,630.93 104.6,631.5 105.3,631.68 106,631.76 106.7,631.79 107.4,631.8 108.1,631.8 108.8,631.8 109.5,631.8 110.2,631.8 110.9,631.8 111.6,631.8 112.3,631.8 113,631.8 113.7,631.8" fill="none" stroke="#d8353a" stroke-width="1.2" stroke-linejoin="round"/>
<rect x="40.4" y="580.6" width="74" height="101.4" fill="none" stroke="#8a8a8a" stroke-width="0.9"/>
<line x1="42.4" y1="682" x2="42.4" y2="683.6" stroke="#666" stroke-width="0.6"/>
<line x1="47.4" y1="682" x2="47.4" y2="683.6" stroke="#666" stroke-width="0.6"/>
<line x1="52.4" y1="682" x2="52.4" y2="683.6" stroke="#666" stroke-width="0.6"/>
<line x1="57.4" y1="682" x2="57.4" y2="683.6" stroke="#666" stroke-width="0.6"/>
<line x1="62.4" y1="682" x2="62.4" y2="683.6" stroke="#666" stroke-width="0.6"/>
<line x1="67.4" y1="682" x2="67.4" y2="683.6" stroke="#666" stroke-width="0.6"/>
<line x1="72.4" y1="682" x2="72.4" y2="683.6" stroke="#666" stroke-width="0.6"/>
<line x1="77.4" y1="682" x2="77.4" y2="683.6" stroke="#666" stroke-width="0.6"/>
<line x1="82.4" y1="682" x2="82.4" y2="683.6" stroke="#666" stroke-width="0.6"/>
<line x1="87.4" y1="682" x2="87.4" y2="683.6" stroke="#666" stroke-width="0.6"/>
<line x1="92.4" y1="682" x2="92.4" y2="683.6" stroke="#666" stroke-width="0.6"/>
<line x1="97.4" y1="682" x2="97.4" y2="683.6" stroke="#666" stroke-width="0.6"/>
<line x1="102.4" y1="682" x2="102.4" y2="683.6" stroke="#666" stroke-width="0.6"/>
<line x1="107.4" y1="682" x2="107.4" y2="683.6" stroke="#666" stroke-width="0.6"/>
<line x1="112.4" y1="682" x2="112.4" y2="683.6" stroke="#666" stroke-width="0.6"/>
<polygon points="121.1,682 121.8,682 122.5,682 123.2,682 123.9,682 124.6,682 125.3,682 126,682 126.7,682 127.4,682 128.1,682 128.8,682 129.5,682 130.2,681.99 130.9,681.98 131.6,681.94 132.3,681.85 133,681.64 133.7,681.32 134.4,680.45 135.1,679.13 135.8,676.92 136.5,672.33 137.2,667.75 137.9,662.05 138.6,656.04 139.3,648.24 140,644.43 140.7,640.18 141.4,642.78 142.1,645 142.8,647.68 143.5,654.48 144.2,661.43 144.9,666.9 145.6,671.39 146.3,674.84 147,678.21 147.7,679.29 148.4,680.45 149.1,681.71 149.8,681.71 150.5,681.87 151.2,681.95 151.9,681.98 152.6,681.99 153.3,682 154,682 154.7,682 155.4,682 156.1,682 156.8,682 157.5,682 158.2,682 158.9,682 159.6,682 160.3,682 161,682 161.7,682 162.4,682 163.1,682 163.8,682 164.5,682 165.2,682 165.9,682 166.6,682 167.3,682 168,682 168.7,682 169.4,682 170.1,682 170.8,682 171.5,682 172.2,682 172.9,682 173.6,682 174.3,682 175,682 175.7,682 176.4,682 177.1,682 177.8,682 178.5,682 179.2,682 179.9,682 180.6,682 181.3,682 182,682 182.7,682 183.4,682 184.1,682 184.8,682 185.5,682 186.2,682 186.9,682 187.6,682 188.3,682 189,682 189.7,682 190.4,682 191.1,682 191.8,682 192.5,682 193.2,682 193.9,682 193.9,682 121.1,682" fill="#999999" stroke="none"/>
<polyline points="121.1,657.4 121.8,657.4 122.5,657.4 123.2,657.4 123.9,657.4 124.6,657.4 125.3,657.4 126,657.4 126.7,657.4 127.4,657.4 128.1,657.4 128.8,657.4 129.5,657.4 130.2,657.4 130.9,657.4 131.6,657.4 132.3,657.4 133,657.4 133.7,657.39 134.4,657.37 135.1,657.34 135.8,657.27 136.5,657.13 137.2,656.87 137.9,656.37 138.6,655.61 139.3,654.81 140,652.31 140.7,650.51 141.4,646.81 142.1,642.5 142.8,636.78 143.5,632.86 144.2,628.17 144.9,624.05 145.6,617.93 146.3,617.27 147,616.95 147.7,619.77 148.4,619.72 149.1,623.84 149.8,626.83 150.5,629.66 151.2,633.48 151.9,635.25 152.6,636.64 153.3,640.15 154,642.29 154.7,642.66 155.4,645.65 156.1,647.14 156.8,648.83 157.5,649.81 158.2,651.17 158.9,653.08 159.6,654.34 160.3,655.22 161,655.44 161.7,656.77 162.4,656.81 163.1,657.08 163.8,657.23 164.5,657.32 165.2,657.36 165.9,657.38 166.6,657.39 167.3,657.4 168,657.4 168.7,657.4 169.4,657.4 170.1,657.4 170.8,657.4 171.5,657.4 172.2,657.4 172.9,657.4 173.6,657.4 174.3,657.4 175,657.4 175.7,657.4 176.4,657.4 177.1,657.4 177.8,657.4 178.5,657.4 179.2,657.4 179.9,657.4 180.6,657.4 181.3,657.4 182,657.4 182.7,657.4 183.4,657.4 184.1,657.4 184.8,657.4 185.5,657.4 186.2,657.4 186.9,657.4 187.6,657.4 188.3,657.4 189,657.4 189.7,657.4 190.4,657.4 191.1,657.4 191.8,657.4 192.5,657.4 193.2,657.4 193.9,657.4" fill="none" stroke="#111" stroke-width="1.3" stroke-linejoin="round"/>
<polyline points="121.1,631.8 121.8,631.8 122.5,631.8 123.2,631.8 123.9,631.8 124.6,631.8 125.3,631.8 126,631.8 126.7,631.8 127.4,631.8 128.1,631.8 128.8,631.8 129.5,631.8 130.2,631.8 130.9,631.8 131.6,631.8 132.3,631.79 133,631.78 133.7,631.75 134.4,631.7 135.1,631.59 135.8,631.39 136.5,631.04 137.2,630.72 137.9,630.08 138.6,628.47 139.3,627.3 140,624.49 140.7,622.2 141.4,620.22 142.1,618.31 142.8,616.64 143.5,615.19 144.2,614.95 144.9,614.79 145.6,617.09 146.3,619.25 147,621.36 147.7,623.72 148.4,625.51 149.1,628.03 149.8,629.03 150.5,630.51 151.2,631.13 151.9,631.23 152.6,631.42 153.3,631.41 154,631.01 154.7,630.66 155.4,630.29 156.1,629.38 156.8,628.6 157.5,627.47 158.2,626.87 158.9,626.69 159.6,626.31 160.3,625.92 161,625.93 161.7,625.75 162.4,624.33 163.1,623.92 163.8,621.4 164.5,621.67 165.2,621.37 165.9,624.17 166.6,626.54 167.3,628.85 168,629.48 168.7,629.62 169.4,627.52 170.1,625.03 170.8,619.5 171.5,614.07 172.2,609.67 172.9,604.64 173.6,604.91 174.3,607.2 175,610.63 175.7,616.66 176.4,620.78 177.1,624.97 177.8,628.63 178.5,629.64 179.2,631.09 179.9,631.46 180.6,631.67 181.3,631.76 182,631.79 182.7,631.8 183.4,631.8 184.1,631.8 184.8,631.8 185.5,631.8 186.2,631.8 186.9,631.8 187.6,631.8 188.3,631.8 189,631.8 189.7,631.8 190.4,631.8 191.1,631.8 191.8,631.8 192.5,631.8 193.2,631.8 193.9,631.8" fill="none" stroke="#d8353a" stroke-width="1.2" stroke-linejoin="round"/>
<rect x="120.6" y="581.4" width="73.8" height="100.6" fill="none" stroke="#8a8a8a" stroke-width="0.9"/>
<line x1="122.6" y1="682" x2="122.6" y2="683.6" stroke="#666" stroke-width="0.6"/>
<line x1="127.59" y1="682" x2="127.59" y2="683.6" stroke="#666" stroke-width="0.6"/>
<line x1="132.57" y1="682" x2="132.57" y2="683.6" stroke="#666" stroke-width="0.6"/>
<line x1="137.56" y1="682" x2="137.56" y2="683.6" stroke="#666" stroke-width="0.6"/>
<line x1="142.54" y1="682" x2="142.54" y2="683.6" stroke="#666" stroke-width="0.6"/>
<line x1="147.53" y1="682" x2="147.53" y2="683.6" stroke="#666" stroke-width="0.6"/>
<line x1="152.51" y1="682" x2="152.51" y2="683.6" stroke="#666" stroke-width="0.6"/>
<line x1="157.5" y1="682" x2="157.5" y2="683.6" stroke="#666" stroke-width="0.6"/>
<line x1="162.49" y1="682" x2="162.49" y2="683.6" stroke="#666" stroke-width="0.6"/>
<line x1="167.47" y1="682" x2="167.47" y2="683.6" stroke="#666" stroke-width="0.6"/>
<line x1="172.46" y1="682" x2="172.46" y2="683.6" stroke="#666" stroke-width="0.6"/>
<line x1="177.44" y1="682" x2="177.44" y2="683.6" stroke="#666" stroke-width="0.6"/>
<line x1="182.43" y1="682" x2="182.43" y2="683.6" stroke="#666" stroke-width="0.6"/>
<line x1="187.41" y1="682" x2="187.41" y2="683.6" stroke="#666" stroke-width="0.6"/>
<line x1="192.4" y1="682" x2="192.4" y2="683.6" stroke="#666" stroke-width="0.6"/>
<text transform="translate(44.5,593)" font-size="11.5" text-anchor="start" fill="#111" stroke="#111" stroke-width="0.1">PD-1<tspan font-size="6" dy="-3.8">-</tspan><tspan dy="3.8"></tspan></text>
<text transform="translate(44.5,605)" font-size="11.5" text-anchor="start" fill="#d8353a" stroke="#d8353a" stroke-width="0.1">PD-1<tspan font-size="6" dy="-3.8">+</tspan><tspan dy="3.8"></tspan></text>
<text transform="translate(75.6,671)" font-size="11.6" text-anchor="start" fill="#a3a3a3" stroke="#a3a3a3" stroke-width="0.1">Isotype</text>
<text transform="translate(58,690)" font-size="7.2" text-anchor="middle" fill="#222" stroke="#222" stroke-width="0.22">0</text>
<line x1="58" y1="682" x2="58" y2="684.6" stroke="#555" stroke-width="0.7"/>
<text transform="translate(92.4,690)" font-size="6.6" text-anchor="middle" fill="#222" stroke="#222" stroke-width="0.22">10<tspan font-size="3.8" dy="-2.6">3</tspan></text>
<line x1="91.9" y1="682" x2="91.9" y2="684.6" stroke="#555" stroke-width="0.7"/>
<text transform="translate(109.6,690)" font-size="6.6" text-anchor="middle" fill="#222" stroke="#222" stroke-width="0.22">10<tspan font-size="3.8" dy="-2.6">4</tspan></text>
<line x1="109.1" y1="682" x2="109.1" y2="684.6" stroke="#555" stroke-width="0.7"/>
<rect x="54.5" y="682.3" width="5" height="2" fill="#111" stroke="none" stroke-width="1"/>
<rect x="134.5" y="682.3" width="5" height="2" fill="#111" stroke="none" stroke-width="1"/>
<text transform="translate(43.6,699.5)" font-size="11.8" text-anchor="start" fill="#111" stroke="#111" stroke-width="0.1">CXCR3</text>
<line x1="82" y1="693.6" x2="186" y2="693.6" stroke="#111" stroke-width="1.1"/>
<polygon points="191,693.6 185,691.3 185,695.9" fill="#111"/>
<text transform="translate(18.9,623.5) rotate(-90)" font-size="11.5" text-anchor="middle" fill="#222" stroke="#222" stroke-width="0.08">Events</text>
<text transform="translate(30.8,621.5) rotate(-90)" font-size="11.5" text-anchor="middle" fill="#222" stroke="#222" stroke-width="0.08">(normalized)</text>
<text transform="translate(2.2,576)" font-size="11.5" text-anchor="start" fill="#111" font-weight="bold">e</text>
<line x1="270" y1="578.6" x2="270" y2="688" stroke="#1a1a1a" stroke-width="1.3"/>
<line x1="269.4" y1="687.4" x2="393.6" y2="687.4" stroke="#1a1a1a" stroke-width="1.3"/>
<line x1="266.5" y1="687.4" x2="270" y2="687.4" stroke="#1a1a1a" stroke-width="1.2"/>
<text transform="translate(266.1,690.6) scale(1.1,1)" font-size="10.3" text-anchor="end" fill="#1a1a1a" stroke="#1a1a1a" stroke-width="0.22">0</text>
<line x1="266.5" y1="651.13" x2="270" y2="651.13" stroke="#1a1a1a" stroke-width="1.2"/>
<text transform="translate(266.1,654.33) scale(1.1,1)" font-size="10.3" text-anchor="end" fill="#1a1a1a" stroke="#1a1a1a" stroke-width="0.22">50</text>
<line x1="266.5" y1="614.87" x2="270" y2="614.87" stroke="#1a1a1a" stroke-width="1.2"/>
<text transform="translate(266.1,618.07) scale(1.1,1)" font-size="10.3" text-anchor="end" fill="#1a1a1a" stroke="#1a1a1a" stroke-width="0.22">100</text>
<line x1="266.5" y1="578.6" x2="270" y2="578.6" stroke="#1a1a1a" stroke-width="1.2"/>
<text transform="translate(266.1,581.8) scale(1.1,1)" font-size="10.3" text-anchor="end" fill="#1a1a1a" stroke="#1a1a1a" stroke-width="0.22">150</text>
<line x1="301" y1="687.4" x2="301" y2="690.9" stroke="#1a1a1a" stroke-width="1.2"/>
<line x1="362.8" y1="687.4" x2="362.8" y2="690.9" stroke="#1a1a1a" stroke-width="1.2"/>
<text transform="translate(302,703) scale(1.02,1)" font-size="11" text-anchor="middle" fill="#1a1a1a" stroke="#1a1a1a" stroke-width="0.22">D0</text>
<text transform="translate(364,703) scale(1.02,1)" font-size="11" text-anchor="middle" fill="#1a1a1a" stroke="#1a1a1a" stroke-width="0.22">D5</text>
<text transform="translate(247,645) rotate(-90) scale(1.03,1)" font-size="10.8" text-anchor="middle" fill="#1a1a1a" stroke="#1a1a1a" stroke-width="0.22">CXCR3 (%)</text>
<circle cx="289.8" cy="624.3" r="1.95" fill="#3a78bb"/>
<circle cx="289.8" cy="642.43" r="1.95" fill="#3a78bb"/>
<circle cx="293.31" cy="642.43" r="1.95" fill="#3a78bb"/>
<circle cx="286.29" cy="642.43" r="1.95" fill="#3a78bb"/>
<circle cx="289.8" cy="651.13" r="1.95" fill="#3a78bb"/>
<circle cx="293.31" cy="656.94" r="1.95" fill="#3a78bb"/>
<circle cx="289.8" cy="664.91" r="1.95" fill="#3a78bb"/>
<circle cx="293.31" cy="669.27" r="1.95" fill="#3a78bb"/>
<circle cx="289.8" cy="672.89" r="1.95" fill="#3a78bb"/>
<circle cx="286.29" cy="673.62" r="1.95" fill="#3a78bb"/>
<circle cx="293.31" cy="674.34" r="1.95" fill="#3a78bb"/>
<rect x="283.35" y="657.66" width="12.9" height="29.74" fill="none" stroke="#3a78bb" stroke-width="1.15"/>
<line x1="289.8" y1="638.8" x2="289.8" y2="675.07" stroke="#3a78bb" stroke-width="1.15"/>
<line x1="285.6" y1="638.8" x2="294" y2="638.8" stroke="#3a78bb" stroke-width="1.15"/>
<line x1="285.6" y1="675.07" x2="294" y2="675.07" stroke="#3a78bb" stroke-width="1.15"/>
<rect x="310.65" y="614.99" width="4.1" height="4.1" fill="#e8402f"/>
<rect x="314.17" y="616.44" width="4.1" height="4.1" fill="#e8402f"/>
<rect x="307.14" y="617.89" width="4.1" height="4.1" fill="#e8402f"/>
<rect x="310.65" y="618.62" width="4.1" height="4.1" fill="#e8402f"/>
<rect x="314.17" y="620.07" width="4.1" height="4.1" fill="#e8402f"/>
<rect x="307.14" y="621.52" width="4.1" height="4.1" fill="#e8402f"/>
<rect x="310.65" y="623.7" width="4.1" height="4.1" fill="#e8402f"/>
<rect x="314.17" y="627.32" width="4.1" height="4.1" fill="#e8402f"/>
<rect x="307.14" y="629.5" width="4.1" height="4.1" fill="#e8402f"/>
<rect x="310.65" y="639.65" width="4.1" height="4.1" fill="#e8402f"/>
<rect x="306.15" y="625.02" width="13.1" height="62.38" fill="none" stroke="#e8402f" stroke-width="1.15"/>
<line x1="312.7" y1="620.67" x2="312.7" y2="631.55" stroke="#e8402f" stroke-width="1.15"/>
<line x1="308.5" y1="620.67" x2="316.9" y2="620.67" stroke="#e8402f" stroke-width="1.15"/>
<line x1="308.5" y1="631.55" x2="316.9" y2="631.55" stroke="#e8402f" stroke-width="1.15"/>
<circle cx="351.5" cy="645.33" r="1.95" fill="#3a78bb"/>
<circle cx="351.5" cy="652.58" r="1.95" fill="#3a78bb"/>
<circle cx="351.5" cy="667.82" r="1.95" fill="#3a78bb"/>
<circle cx="355.01" cy="669.27" r="1.95" fill="#3a78bb"/>
<circle cx="347.99" cy="669.27" r="1.95" fill="#3a78bb"/>
<circle cx="351.5" cy="669.99" r="1.95" fill="#3a78bb"/>
<circle cx="355.01" cy="672.89" r="1.95" fill="#3a78bb"/>
<circle cx="351.5" cy="678.7" r="1.95" fill="#3a78bb"/>
<circle cx="355.01" cy="680.15" r="1.95" fill="#3a78bb"/>
<circle cx="347.99" cy="680.15" r="1.95" fill="#3a78bb"/>
<circle cx="351.5" cy="685.95" r="1.95" fill="#3a78bb"/>
<rect x="344.95" y="671.44" width="13.1" height="15.96" fill="none" stroke="#3a78bb" stroke-width="1.15"/>
<line x1="351.5" y1="658.39" x2="351.5" y2="681.6" stroke="#3a78bb" stroke-width="1.15"/>
<line x1="347.3" y1="658.39" x2="355.7" y2="658.39" stroke="#3a78bb" stroke-width="1.15"/>
<line x1="347.3" y1="681.6" x2="355.7" y2="681.6" stroke="#3a78bb" stroke-width="1.15"/>
<rect x="372.55" y="618.62" width="4.1" height="4.1" fill="#e8402f"/>
<rect x="376.06" y="621.52" width="4.1" height="4.1" fill="#e8402f"/>
<rect x="369.04" y="621.52" width="4.1" height="4.1" fill="#e8402f"/>
<rect x="372.55" y="622.25" width="4.1" height="4.1" fill="#e8402f"/>
<rect x="376.06" y="627.32" width="4.1" height="4.1" fill="#e8402f"/>
<rect x="372.55" y="632.4" width="4.1" height="4.1" fill="#e8402f"/>
<rect x="372.55" y="639.65" width="4.1" height="4.1" fill="#e8402f"/>
<rect x="376.06" y="639.65" width="4.1" height="4.1" fill="#e8402f"/>
<rect x="369.04" y="645.46" width="4.1" height="4.1" fill="#e8402f"/>
<rect x="372.55" y="651.26" width="4.1" height="4.1" fill="#e8402f"/>
<rect x="376.06" y="651.26" width="4.1" height="4.1" fill="#e8402f"/>
<rect x="369.04" y="654.89" width="4.1" height="4.1" fill="#e8402f"/>
<rect x="367.95" y="638.08" width="13.3" height="49.32" fill="none" stroke="#e8402f" stroke-width="1.15"/>
<line x1="374.6" y1="625.75" x2="374.6" y2="649.68" stroke="#e8402f" stroke-width="1.15"/>
<line x1="370.4" y1="625.75" x2="378.8" y2="625.75" stroke="#e8402f" stroke-width="1.15"/>
<line x1="370.4" y1="649.68" x2="378.8" y2="649.68" stroke="#e8402f" stroke-width="1.15"/>
<line x1="289" y1="601.6" x2="313" y2="601.6" stroke="#111" stroke-width="1.85"/>
<line x1="289" y1="598.8" x2="289" y2="604.4" stroke="#111" stroke-width="1.85"/>
<line x1="313" y1="598.8" x2="313" y2="604.4" stroke="#111" stroke-width="1.85"/>
<text transform="translate(301.7,601.9) scale(1.05,1)" font-size="11" text-anchor="middle" fill="#111" stroke="#111" stroke-width="0.22">**</text>
<line x1="351.6" y1="602" x2="376" y2="602" stroke="#111" stroke-width="1.85"/>
<line x1="351.6" y1="599.2" x2="351.6" y2="604.8" stroke="#111" stroke-width="1.85"/>
<line x1="376" y1="599.2" x2="376" y2="604.8" stroke="#111" stroke-width="1.85"/>
<text transform="translate(364.5,602.3) scale(1.05,1)" font-size="11" text-anchor="middle" fill="#111" stroke="#111" stroke-width="0.22">**</text>
<line x1="490" y1="596.4" x2="490" y2="688" stroke="#1a1a1a" stroke-width="1.3"/>
<line x1="489.4" y1="687.4" x2="561" y2="687.4" stroke="#1a1a1a" stroke-width="1.3"/>
<line x1="487" y1="687.4" x2="490" y2="687.4" stroke="#1a1a1a" stroke-width="1.2"/>
<text transform="translate(486.6,690.6) scale(1.07,1)" font-size="10.3" text-anchor="end" fill="#1a1a1a" stroke="#1a1a1a" stroke-width="0.22">0</text>
<line x1="487" y1="669.2" x2="490" y2="669.2" stroke="#1a1a1a" stroke-width="1.2"/>
<text transform="translate(486.6,672.4) scale(1.07,1)" font-size="10.3" text-anchor="end" fill="#1a1a1a" stroke="#1a1a1a" stroke-width="0.22">20</text>
<line x1="487" y1="651" x2="490" y2="651" stroke="#1a1a1a" stroke-width="1.2"/>
<text transform="translate(486.6,654.2) scale(1.07,1)" font-size="10.3" text-anchor="end" fill="#1a1a1a" stroke="#1a1a1a" stroke-width="0.22">40</text>
<line x1="487" y1="632.8" x2="490" y2="632.8" stroke="#1a1a1a" stroke-width="1.2"/>
<text transform="translate(486.6,636) scale(1.07,1)" font-size="10.3" text-anchor="end" fill="#1a1a1a" stroke="#1a1a1a" stroke-width="0.22">60</text>
<line x1="487" y1="614.6" x2="490" y2="614.6" stroke="#1a1a1a" stroke-width="1.2"/>
<text transform="translate(486.6,617.8) scale(1.07,1)" font-size="10.3" text-anchor="end" fill="#1a1a1a" stroke="#1a1a1a" stroke-width="0.22">80</text>
<line x1="487" y1="596.4" x2="490" y2="596.4" stroke="#1a1a1a" stroke-width="1.2"/>
<text transform="translate(486.6,599.6) scale(1.07,1)" font-size="10.3" text-anchor="end" fill="#1a1a1a" stroke="#1a1a1a" stroke-width="0.22">100</text>
<text transform="translate(508.2,700.5) scale(1.02,1)" font-size="11" text-anchor="middle" fill="#1a1a1a" stroke="#1a1a1a" stroke-width="0.22">D0</text>
<text transform="translate(543.2,700.5) scale(1.02,1)" font-size="11" text-anchor="middle" fill="#1a1a1a" stroke="#1a1a1a" stroke-width="0.22">D5</text>
<text transform="translate(463,644.5) rotate(-90) scale(1.09,1)" font-size="10.8" text-anchor="middle" fill="#1a1a1a" stroke="#1a1a1a" stroke-width="0.22">CXCR3 (%)</text>
<line x1="507.4" y1="608.23" x2="542.4" y2="634.62" stroke="#3a78bb" stroke-width="1.15"/>
<line x1="507.4" y1="629.16" x2="542.4" y2="644.63" stroke="#3a78bb" stroke-width="1.15"/>
<line x1="507.4" y1="630.98" x2="542.4" y2="664.65" stroke="#3a78bb" stroke-width="1.15"/>
<line x1="507.4" y1="632.8" x2="542.4" y2="686.49" stroke="#3a78bb" stroke-width="1.15"/>
<line x1="507.4" y1="642.81" x2="542.4" y2="662.83" stroke="#3a78bb" stroke-width="1.15"/>
<line x1="507.4" y1="659.19" x2="542.4" y2="665.56" stroke="#3a78bb" stroke-width="1.15"/>
<line x1="507.4" y1="665.56" x2="542.4" y2="670.11" stroke="#3a78bb" stroke-width="1.15"/>
<line x1="507.4" y1="667.38" x2="542.4" y2="668.29" stroke="#3a78bb" stroke-width="1.15"/>
<line x1="507.4" y1="669.2" x2="542.4" y2="671.02" stroke="#3a78bb" stroke-width="1.15"/>
<line x1="507.4" y1="670.11" x2="542.4" y2="677.39" stroke="#3a78bb" stroke-width="1.15"/>
<line x1="507.4" y1="671.93" x2="542.4" y2="678.3" stroke="#3a78bb" stroke-width="1.15"/>
<circle cx="507.4" cy="608.23" r="2.45" fill="#3a78bb"/>
<circle cx="542.4" cy="634.62" r="2.45" fill="#3a78bb"/>
<circle cx="507.4" cy="629.16" r="2.45" fill="#3a78bb"/>
<circle cx="542.4" cy="644.63" r="2.45" fill="#3a78bb"/>
<circle cx="507.4" cy="630.98" r="2.45" fill="#3a78bb"/>
<circle cx="542.4" cy="664.65" r="2.45" fill="#3a78bb"/>
<circle cx="507.4" cy="632.8" r="2.45" fill="#3a78bb"/>
<circle cx="542.4" cy="686.49" r="2.45" fill="#3a78bb"/>
<circle cx="507.4" cy="642.81" r="2.45" fill="#3a78bb"/>
<circle cx="542.4" cy="662.83" r="2.45" fill="#3a78bb"/>
<circle cx="507.4" cy="659.19" r="2.45" fill="#3a78bb"/>
<circle cx="542.4" cy="665.56" r="2.45" fill="#3a78bb"/>
<circle cx="507.4" cy="665.56" r="2.45" fill="#3a78bb"/>
<circle cx="542.4" cy="670.11" r="2.45" fill="#3a78bb"/>
<circle cx="507.4" cy="667.38" r="2.45" fill="#3a78bb"/>
<circle cx="542.4" cy="668.29" r="2.45" fill="#3a78bb"/>
<circle cx="507.4" cy="669.2" r="2.45" fill="#3a78bb"/>
<circle cx="542.4" cy="671.02" r="2.45" fill="#3a78bb"/>
<circle cx="507.4" cy="670.11" r="2.45" fill="#3a78bb"/>
<circle cx="542.4" cy="677.39" r="2.45" fill="#3a78bb"/>
<circle cx="507.4" cy="671.93" r="2.45" fill="#3a78bb"/>
<circle cx="542.4" cy="678.3" r="2.45" fill="#3a78bb"/>
<line x1="507.4" y1="597.6" x2="542.4" y2="597.6" stroke="#111" stroke-width="1.85"/>
<line x1="507.4" y1="594.8" x2="507.4" y2="600.4" stroke="#111" stroke-width="1.85"/>
<line x1="542.4" y1="594.8" x2="542.4" y2="600.4" stroke="#111" stroke-width="1.85"/>
<text transform="translate(525.6,597.9) scale(1.05,1)" font-size="11" text-anchor="middle" fill="#111" stroke="#111" stroke-width="0.22">*</text>
<line x1="609" y1="603.4" x2="609" y2="672.6" stroke="#1a1a1a" stroke-width="1.3"/>
<line x1="609" y1="680" x2="609" y2="688" stroke="#1a1a1a" stroke-width="1.3"/>
<line x1="608.4" y1="687.4" x2="680.4" y2="687.4" stroke="#1a1a1a" stroke-width="1.3"/>
<line x1="606" y1="672.6" x2="609" y2="672.6" stroke="#1a1a1a" stroke-width="1.2"/>
<text transform="translate(605.6,675.8) scale(1.2,1)" font-size="10.5" text-anchor="end" fill="#1a1a1a" stroke="#1a1a1a" stroke-width="0.22">40</text>
<line x1="606" y1="649.53" x2="609" y2="649.53" stroke="#1a1a1a" stroke-width="1.2"/>
<text transform="translate(605.6,652.73) scale(1.2,1)" font-size="10.5" text-anchor="end" fill="#1a1a1a" stroke="#1a1a1a" stroke-width="0.22">60</text>
<line x1="606" y1="626.47" x2="609" y2="626.47" stroke="#1a1a1a" stroke-width="1.2"/>
<text transform="translate(605.6,629.67) scale(1.2,1)" font-size="10.5" text-anchor="end" fill="#1a1a1a" stroke="#1a1a1a" stroke-width="0.22">80</text>
<line x1="606" y1="603.4" x2="609" y2="603.4" stroke="#1a1a1a" stroke-width="1.2"/>
<text transform="translate(605.6,606.6) scale(1.2,1)" font-size="10.5" text-anchor="end" fill="#1a1a1a" stroke="#1a1a1a" stroke-width="0.22">100</text>
<line x1="606" y1="680" x2="609" y2="680" stroke="#1a1a1a" stroke-width="1.2"/>
<text transform="translate(605.6,683.2) scale(1.2,1)" font-size="10.5" text-anchor="end" fill="#1a1a1a" stroke="#1a1a1a" stroke-width="0.22">40</text>
<line x1="606" y1="687.4" x2="609" y2="687.4" stroke="#1a1a1a" stroke-width="1.2"/>
<text transform="translate(605.6,690.6) scale(1.2,1)" font-size="10.5" text-anchor="end" fill="#1a1a1a" stroke="#1a1a1a" stroke-width="0.22">0</text>
<line x1="606" y1="672.6" x2="612" y2="672.6" stroke="#1a1a1a" stroke-width="1.3"/>
<line x1="606" y1="680" x2="612" y2="680" stroke="#1a1a1a" stroke-width="1.3"/>
<text transform="translate(628.2,700) scale(1.02,1)" font-size="11" text-anchor="middle" fill="#1a1a1a" stroke="#1a1a1a" stroke-width="0.22">D0</text>
<text transform="translate(662.8,700) scale(1.02,1)" font-size="11" text-anchor="middle" fill="#1a1a1a" stroke="#1a1a1a" stroke-width="0.22">D5</text>
<text transform="translate(584,644.5) rotate(-90) scale(1.09,1)" font-size="10.8" text-anchor="middle" fill="#1a1a1a" stroke="#1a1a1a" stroke-width="0.22">CXCR3 (%)</text>
<line x1="627.4" y1="606.86" x2="662" y2="613.78" stroke="#dc3c3c" stroke-width="1.15"/>
<line x1="627.4" y1="609.17" x2="662" y2="635.69" stroke="#dc3c3c" stroke-width="1.15"/>
<line x1="627.4" y1="611.47" x2="662" y2="616.09" stroke="#dc3c3c" stroke-width="1.15"/>
<line x1="627.4" y1="613.78" x2="662" y2="646.07" stroke="#dc3c3c" stroke-width="1.15"/>
<line x1="627.4" y1="614.93" x2="662" y2="665.68" stroke="#dc3c3c" stroke-width="1.15"/>
<line x1="627.4" y1="616.09" x2="662" y2="670.29" stroke="#dc3c3c" stroke-width="1.15"/>
<line x1="627.4" y1="618.39" x2="662" y2="626.47" stroke="#dc3c3c" stroke-width="1.15"/>
<line x1="627.4" y1="623.01" x2="662" y2="652.99" stroke="#dc3c3c" stroke-width="1.15"/>
<line x1="627.4" y1="631.08" x2="662" y2="621.85" stroke="#dc3c3c" stroke-width="1.15"/>
<line x1="627.4" y1="647.23" x2="662" y2="652.99" stroke="#dc3c3c" stroke-width="1.15"/>
<circle cx="627.4" cy="606.86" r="2.45" fill="#dc3c3c"/>
<circle cx="662" cy="613.78" r="2.45" fill="#dc3c3c"/>
<circle cx="627.4" cy="609.17" r="2.45" fill="#dc3c3c"/>
<circle cx="662" cy="635.69" r="2.45" fill="#dc3c3c"/>
<circle cx="627.4" cy="611.47" r="2.45" fill="#dc3c3c"/>
<circle cx="662" cy="616.09" r="2.45" fill="#dc3c3c"/>
<circle cx="627.4" cy="613.78" r="2.45" fill="#dc3c3c"/>
<circle cx="662" cy="646.07" r="2.45" fill="#dc3c3c"/>
<circle cx="627.4" cy="614.93" r="2.45" fill="#dc3c3c"/>
<circle cx="662" cy="665.68" r="2.45" fill="#dc3c3c"/>
<circle cx="627.4" cy="616.09" r="2.45" fill="#dc3c3c"/>
<circle cx="662" cy="670.29" r="2.45" fill="#dc3c3c"/>
<circle cx="627.4" cy="618.39" r="2.45" fill="#dc3c3c"/>
<circle cx="662" cy="626.47" r="2.45" fill="#dc3c3c"/>
<circle cx="627.4" cy="623.01" r="2.45" fill="#dc3c3c"/>
<circle cx="662" cy="652.99" r="2.45" fill="#dc3c3c"/>
<circle cx="627.4" cy="631.08" r="2.45" fill="#dc3c3c"/>
<circle cx="662" cy="621.85" r="2.45" fill="#dc3c3c"/>
<circle cx="627.4" cy="647.23" r="2.45" fill="#dc3c3c"/>
<circle cx="662" cy="652.99" r="2.45" fill="#dc3c3c"/>
<line x1="627.4" y1="595" x2="662" y2="595" stroke="#111" stroke-width="1.85"/>
<line x1="627.4" y1="592.2" x2="627.4" y2="597.8" stroke="#111" stroke-width="1.85"/>
<line x1="662" y1="592.2" x2="662" y2="597.8" stroke="#111" stroke-width="1.85"/>
<text transform="translate(645.4,595.3) scale(1.05,1)" font-size="11" text-anchor="middle" fill="#111" stroke="#111" stroke-width="0.22">*</text>
<polygon points="40.9,813.15 41.6,813.07 42.3,812.57 43,811.55 43.7,811.07 44.4,809.66 45.1,808.3 45.8,805.6 46.5,802.71 47.2,800.03 47.9,795.81 48.6,791.49 49.3,788.14 50,782.31 50.7,778.52 51.4,774.21 52.1,771.33 52.8,769.43 53.5,770.63 54.2,769.66 54.9,772.35 55.6,772.92 56.3,775.26 57,781.02 57.7,783.12 58.4,787.16 59.1,792.22 59.8,795.46 60.5,799.74 61.2,802.08 61.9,805.43 62.6,806.71 63.3,808.93 64,810.6 64.7,811.5 65.4,811.94 66.1,812.71 66.8,812.59 67.5,813.14 68.2,813.31 68.9,813.43 69.6,813.5 70.3,813.54 71,813.57 71.7,813.58 72.4,813.59 73.1,813.59 73.8,813.6 74.5,813.6 75.2,813.6 75.9,813.6 76.6,813.6 77.3,813.6 78,813.6 78.7,813.6 79.4,813.6 80.1,813.6 80.8,813.6 81.5,813.6 82.2,813.6 82.9,813.6 83.6,813.6 84.3,813.6 85,813.6 85.7,813.6 86.4,813.6 87.1,813.6 87.8,813.6 88.5,813.6 89.2,813.6 89.9,813.6 90.6,813.6 91.3,813.6 92,813.6 92.7,813.6 93.4,813.6 94.1,813.6 94.8,813.6 95.5,813.6 96.2,813.6 96.9,813.6 97.6,813.6 98.3,813.6 99,813.6 99.7,813.6 100.4,813.6 101.1,813.6 101.8,813.6 102.5,813.6 103.2,813.6 103.9,813.6 104.6,813.6 105.3,813.6 106,813.6 106.7,813.6 107.4,813.6 108.1,813.6 108.8,813.6 109.5,813.6 110.2,813.6 110.9,813.6 111.6,813.6 112.3,813.6 113,813.6 113.7,813.6 113.9,813.6 40.9,813.6" fill="#999999" stroke="none"/>
<polyline points="40.9,787.92 41.6,787.56 42.3,786.56 43,785.23 43.7,784.03 44.4,782.36 45.1,780.53 45.8,778.65 46.5,774.85 47.2,772.79 47.9,769.04 48.6,762.69 49.3,758.34 50,755.4 50.7,752.13 51.4,745.97 52.1,745.21 52.8,742.76 53.5,742.2 54.2,743.01 54.9,742.21 55.6,745.52 56.3,747.25 57,750.06 57.7,754.38 58.4,759.35 59.1,761.15 59.8,765.43 60.5,769.15 61.2,772.6 61.9,776.39 62.6,778.31 63.3,780.95 64,782.45 64.7,783.66 65.4,785.59 66.1,785.92 66.8,787.15 67.5,787.16 68.2,787.61 68.9,787.87 69.6,788.2 70.3,788.34 71,788.43 71.7,788.49 72.4,788.53 73.1,788.56 73.8,788.58 74.5,788.59 75.2,788.59 75.9,788.6 76.6,788.6 77.3,788.6 78,788.6 78.7,788.6 79.4,788.6 80.1,788.6 80.8,788.6 81.5,788.6 82.2,788.6 82.9,788.6 83.6,788.6 84.3,788.6 85,788.6 85.7,788.6 86.4,788.6 87.1,788.6 87.8,788.6 88.5,788.6 89.2,788.6 89.9,788.6 90.6,788.6 91.3,788.6 92,788.6 92.7,788.6 93.4,788.6 94.1,788.6 94.8,788.6 95.5,788.6 96.2,788.6 96.9,788.6 97.6,788.6 98.3,788.6 99,788.6 99.7,788.6 100.4,788.6 101.1,788.6 101.8,788.6 102.5,788.6 103.2,788.6 103.9,788.6 104.6,788.6 105.3,788.6 106,788.6 106.7,788.6 107.4,788.6 108.1,788.6 108.8,788.6 109.5,788.6 110.2,788.6 110.9,788.6 111.6,788.6 112.3,788.6 113,788.6 113.7,788.6" fill="none" stroke="#111" stroke-width="1.3" stroke-linejoin="round"/>
<polyline points="40.9,764.34 41.6,764.29 42.3,764.2 43,764.07 43.7,763.85 44.4,763.8 45.1,762.76 45.8,762.32 46.5,760.97 47.2,759.6 47.9,758.26 48.6,755.92 49.3,753.49 50,749.15 50.7,746.42 51.4,743.18 52.1,737.76 52.8,735.66 53.5,729.42 54.2,727.5 54.9,725.05 55.6,723.62 56.3,722.97 57,726.16 57.7,728.12 58.4,734.13 59.1,737.79 59.8,741.22 60.5,744.82 61.2,747.72 61.9,747.89 62.6,749.78 63.3,747.78 64,746.4 64.7,745.38 65.4,743.85 66.1,742.03 66.8,743.24 67.5,745.12 68.2,749.06 68.9,751.13 69.6,754.46 70.3,757.07 71,759.36 71.7,760.49 72.4,762.3 73.1,763.32 73.8,763.51 74.5,764.02 75.2,764.21 75.9,764.31 76.6,764.36 77.3,764.38 78,764.39 78.7,764.4 79.4,764.4 80.1,764.4 80.8,764.4 81.5,764.4 82.2,764.4 82.9,764.4 83.6,764.4 84.3,764.4 85,764.4 85.7,764.4 86.4,764.4 87.1,764.4 87.8,764.4 88.5,764.4 89.2,764.4 89.9,764.4 90.6,764.4 91.3,764.4 92,764.4 92.7,764.4 93.4,764.4 94.1,764.4 94.8,764.4 95.5,764.4 96.2,764.4 96.9,764.4 97.6,764.4 98.3,764.4 99,764.4 99.7,764.4 100.4,764.4 101.1,764.4 101.8,764.4 102.5,764.4 103.2,764.4 103.9,764.4 104.6,764.4 105.3,764.4 106,764.4 106.7,764.4 107.4,764.4 108.1,764.4 108.8,764.4 109.5,764.4 110.2,764.4 110.9,764.4 111.6,764.4 112.3,764.4 113,764.4 113.7,764.4" fill="none" stroke="#d8353a" stroke-width="1.2" stroke-linejoin="round"/>
<rect x="40.4" y="713" width="74" height="100.6" fill="none" stroke="#8a8a8a" stroke-width="0.9"/>
<line x1="42.4" y1="813.6" x2="42.4" y2="815.2" stroke="#666" stroke-width="0.6"/>
<line x1="47.4" y1="813.6" x2="47.4" y2="815.2" stroke="#666" stroke-width="0.6"/>
<line x1="52.4" y1="813.6" x2="52.4" y2="815.2" stroke="#666" stroke-width="0.6"/>
<line x1="57.4" y1="813.6" x2="57.4" y2="815.2" stroke="#666" stroke-width="0.6"/>
<line x1="62.4" y1="813.6" x2="62.4" y2="815.2" stroke="#666" stroke-width="0.6"/>
<line x1="67.4" y1="813.6" x2="67.4" y2="815.2" stroke="#666" stroke-width="0.6"/>
<line x1="72.4" y1="813.6" x2="72.4" y2="815.2" stroke="#666" stroke-width="0.6"/>
<line x1="77.4" y1="813.6" x2="77.4" y2="815.2" stroke="#666" stroke-width="0.6"/>
<line x1="82.4" y1="813.6" x2="82.4" y2="815.2" stroke="#666" stroke-width="0.6"/>
<line x1="87.4" y1="813.6" x2="87.4" y2="815.2" stroke="#666" stroke-width="0.6"/>
<line x1="92.4" y1="813.6" x2="92.4" y2="815.2" stroke="#666" stroke-width="0.6"/>
<line x1="97.4" y1="813.6" x2="97.4" y2="815.2" stroke="#666" stroke-width="0.6"/>
<line x1="102.4" y1="813.6" x2="102.4" y2="815.2" stroke="#666" stroke-width="0.6"/>
<line x1="107.4" y1="813.6" x2="107.4" y2="815.2" stroke="#666" stroke-width="0.6"/>
<line x1="112.4" y1="813.6" x2="112.4" y2="815.2" stroke="#666" stroke-width="0.6"/>
<polygon points="121.5,813.95 122.2,813.89 122.9,813.8 123.6,813.65 124.3,813.09 125,812.99 125.7,812.18 126.4,811.61 127.1,810.22 127.8,808.51 128.5,805.05 129.2,802.04 129.9,798.83 130.6,794.44 131.3,788.84 132,785.12 132.7,780.35 133.4,774.64 134.1,772.25 134.8,769.29 135.5,769.58 136.2,770.06 136.9,772.8 137.6,776.72 138.3,780 139,783.33 139.7,788.98 140.4,792.92 141.1,795.7 141.8,799.7 142.5,803.6 143.2,806.4 143.9,808.55 144.6,810.3 145.3,811.56 146,812.17 146.7,812.58 147.4,813.17 148.1,813.55 148.8,813.73 149.5,813.84 150.2,813.91 150.9,813.95 151.6,813.97 152.3,813.99 153,813.99 153.7,814 154.4,814 155.1,814 155.8,814 156.5,814 157.2,814 157.9,814 158.6,814 159.3,814 160,814 160.7,814 161.4,814 162.1,814 162.8,814 163.5,814 164.2,814 164.9,814 165.6,814 166.3,814 167,814 167.7,814 168.4,814 169.1,814 169.8,814 170.5,814 171.2,814 171.9,814 172.6,814 173.3,814 174,814 174.7,814 175.4,814 176.1,814 176.8,814 177.5,814 178.2,814 178.9,814 179.6,814 180.3,814 181,814 181.7,814 182.4,814 183.1,814 183.8,814 184.5,814 185.2,814 185.9,814 186.6,814 187.3,814 188,814 188.7,814 189.4,814 190.1,814 190.8,814 191.5,814 192.2,814 192.9,814 193.6,814 194.3,814 194.5,814 121.5,814" fill="#999999" stroke="none"/>
<polyline points="121.5,788.46 122.2,788.35 122.9,788.16 123.6,787.96 124.3,787.76 125,786.46 125.7,785.13 126.4,784.19 127.1,781.64 127.8,778.67 128.5,775.18 129.2,770.78 129.9,766.24 130.6,762 131.3,757 132,754.72 132.7,750.37 133.4,747.63 134.1,747.53 134.8,745.38 135.5,748.16 136.2,747.18 136.9,751.56 137.6,755.71 138.3,758.3 139,760.19 139.7,764.72 140.4,768.23 141.1,771.58 141.8,774.72 142.5,778.36 143.2,780.89 143.9,782.85 144.6,784.52 145.3,785.62 146,786.7 146.7,786.59 147.4,787.39 148.1,788.13 148.8,788.12 149.5,788.29 150.2,788.41 150.9,788.48 151.6,788.53 152.3,788.56 153,788.58 153.7,788.59 154.4,788.59 155.1,788.6 155.8,788.6 156.5,788.6 157.2,788.6 157.9,788.6 158.6,788.6 159.3,788.6 160,788.6 160.7,788.6 161.4,788.6 162.1,788.6 162.8,788.6 163.5,788.6 164.2,788.6 164.9,788.6 165.6,788.6 166.3,788.6 167,788.6 167.7,788.6 168.4,788.6 169.1,788.6 169.8,788.6 170.5,788.6 171.2,788.6 171.9,788.6 172.6,788.6 173.3,788.6 174,788.6 174.7,788.6 175.4,788.6 176.1,788.6 176.8,788.6 177.5,788.6 178.2,788.6 178.9,788.6 179.6,788.6 180.3,788.6 181,788.6 181.7,788.6 182.4,788.6 183.1,788.6 183.8,788.6 184.5,788.6 185.2,788.6 185.9,788.6 186.6,788.6 187.3,788.6 188,788.6 188.7,788.6 189.4,788.6 190.1,788.6 190.8,788.6 191.5,788.6 192.2,788.6 192.9,788.6 193.6,788.6 194.3,788.6" fill="none" stroke="#111" stroke-width="1.3" stroke-linejoin="round"/>
<polyline points="121.5,763.97 122.2,763.34 122.9,763.44 123.6,762.88 124.3,762.32 125,762.36 125.7,762.25 126.4,762.48 127.1,762.78 127.8,763.37 128.5,763.58 129.2,763.04 129.9,761.74 130.6,759.3 131.3,756.48 132,753.08 132.7,747.44 133.4,742.37 134.1,735.34 134.8,730.87 135.5,727.1 136.2,725.16 136.9,723.29 137.6,726.42 138.3,728.17 139,733.87 139.7,737.79 140.4,741.91 141.1,743.76 141.8,745.98 142.5,747.49 143.2,746.95 143.9,749.23 144.6,749.29 145.3,750.61 146,753.06 146.7,754.38 147.4,756.26 148.1,757.4 148.8,757.42 149.5,758.58 150.2,758.42 150.9,757.72 151.6,757.81 152.3,758.66 153,759.3 153.7,759.52 154.4,760.74 155.1,761.26 155.8,762.85 156.5,763.39 157.2,763.57 157.9,764.03 158.6,764.22 159.3,764.32 160,764.36 160.7,764.39 161.4,764.39 162.1,764.4 162.8,764.4 163.5,764.4 164.2,764.4 164.9,764.4 165.6,764.4 166.3,764.4 167,764.4 167.7,764.4 168.4,764.4 169.1,764.4 169.8,764.4 170.5,764.4 171.2,764.4 171.9,764.4 172.6,764.4 173.3,764.4 174,764.4 174.7,764.4 175.4,764.4 176.1,764.4 176.8,764.4 177.5,764.4 178.2,764.4 178.9,764.4 179.6,764.4 180.3,764.4 181,764.4 181.7,764.4 182.4,764.4 183.1,764.4 183.8,764.4 184.5,764.4 185.2,764.4 185.9,764.4 186.6,764.4 187.3,764.4 188,764.4 188.7,764.4 189.4,764.4 190.1,764.4 190.8,764.4 191.5,764.4 192.2,764.4 192.9,764.4 193.6,764.4 194.3,764.4" fill="none" stroke="#d8353a" stroke-width="1.2" stroke-linejoin="round"/>
<rect x="121" y="713" width="74" height="101" fill="none" stroke="#8a8a8a" stroke-width="0.9"/>
<line x1="123" y1="814" x2="123" y2="815.6" stroke="#666" stroke-width="0.6"/>
<line x1="128" y1="814" x2="128" y2="815.6" stroke="#666" stroke-width="0.6"/>
<line x1="133" y1="814" x2="133" y2="815.6" stroke="#666" stroke-width="0.6"/>
<line x1="138" y1="814" x2="138" y2="815.6" stroke="#666" stroke-width="0.6"/>
<line x1="143" y1="814" x2="143" y2="815.6" stroke="#666" stroke-width="0.6"/>
<line x1="148" y1="814" x2="148" y2="815.6" stroke="#666" stroke-width="0.6"/>
<line x1="153" y1="814" x2="153" y2="815.6" stroke="#666" stroke-width="0.6"/>
<line x1="158" y1="814" x2="158" y2="815.6" stroke="#666" stroke-width="0.6"/>
<line x1="163" y1="814" x2="163" y2="815.6" stroke="#666" stroke-width="0.6"/>
<line x1="168" y1="814" x2="168" y2="815.6" stroke="#666" stroke-width="0.6"/>
<line x1="173" y1="814" x2="173" y2="815.6" stroke="#666" stroke-width="0.6"/>
<line x1="178" y1="814" x2="178" y2="815.6" stroke="#666" stroke-width="0.6"/>
<line x1="183" y1="814" x2="183" y2="815.6" stroke="#666" stroke-width="0.6"/>
<line x1="188" y1="814" x2="188" y2="815.6" stroke="#666" stroke-width="0.6"/>
<line x1="193" y1="814" x2="193" y2="815.6" stroke="#666" stroke-width="0.6"/>
<text transform="translate(78.4,731)" font-size="11.5" text-anchor="start" fill="#111" stroke="#111" stroke-width="0.1">PD-1<tspan font-size="6" dy="-3.8">-</tspan><tspan dy="3.8"></tspan></text>
<text transform="translate(78.4,743)" font-size="11.5" text-anchor="start" fill="#d8353a" stroke="#d8353a" stroke-width="0.1">PD-1<tspan font-size="6" dy="-3.8">+</tspan><tspan dy="3.8"></tspan></text>
<text transform="translate(71.4,806)" font-size="11.6" text-anchor="start" fill="#a3a3a3" stroke="#a3a3a3" stroke-width="0.1">Isotype</text>
<text transform="translate(58.6,823)" font-size="7.2" text-anchor="middle" fill="#222" stroke="#222" stroke-width="0.22">0</text>
<line x1="58.6" y1="813.6" x2="58.6" y2="816.2" stroke="#555" stroke-width="0.7"/>
<text transform="translate(92.4,823)" font-size="6.6" text-anchor="middle" fill="#222" stroke="#222" stroke-width="0.22">10<tspan font-size="3.8" dy="-2.6">3</tspan></text>
<line x1="91.9" y1="813.6" x2="91.9" y2="816.2" stroke="#555" stroke-width="0.7"/>
<text transform="translate(109.6,823)" font-size="6.6" text-anchor="middle" fill="#222" stroke="#222" stroke-width="0.22">10<tspan font-size="3.8" dy="-2.6">4</tspan></text>
<line x1="109.1" y1="813.6" x2="109.1" y2="816.2" stroke="#555" stroke-width="0.7"/>
<rect x="52.5" y="813.9" width="5" height="2" fill="#111" stroke="none" stroke-width="1"/>
<rect x="134.5" y="814.3" width="5" height="2" fill="#111" stroke="none" stroke-width="1"/>
<text transform="translate(42.4,834.6)" font-size="11.8" text-anchor="start" fill="#111" stroke="#111" stroke-width="0.1">CD95</text>
<line x1="78" y1="830.6" x2="188" y2="830.6" stroke="#111" stroke-width="1.1"/>
<polygon points="193,830.6 187,828.3 187,832.9" fill="#111"/>
<text transform="translate(18.9,758.5) rotate(-90)" font-size="11.5" text-anchor="middle" fill="#222" stroke="#222" stroke-width="0.08">Events</text>
<text transform="translate(30.8,756.5) rotate(-90)" font-size="11.5" text-anchor="middle" fill="#222" stroke="#222" stroke-width="0.08">(normalized)</text>
<text transform="translate(2.2,707.5)" font-size="11.5" text-anchor="start" fill="#111" font-weight="bold">f</text>
<line x1="270" y1="710" x2="270" y2="820.2" stroke="#1a1a1a" stroke-width="1.3"/>
<line x1="269.4" y1="819.6" x2="393.6" y2="819.6" stroke="#1a1a1a" stroke-width="1.3"/>
<line x1="266.5" y1="819.6" x2="270" y2="819.6" stroke="#1a1a1a" stroke-width="1.2"/>
<text transform="translate(266.1,822.8) scale(1.1,1)" font-size="10.3" text-anchor="end" fill="#1a1a1a" stroke="#1a1a1a" stroke-width="0.22">0</text>
<line x1="266.5" y1="783.07" x2="270" y2="783.07" stroke="#1a1a1a" stroke-width="1.2"/>
<text transform="translate(266.1,786.27) scale(1.1,1)" font-size="10.3" text-anchor="end" fill="#1a1a1a" stroke="#1a1a1a" stroke-width="0.22">20</text>
<line x1="266.5" y1="746.53" x2="270" y2="746.53" stroke="#1a1a1a" stroke-width="1.2"/>
<text transform="translate(266.1,749.73) scale(1.1,1)" font-size="10.3" text-anchor="end" fill="#1a1a1a" stroke="#1a1a1a" stroke-width="0.22">40</text>
<line x1="266.5" y1="710" x2="270" y2="710" stroke="#1a1a1a" stroke-width="1.2"/>
<text transform="translate(266.1,713.2) scale(1.1,1)" font-size="10.3" text-anchor="end" fill="#1a1a1a" stroke="#1a1a1a" stroke-width="0.22">60</text>
<line x1="301" y1="819.6" x2="301" y2="823.1" stroke="#1a1a1a" stroke-width="1.2"/>
<line x1="362.8" y1="819.6" x2="362.8" y2="823.1" stroke="#1a1a1a" stroke-width="1.2"/>
<text transform="translate(302,835.2) scale(1.02,1)" font-size="11" text-anchor="middle" fill="#1a1a1a" stroke="#1a1a1a" stroke-width="0.22">D0</text>
<text transform="translate(363.6,835.2) scale(1.02,1)" font-size="11" text-anchor="middle" fill="#1a1a1a" stroke="#1a1a1a" stroke-width="0.22">D5</text>
<text transform="translate(247,773) rotate(-90) scale(1.03,1)" font-size="10.8" text-anchor="middle" fill="#1a1a1a" stroke="#1a1a1a" stroke-width="0.22">CD95 (%)</text>
<circle cx="289.8" cy="790.37" r="1.95" fill="#3a78bb"/>
<circle cx="289.8" cy="801.33" r="1.95" fill="#3a78bb"/>
<circle cx="293.31" cy="806.81" r="1.95" fill="#3a78bb"/>
<circle cx="286.29" cy="808.64" r="1.95" fill="#3a78bb"/>
<circle cx="289.8" cy="810.47" r="1.95" fill="#3a78bb"/>
<circle cx="293.31" cy="810.47" r="1.95" fill="#3a78bb"/>
<circle cx="286.29" cy="812.29" r="1.95" fill="#3a78bb"/>
<circle cx="289.8" cy="812.29" r="1.95" fill="#3a78bb"/>
<circle cx="293.31" cy="814.12" r="1.95" fill="#3a78bb"/>
<circle cx="289.8" cy="814.12" r="1.95" fill="#3a78bb"/>
<circle cx="286.29" cy="815.95" r="1.95" fill="#3a78bb"/>
<circle cx="289.8" cy="815.95" r="1.95" fill="#3a78bb"/>
<circle cx="293.31" cy="817.77" r="1.95" fill="#3a78bb"/>
<rect x="283.35" y="812.29" width="12.9" height="7.31" fill="none" stroke="#3a78bb" stroke-width="1.15"/>
<line x1="289.8" y1="803.16" x2="289.8" y2="817.77" stroke="#3a78bb" stroke-width="1.15"/>
<line x1="285.6" y1="803.16" x2="294" y2="803.16" stroke="#3a78bb" stroke-width="1.15"/>
<line x1="285.6" y1="817.77" x2="294" y2="817.77" stroke="#3a78bb" stroke-width="1.15"/>
<rect x="310.65" y="724.39" width="4.1" height="4.1" fill="#e8402f"/>
<rect x="314.17" y="728.04" width="4.1" height="4.1" fill="#e8402f"/>
<rect x="310.65" y="748.14" width="4.1" height="4.1" fill="#e8402f"/>
<rect x="310.65" y="762.75" width="4.1" height="4.1" fill="#e8402f"/>
<rect x="314.17" y="764.58" width="4.1" height="4.1" fill="#e8402f"/>
<rect x="310.65" y="770.06" width="4.1" height="4.1" fill="#e8402f"/>
<rect x="314.17" y="771.88" width="4.1" height="4.1" fill="#e8402f"/>
<rect x="307.14" y="773.71" width="4.1" height="4.1" fill="#e8402f"/>
<rect x="310.65" y="773.71" width="4.1" height="4.1" fill="#e8402f"/>
<rect x="314.17" y="775.54" width="4.1" height="4.1" fill="#e8402f"/>
<rect x="310.65" y="781.02" width="4.1" height="4.1" fill="#e8402f"/>
<rect x="314.17" y="784.67" width="4.1" height="4.1" fill="#e8402f"/>
<rect x="310.65" y="788.32" width="4.1" height="4.1" fill="#e8402f"/>
<rect x="310.65" y="808.42" width="4.1" height="4.1" fill="#e8402f"/>
<rect x="306.15" y="772.11" width="13.1" height="47.49" fill="none" stroke="#e8402f" stroke-width="1.15"/>
<line x1="312.7" y1="749.27" x2="312.7" y2="792.2" stroke="#e8402f" stroke-width="1.15"/>
<line x1="308.5" y1="749.27" x2="316.9" y2="749.27" stroke="#e8402f" stroke-width="1.15"/>
<line x1="308.5" y1="792.2" x2="316.9" y2="792.2" stroke="#e8402f" stroke-width="1.15"/>
<circle cx="351.5" cy="795.85" r="1.95" fill="#3a78bb"/>
<circle cx="355.01" cy="797.68" r="1.95" fill="#3a78bb"/>
<circle cx="351.5" cy="804.99" r="1.95" fill="#3a78bb"/>
<circle cx="355.01" cy="808.64" r="1.95" fill="#3a78bb"/>
<circle cx="347.99" cy="810.47" r="1.95" fill="#3a78bb"/>
<circle cx="351.5" cy="810.47" r="1.95" fill="#3a78bb"/>
<circle cx="355.01" cy="812.29" r="1.95" fill="#3a78bb"/>
<circle cx="351.5" cy="814.12" r="1.95" fill="#3a78bb"/>
<circle cx="347.99" cy="814.12" r="1.95" fill="#3a78bb"/>
<circle cx="355.01" cy="815.95" r="1.95" fill="#3a78bb"/>
<circle cx="351.5" cy="815.95" r="1.95" fill="#3a78bb"/>
<circle cx="347.99" cy="817.77" r="1.95" fill="#3a78bb"/>
<circle cx="351.5" cy="817.77" r="1.95" fill="#3a78bb"/>
<rect x="344.95" y="812.29" width="13.1" height="7.31" fill="none" stroke="#3a78bb" stroke-width="1.15"/>
<line x1="351.5" y1="804.07" x2="351.5" y2="817.77" stroke="#3a78bb" stroke-width="1.15"/>
<line x1="347.3" y1="804.07" x2="355.7" y2="804.07" stroke="#3a78bb" stroke-width="1.15"/>
<line x1="347.3" y1="817.77" x2="355.7" y2="817.77" stroke="#3a78bb" stroke-width="1.15"/>
<rect x="372.55" y="722.56" width="4.1" height="4.1" fill="#e8402f"/>
<rect x="372.55" y="737.18" width="4.1" height="4.1" fill="#e8402f"/>
<rect x="372.55" y="768.23" width="4.1" height="4.1" fill="#e8402f"/>
<rect x="372.55" y="777.36" width="4.1" height="4.1" fill="#e8402f"/>
<rect x="376.06" y="779.19" width="4.1" height="4.1" fill="#e8402f"/>
<rect x="369.04" y="781.02" width="4.1" height="4.1" fill="#e8402f"/>
<rect x="372.55" y="781.02" width="4.1" height="4.1" fill="#e8402f"/>
<rect x="376.06" y="784.67" width="4.1" height="4.1" fill="#e8402f"/>
<rect x="372.55" y="790.15" width="4.1" height="4.1" fill="#e8402f"/>
<rect x="376.06" y="795.63" width="4.1" height="4.1" fill="#e8402f"/>
<rect x="369.04" y="797.46" width="4.1" height="4.1" fill="#e8402f"/>
<rect x="372.55" y="801.11" width="4.1" height="4.1" fill="#e8402f"/>
<rect x="376.06" y="804.76" width="4.1" height="4.1" fill="#e8402f"/>
<rect x="372.55" y="810.24" width="4.1" height="4.1" fill="#e8402f"/>
<rect x="367.95" y="784.89" width="13.3" height="34.71" fill="none" stroke="#e8402f" stroke-width="1.15"/>
<line x1="374.6" y1="759.32" x2="374.6" y2="808.64" stroke="#e8402f" stroke-width="1.15"/>
<line x1="370.4" y1="759.32" x2="378.8" y2="759.32" stroke="#e8402f" stroke-width="1.15"/>
<line x1="370.4" y1="808.64" x2="378.8" y2="808.64" stroke="#e8402f" stroke-width="1.15"/>
<line x1="287" y1="719" x2="311.4" y2="719" stroke="#111" stroke-width="1.85"/>
<line x1="287" y1="716.2" x2="287" y2="721.8" stroke="#111" stroke-width="1.85"/>
<line x1="311.4" y1="716.2" x2="311.4" y2="721.8" stroke="#111" stroke-width="1.85"/>
<text transform="translate(299.9,719.3) scale(1.05,1)" font-size="11" text-anchor="middle" fill="#111" stroke="#111" stroke-width="0.22">****</text>
<line x1="349" y1="719.4" x2="374" y2="719.4" stroke="#111" stroke-width="1.85"/>
<line x1="349" y1="716.6" x2="349" y2="722.2" stroke="#111" stroke-width="1.85"/>
<line x1="374" y1="716.6" x2="374" y2="722.2" stroke="#111" stroke-width="1.85"/>
<text transform="translate(362.2,719.7) scale(1.05,1)" font-size="11" text-anchor="middle" fill="#111" stroke="#111" stroke-width="0.22">****</text>
<line x1="489.6" y1="725.6" x2="489.6" y2="821" stroke="#1a1a1a" stroke-width="1.3"/>
<line x1="489" y1="820.4" x2="561" y2="820.4" stroke="#1a1a1a" stroke-width="1.3"/>
<line x1="486.6" y1="820.4" x2="489.6" y2="820.4" stroke="#1a1a1a" stroke-width="1.2"/>
<text transform="translate(486.2,823.6)" font-size="10.3" text-anchor="end" fill="#1a1a1a" stroke="#1a1a1a" stroke-width="0.22">0</text>
<line x1="486.6" y1="796.7" x2="489.6" y2="796.7" stroke="#1a1a1a" stroke-width="1.2"/>
<text transform="translate(486.2,799.9)" font-size="10.3" text-anchor="end" fill="#1a1a1a" stroke="#1a1a1a" stroke-width="0.22">5</text>
<line x1="486.6" y1="773" x2="489.6" y2="773" stroke="#1a1a1a" stroke-width="1.2"/>
<text transform="translate(486.2,776.2)" font-size="10.3" text-anchor="end" fill="#1a1a1a" stroke="#1a1a1a" stroke-width="0.22">10</text>
<line x1="486.6" y1="749.3" x2="489.6" y2="749.3" stroke="#1a1a1a" stroke-width="1.2"/>
<text transform="translate(486.2,752.5)" font-size="10.3" text-anchor="end" fill="#1a1a1a" stroke="#1a1a1a" stroke-width="0.22">15</text>
<line x1="486.6" y1="725.6" x2="489.6" y2="725.6" stroke="#1a1a1a" stroke-width="1.2"/>
<text transform="translate(486.2,728.8)" font-size="10.3" text-anchor="end" fill="#1a1a1a" stroke="#1a1a1a" stroke-width="0.22">20</text>
<text transform="translate(508.2,834.5) scale(1.02,1)" font-size="11" text-anchor="middle" fill="#1a1a1a" stroke="#1a1a1a" stroke-width="0.22">D0</text>
<text transform="translate(543.2,834.5) scale(1.02,1)" font-size="11" text-anchor="middle" fill="#1a1a1a" stroke="#1a1a1a" stroke-width="0.22">D5</text>
<text transform="translate(469,773) rotate(-90) scale(1.09,1)" font-size="10.8" text-anchor="middle" fill="#1a1a1a" stroke="#1a1a1a" stroke-width="0.22">CD95 (%)</text>
<line x1="507.4" y1="745.98" x2="542.4" y2="759.73" stroke="#3a78bb" stroke-width="1.15"/>
<line x1="507.4" y1="770.63" x2="542.4" y2="765.42" stroke="#3a78bb" stroke-width="1.15"/>
<line x1="507.4" y1="788.64" x2="542.4" y2="781.06" stroke="#3a78bb" stroke-width="1.15"/>
<line x1="507.4" y1="790.06" x2="542.4" y2="793.86" stroke="#3a78bb" stroke-width="1.15"/>
<line x1="507.4" y1="793.86" x2="542.4" y2="810.45" stroke="#3a78bb" stroke-width="1.15"/>
<line x1="507.4" y1="795.75" x2="542.4" y2="791.96" stroke="#3a78bb" stroke-width="1.15"/>
<line x1="507.4" y1="797.65" x2="542.4" y2="801.44" stroke="#3a78bb" stroke-width="1.15"/>
<line x1="507.4" y1="801.44" x2="542.4" y2="796.7" stroke="#3a78bb" stroke-width="1.15"/>
<line x1="507.4" y1="802.86" x2="542.4" y2="813.29" stroke="#3a78bb" stroke-width="1.15"/>
<line x1="507.4" y1="803.81" x2="542.4" y2="804.76" stroke="#3a78bb" stroke-width="1.15"/>
<line x1="507.4" y1="806.18" x2="542.4" y2="808.55" stroke="#3a78bb" stroke-width="1.15"/>
<line x1="507.4" y1="807.13" x2="542.4" y2="799.07" stroke="#3a78bb" stroke-width="1.15"/>
<line x1="507.4" y1="812.82" x2="542.4" y2="815.66" stroke="#3a78bb" stroke-width="1.15"/>
<line x1="507.4" y1="817.56" x2="542.4" y2="818.03" stroke="#3a78bb" stroke-width="1.15"/>
<circle cx="507.4" cy="745.98" r="2.45" fill="#3a78bb"/>
<circle cx="542.4" cy="759.73" r="2.45" fill="#3a78bb"/>
<circle cx="507.4" cy="770.63" r="2.45" fill="#3a78bb"/>
<circle cx="542.4" cy="765.42" r="2.45" fill="#3a78bb"/>
<circle cx="507.4" cy="788.64" r="2.45" fill="#3a78bb"/>
<circle cx="542.4" cy="781.06" r="2.45" fill="#3a78bb"/>
<circle cx="507.4" cy="790.06" r="2.45" fill="#3a78bb"/>
<circle cx="542.4" cy="793.86" r="2.45" fill="#3a78bb"/>
<circle cx="507.4" cy="793.86" r="2.45" fill="#3a78bb"/>
<circle cx="542.4" cy="810.45" r="2.45" fill="#3a78bb"/>
<circle cx="507.4" cy="795.75" r="2.45" fill="#3a78bb"/>
<circle cx="542.4" cy="791.96" r="2.45" fill="#3a78bb"/>
<circle cx="507.4" cy="797.65" r="2.45" fill="#3a78bb"/>
<circle cx="542.4" cy="801.44" r="2.45" fill="#3a78bb"/>
<circle cx="507.4" cy="801.44" r="2.45" fill="#3a78bb"/>
<circle cx="542.4" cy="796.7" r="2.45" fill="#3a78bb"/>
<circle cx="507.4" cy="802.86" r="2.45" fill="#3a78bb"/>
<circle cx="542.4" cy="813.29" r="2.45" fill="#3a78bb"/>
<circle cx="507.4" cy="803.81" r="2.45" fill="#3a78bb"/>
<circle cx="542.4" cy="804.76" r="2.45" fill="#3a78bb"/>
<circle cx="507.4" cy="806.18" r="2.45" fill="#3a78bb"/>
<circle cx="542.4" cy="808.55" r="2.45" fill="#3a78bb"/>
<circle cx="507.4" cy="807.13" r="2.45" fill="#3a78bb"/>
<circle cx="542.4" cy="799.07" r="2.45" fill="#3a78bb"/>
<circle cx="507.4" cy="812.82" r="2.45" fill="#3a78bb"/>
<circle cx="542.4" cy="815.66" r="2.45" fill="#3a78bb"/>
<circle cx="507.4" cy="817.56" r="2.45" fill="#3a78bb"/>
<circle cx="542.4" cy="818.03" r="2.45" fill="#3a78bb"/>
<line x1="507.4" y1="731.6" x2="542.4" y2="731.6" stroke="#111" stroke-width="1.85"/>
<line x1="507.4" y1="728.8" x2="507.4" y2="734.4" stroke="#111" stroke-width="1.85"/>
<line x1="542.4" y1="728.8" x2="542.4" y2="734.4" stroke="#111" stroke-width="1.85"/>
<text transform="translate(524.9,728.1)" font-size="10.5" text-anchor="middle" fill="#111" stroke="#111" stroke-width="0.22">ns</text>
<line x1="609" y1="724.4" x2="609" y2="820.2" stroke="#1a1a1a" stroke-width="1.3"/>
<line x1="608.4" y1="819.6" x2="680.4" y2="819.6" stroke="#1a1a1a" stroke-width="1.3"/>
<line x1="606" y1="819.6" x2="609" y2="819.6" stroke="#1a1a1a" stroke-width="1.2"/>
<text transform="translate(605.6,822.8) scale(1.04,1)" font-size="10.3" text-anchor="end" fill="#1a1a1a" stroke="#1a1a1a" stroke-width="0.22">0</text>
<line x1="606" y1="787.87" x2="609" y2="787.87" stroke="#1a1a1a" stroke-width="1.2"/>
<text transform="translate(605.6,791.07) scale(1.04,1)" font-size="10.3" text-anchor="end" fill="#1a1a1a" stroke="#1a1a1a" stroke-width="0.22">20</text>
<line x1="606" y1="756.13" x2="609" y2="756.13" stroke="#1a1a1a" stroke-width="1.2"/>
<text transform="translate(605.6,759.33) scale(1.04,1)" font-size="10.3" text-anchor="end" fill="#1a1a1a" stroke="#1a1a1a" stroke-width="0.22">40</text>
<line x1="606" y1="724.4" x2="609" y2="724.4" stroke="#1a1a1a" stroke-width="1.2"/>
<text transform="translate(605.6,727.6) scale(1.04,1)" font-size="10.3" text-anchor="end" fill="#1a1a1a" stroke="#1a1a1a" stroke-width="0.22">60</text>
<text transform="translate(628.2,834.5) scale(1.02,1)" font-size="11" text-anchor="middle" fill="#1a1a1a" stroke="#1a1a1a" stroke-width="0.22">D0</text>
<text transform="translate(663.2,834.5) scale(1.02,1)" font-size="11" text-anchor="middle" fill="#1a1a1a" stroke="#1a1a1a" stroke-width="0.22">D5</text>
<text transform="translate(589,773) rotate(-90) scale(1.09,1)" font-size="10.8" text-anchor="middle" fill="#1a1a1a" stroke="#1a1a1a" stroke-width="0.22">CD95 (%)</text>
<line x1="627.4" y1="738.68" x2="662.4" y2="749.79" stroke="#dc3c3c" stroke-width="1.15"/>
<line x1="627.4" y1="741.85" x2="662.4" y2="803.73" stroke="#dc3c3c" stroke-width="1.15"/>
<line x1="627.4" y1="759.31" x2="662.4" y2="776.76" stroke="#dc3c3c" stroke-width="1.15"/>
<line x1="627.4" y1="772" x2="662.4" y2="786.28" stroke="#dc3c3c" stroke-width="1.15"/>
<line x1="627.4" y1="773.59" x2="662.4" y2="784.69" stroke="#dc3c3c" stroke-width="1.15"/>
<line x1="627.4" y1="779.93" x2="662.4" y2="798.97" stroke="#dc3c3c" stroke-width="1.15"/>
<line x1="627.4" y1="781.52" x2="662.4" y2="800.56" stroke="#dc3c3c" stroke-width="1.15"/>
<line x1="627.4" y1="783.11" x2="662.4" y2="791.04" stroke="#dc3c3c" stroke-width="1.15"/>
<line x1="627.4" y1="784.69" x2="662.4" y2="737.09" stroke="#dc3c3c" stroke-width="1.15"/>
<line x1="627.4" y1="786.28" x2="662.4" y2="806.91" stroke="#dc3c3c" stroke-width="1.15"/>
<line x1="627.4" y1="787.87" x2="662.4" y2="810.08" stroke="#dc3c3c" stroke-width="1.15"/>
<line x1="627.4" y1="789.45" x2="662.4" y2="802.15" stroke="#dc3c3c" stroke-width="1.15"/>
<line x1="627.4" y1="791.04" x2="662.4" y2="813.25" stroke="#dc3c3c" stroke-width="1.15"/>
<line x1="627.4" y1="811.67" x2="662.4" y2="787.87" stroke="#dc3c3c" stroke-width="1.15"/>
<circle cx="627.4" cy="738.68" r="2.45" fill="#dc3c3c"/>
<circle cx="662.4" cy="749.79" r="2.45" fill="#dc3c3c"/>
<circle cx="627.4" cy="741.85" r="2.45" fill="#dc3c3c"/>
<circle cx="662.4" cy="803.73" r="2.45" fill="#dc3c3c"/>
<circle cx="627.4" cy="759.31" r="2.45" fill="#dc3c3c"/>
<circle cx="662.4" cy="776.76" r="2.45" fill="#dc3c3c"/>
<circle cx="627.4" cy="772" r="2.45" fill="#dc3c3c"/>
<circle cx="662.4" cy="786.28" r="2.45" fill="#dc3c3c"/>
<circle cx="627.4" cy="773.59" r="2.45" fill="#dc3c3c"/>
<circle cx="662.4" cy="784.69" r="2.45" fill="#dc3c3c"/>
<circle cx="627.4" cy="779.93" r="2.45" fill="#dc3c3c"/>
<circle cx="662.4" cy="798.97" r="2.45" fill="#dc3c3c"/>
<circle cx="627.4" cy="781.52" r="2.45" fill="#dc3c3c"/>
<circle cx="662.4" cy="800.56" r="2.45" fill="#dc3c3c"/>
<circle cx="627.4" cy="783.11" r="2.45" fill="#dc3c3c"/>
<circle cx="662.4" cy="791.04" r="2.45" fill="#dc3c3c"/>
<circle cx="627.4" cy="784.69" r="2.45" fill="#dc3c3c"/>
<circle cx="662.4" cy="737.09" r="2.45" fill="#dc3c3c"/>
<circle cx="627.4" cy="786.28" r="2.45" fill="#dc3c3c"/>
<circle cx="662.4" cy="806.91" r="2.45" fill="#dc3c3c"/>
<circle cx="627.4" cy="787.87" r="2.45" fill="#dc3c3c"/>
<circle cx="662.4" cy="810.08" r="2.45" fill="#dc3c3c"/>
<circle cx="627.4" cy="789.45" r="2.45" fill="#dc3c3c"/>
<circle cx="662.4" cy="802.15" r="2.45" fill="#dc3c3c"/>
<circle cx="627.4" cy="791.04" r="2.45" fill="#dc3c3c"/>
<circle cx="662.4" cy="813.25" r="2.45" fill="#dc3c3c"/>
<circle cx="627.4" cy="811.67" r="2.45" fill="#dc3c3c"/>
<circle cx="662.4" cy="787.87" r="2.45" fill="#dc3c3c"/>
<line x1="627.4" y1="728.4" x2="662.4" y2="728.4" stroke="#111" stroke-width="1.85"/>
<line x1="627.4" y1="725.6" x2="627.4" y2="731.2" stroke="#111" stroke-width="1.85"/>
<line x1="662.4" y1="725.6" x2="662.4" y2="731.2" stroke="#111" stroke-width="1.85"/>
<text transform="translate(645.6,728.7) scale(1.05,1)" font-size="11" text-anchor="middle" fill="#111" stroke="#111" stroke-width="0.22">*</text>
<polygon points="40.1,945 40.8,945 41.5,945 42.2,945 42.9,945 43.6,945 44.3,945 45,945 45.7,945 46.4,945 47.1,945 47.8,945 48.5,945 49.2,945 49.9,945 50.6,945 51.3,945 52,945 52.7,944.99 53.4,944.98 54.1,944.96 54.8,944.91 55.5,944.82 56.2,944.63 56.9,944.54 57.6,943.83 58.3,942.46 59,941.68 59.7,939.3 60.4,936.24 61.1,932.99 61.8,927.79 62.5,922.35 63.2,917.7 63.9,913.14 64.6,909.48 65.3,906.18 66,903.94 66.7,903.94 67.4,907.84 68.1,912.2 68.8,916.09 69.5,919.65 70.2,920.06 70.9,919.77 71.6,918.05 72.3,920.34 73,923.35 73.7,927.49 74.4,932.7 75.1,937.35 75.8,941 76.5,942.92 77.2,944.36 77.9,944.69 78.6,944.9 79.3,944.97 80,944.98 80.7,944.97 81.4,944.92 82.1,944.79 82.8,944.55 83.5,944.3 84.2,943.43 84.9,943.09 85.6,942.82 86.3,943.18 87,942.84 87.7,943.77 88.4,944.12 89.1,944.5 89.8,944.76 90.5,944.9 91.2,944.97 91.9,944.99 92.6,945 93.3,945 94,945 94.7,945 95.4,945 96.1,945 96.8,945 97.5,945 98.2,945 98.9,945 99.6,945 100.3,945 101,945 101.7,945 102.4,945 103.1,945 103.8,945 104.5,945 105.2,945 105.9,945 106.6,945 107.3,945 108,945 108.7,945 109.4,945 110.1,945 110.8,945 111.5,945 112.2,945 112.9,945 113.1,945 40.1,945" fill="#999999" stroke="none"/>
<polyline points="40.1,921.4 40.8,921.4 41.5,921.4 42.2,921.4 42.9,921.4 43.6,921.4 44.3,921.4 45,921.4 45.7,921.4 46.4,921.4 47.1,921.4 47.8,921.4 48.5,921.4 49.2,921.4 49.9,921.4 50.6,921.39 51.3,921.39 52,921.38 52.7,921.37 53.4,921.34 54.1,921.3 54.8,921.23 55.5,921.13 56.2,920.97 56.9,921.12 57.6,920.23 58.3,919.88 59,919.2 59.7,918.39 60.4,916.86 61.1,915.94 61.8,914.03 62.5,910.55 63.2,908.49 63.9,905.92 64.6,901.66 65.3,897.69 66,895.59 66.7,891.9 67.4,889.29 68.1,886.97 68.8,883.95 69.5,881.25 70.2,883.4 70.9,884.35 71.6,887.2 72.3,888.94 73,892.44 73.7,896.38 74.4,902.44 75.1,905.95 75.8,908.66 76.5,912.67 77.2,914.73 77.9,916.96 78.6,917.9 79.3,919.08 80,920.55 80.7,920.69 81.4,920.97 82.1,921.15 82.8,921.27 83.5,921.33 84.2,921.36 84.9,921.38 85.6,921.39 86.3,921.4 87,921.4 87.7,921.4 88.4,921.4 89.1,921.4 89.8,921.4 90.5,921.4 91.2,921.4 91.9,921.4 92.6,921.4 93.3,921.4 94,921.4 94.7,921.4 95.4,921.4 96.1,921.4 96.8,921.4 97.5,921.4 98.2,921.4 98.9,921.4 99.6,921.4 100.3,921.4 101,921.4 101.7,921.4 102.4,921.4 103.1,921.4 103.8,921.4 104.5,921.4 105.2,921.4 105.9,921.4 106.6,921.4 107.3,921.4 108,921.4 108.7,921.4 109.4,921.4 110.1,921.4 110.8,921.4 111.5,921.4 112.2,921.4 112.9,921.4" fill="none" stroke="#111" stroke-width="1.3" stroke-linejoin="round"/>
<polyline points="40.1,897.2 40.8,897.2 41.5,897.2 42.2,897.2 42.9,897.2 43.6,897.2 44.3,897.2 45,897.2 45.7,897.2 46.4,897.2 47.1,897.2 47.8,897.2 48.5,897.2 49.2,897.2 49.9,897.2 50.6,897.2 51.3,897.2 52,897.2 52.7,897.2 53.4,897.19 54.1,897.19 54.8,897.18 55.5,897.15 56.2,897.11 56.9,897.04 57.6,896.92 58.3,896.72 59,896.44 59.7,895.65 60.4,895.6 61.1,894.33 61.8,893.14 62.5,890.47 63.2,888.08 63.9,885.04 64.6,881.91 65.3,878.99 66,875.18 66.7,870.59 67.4,865.17 68.1,862.23 68.8,859.27 69.5,858.02 70.2,857.27 70.9,859.08 71.6,860.87 72.3,866.16 73,871.51 73.7,874.25 74.4,874.07 75.1,874.92 75.8,875.3 76.5,875.47 77.2,877.56 77.9,882.37 78.6,884.39 79.3,887.45 80,890.52 80.7,892.15 81.4,892.94 82.1,893.41 82.8,894.33 83.5,893.61 84.2,894.04 84.9,895.01 85.6,895.43 86.3,895.6 87,895.62 87.7,895.6 88.4,895.45 89.1,894.54 89.8,894.74 90.5,895.05 91.2,895.3 91.9,895.64 92.6,896.63 93.3,896.97 94,897.12 94.7,897.18 95.4,897.2 96.1,897.2 96.8,897.2 97.5,897.2 98.2,897.2 98.9,897.2 99.6,897.2 100.3,897.2 101,897.2 101.7,897.2 102.4,897.2 103.1,897.2 103.8,897.2 104.5,897.2 105.2,897.2 105.9,897.2 106.6,897.2 107.3,897.2 108,897.2 108.7,897.2 109.4,897.2 110.1,897.2 110.8,897.2 111.5,897.2 112.2,897.2 112.9,897.2" fill="none" stroke="#d8353a" stroke-width="1.2" stroke-linejoin="round"/>
<rect x="39.6" y="848" width="74" height="97" fill="none" stroke="#8a8a8a" stroke-width="0.9"/>
<line x1="41.6" y1="945" x2="41.6" y2="946.6" stroke="#666" stroke-width="0.6"/>
<line x1="46.6" y1="945" x2="46.6" y2="946.6" stroke="#666" stroke-width="0.6"/>
<line x1="51.6" y1="945" x2="51.6" y2="946.6" stroke="#666" stroke-width="0.6"/>
<line x1="56.6" y1="945" x2="56.6" y2="946.6" stroke="#666" stroke-width="0.6"/>
<line x1="61.6" y1="945" x2="61.6" y2="946.6" stroke="#666" stroke-width="0.6"/>
<line x1="66.6" y1="945" x2="66.6" y2="946.6" stroke="#666" stroke-width="0.6"/>
<line x1="71.6" y1="945" x2="71.6" y2="946.6" stroke="#666" stroke-width="0.6"/>
<line x1="76.6" y1="945" x2="76.6" y2="946.6" stroke="#666" stroke-width="0.6"/>
<line x1="81.6" y1="945" x2="81.6" y2="946.6" stroke="#666" stroke-width="0.6"/>
<line x1="86.6" y1="945" x2="86.6" y2="946.6" stroke="#666" stroke-width="0.6"/>
<line x1="91.6" y1="945" x2="91.6" y2="946.6" stroke="#666" stroke-width="0.6"/>
<line x1="96.6" y1="945" x2="96.6" y2="946.6" stroke="#666" stroke-width="0.6"/>
<line x1="101.6" y1="945" x2="101.6" y2="946.6" stroke="#666" stroke-width="0.6"/>
<line x1="106.6" y1="945" x2="106.6" y2="946.6" stroke="#666" stroke-width="0.6"/>
<line x1="111.6" y1="945" x2="111.6" y2="946.6" stroke="#666" stroke-width="0.6"/>
<polygon points="120.9,945.4 121.6,945.4 122.3,945.4 123,945.4 123.7,945.4 124.4,945.4 125.1,945.4 125.8,945.4 126.5,945.4 127.2,945.4 127.9,945.4 128.6,945.4 129.3,945.4 130,945.4 130.7,945.4 131.4,945.4 132.1,945.4 132.8,945.4 133.5,945.4 134.2,945.39 134.9,945.39 135.6,945.37 136.3,945.33 137,945.26 137.7,945.12 138.4,944.86 139.1,944.71 139.8,943.72 140.5,942.48 141.2,941.38 141.9,938.71 142.6,935.67 143.3,931.88 144,927.68 144.7,923.38 145.4,920.9 146.1,917.84 146.8,914.21 147.5,913.77 148.2,914.97 148.9,915.11 149.6,919.86 150.3,921.7 151,922.81 151.7,923.23 152.4,923.57 153.1,925.29 153.8,928.15 154.5,931.94 155.2,935.1 155.9,939.09 156.6,941.5 157.3,943.41 158,944.7 158.7,945.09 159.4,945.29 160.1,945.36 160.8,945.36 161.5,945.3 162.2,945.16 162.9,944.9 163.6,944.44 164.3,943.76 165,943.77 165.7,943.08 166.4,943 167.1,943.9 167.8,944.24 168.5,944.28 169.2,944.95 169.9,945.19 170.6,945.32 171.3,945.37 172,945.39 172.7,945.4 173.4,945.4 174.1,945.4 174.8,945.4 175.5,945.4 176.2,945.4 176.9,945.4 177.6,945.4 178.3,945.4 179,945.4 179.7,945.4 180.4,945.4 181.1,945.4 181.8,945.4 182.5,945.4 183.2,945.4 183.9,945.4 184.6,945.4 185.3,945.4 186,945.4 186.7,945.4 187.4,945.4 188.1,945.4 188.8,945.4 189.5,945.4 190.2,945.4 190.9,945.4 191.6,945.4 192.3,945.4 193,945.4 193.1,945.4 120.9,945.4" fill="#999999" stroke="none"/>
<polyline points="120.9,921.4 121.6,921.4 122.3,921.4 123,921.4 123.7,921.4 124.4,921.4 125.1,921.4 125.8,921.4 126.5,921.4 127.2,921.4 127.9,921.4 128.6,921.4 129.3,921.4 130,921.4 130.7,921.4 131.4,921.4 132.1,921.4 132.8,921.4 133.5,921.4 134.2,921.4 134.9,921.4 135.6,921.39 136.3,921.38 137,921.37 137.7,921.34 138.4,921.28 139.1,921.19 139.8,921.04 140.5,920.51 141.2,920.83 141.9,919.99 142.6,919.17 143.3,917.83 144,916.43 144.7,914.38 145.4,911.28 146.1,907.76 146.8,905.75 147.5,901.01 148.2,897.49 148.9,894.06 149.6,890.86 150.3,887.88 151,884.06 151.7,881.97 152.4,882.21 153.1,884.47 153.8,888.36 154.5,894.15 155.2,898.21 155.9,903.59 156.6,908.36 157.3,912.05 158,914.22 158.7,917.11 159.4,918.84 160.1,919.6 160.8,920.35 161.5,920.94 162.2,921.16 162.9,921.29 163.6,921.35 164.3,921.38 165,921.39 165.7,921.4 166.4,921.4 167.1,921.4 167.8,921.4 168.5,921.4 169.2,921.4 169.9,921.4 170.6,921.4 171.3,921.4 172,921.4 172.7,921.4 173.4,921.4 174.1,921.4 174.8,921.4 175.5,921.4 176.2,921.4 176.9,921.4 177.6,921.4 178.3,921.4 179,921.4 179.7,921.4 180.4,921.4 181.1,921.4 181.8,921.4 182.5,921.4 183.2,921.4 183.9,921.4 184.6,921.4 185.3,921.4 186,921.4 186.7,921.4 187.4,921.4 188.1,921.4 188.8,921.4 189.5,921.4 190.2,921.4 190.9,921.4 191.6,921.4 192.3,921.4 193,921.4" fill="none" stroke="#111" stroke-width="1.3" stroke-linejoin="round"/>
<polyline points="120.9,897.2 121.6,897.2 122.3,897.2 123,897.2 123.7,897.2 124.4,897.2 125.1,897.2 125.8,897.2 126.5,897.2 127.2,897.2 127.9,897.2 128.6,897.2 129.3,897.2 130,897.2 130.7,897.2 131.4,897.2 132.1,897.2 132.8,897.2 133.5,897.2 134.2,897.2 134.9,897.19 135.6,897.18 136.3,897.14 137,897.05 137.7,896.83 138.4,896.34 139.1,895.89 139.8,894.23 140.5,892.49 141.2,890.47 141.9,888.1 142.6,886.38 143.3,883.88 144,882.33 144.7,882.1 145.4,880.38 146.1,876.45 146.8,873.47 147.5,868.78 148.2,864.6 148.9,866.79 149.6,868.32 150.3,870.12 151,867.89 151.7,866.42 152.4,866.54 153.1,867.52 153.8,871.55 154.5,875.47 155.2,880.29 155.9,883.47 156.6,885.26 157.3,885.33 158,887.31 158.7,888.58 159.4,889.79 160.1,891.68 160.8,893.27 161.5,894.27 162.2,895.41 162.9,896.67 163.6,896.65 164.3,896.62 165,896.34 165.7,895.49 166.4,895.34 167.1,895.55 167.8,895.53 168.5,896.37 169.2,896.35 169.9,896.89 170.6,897.09 171.3,897.17 172,897.19 172.7,897.2 173.4,897.2 174.1,897.2 174.8,897.2 175.5,897.2 176.2,897.2 176.9,897.2 177.6,897.2 178.3,897.2 179,897.2 179.7,897.2 180.4,897.2 181.1,897.2 181.8,897.2 182.5,897.2 183.2,897.2 183.9,897.2 184.6,897.2 185.3,897.2 186,897.2 186.7,897.2 187.4,897.2 188.1,897.2 188.8,897.2 189.5,897.2 190.2,897.2 190.9,897.2 191.6,897.2 192.3,897.2 193,897.2" fill="none" stroke="#d8353a" stroke-width="1.2" stroke-linejoin="round"/>
<rect x="120.4" y="848" width="73.2" height="97.4" fill="none" stroke="#8a8a8a" stroke-width="0.9"/>
<line x1="122.4" y1="945.4" x2="122.4" y2="947" stroke="#666" stroke-width="0.6"/>
<line x1="127.34" y1="945.4" x2="127.34" y2="947" stroke="#666" stroke-width="0.6"/>
<line x1="132.29" y1="945.4" x2="132.29" y2="947" stroke="#666" stroke-width="0.6"/>
<line x1="137.23" y1="945.4" x2="137.23" y2="947" stroke="#666" stroke-width="0.6"/>
<line x1="142.17" y1="945.4" x2="142.17" y2="947" stroke="#666" stroke-width="0.6"/>
<line x1="147.11" y1="945.4" x2="147.11" y2="947" stroke="#666" stroke-width="0.6"/>
<line x1="152.06" y1="945.4" x2="152.06" y2="947" stroke="#666" stroke-width="0.6"/>
<line x1="157" y1="945.4" x2="157" y2="947" stroke="#666" stroke-width="0.6"/>
<line x1="161.94" y1="945.4" x2="161.94" y2="947" stroke="#666" stroke-width="0.6"/>
<line x1="166.89" y1="945.4" x2="166.89" y2="947" stroke="#666" stroke-width="0.6"/>
<line x1="171.83" y1="945.4" x2="171.83" y2="947" stroke="#666" stroke-width="0.6"/>
<line x1="176.77" y1="945.4" x2="176.77" y2="947" stroke="#666" stroke-width="0.6"/>
<line x1="181.71" y1="945.4" x2="181.71" y2="947" stroke="#666" stroke-width="0.6"/>
<line x1="186.66" y1="945.4" x2="186.66" y2="947" stroke="#666" stroke-width="0.6"/>
<line x1="191.6" y1="945.4" x2="191.6" y2="947" stroke="#666" stroke-width="0.6"/>
<text transform="translate(78.4,860.6)" font-size="11.5" text-anchor="start" fill="#111" stroke="#111" stroke-width="0.1">PD-1<tspan font-size="6" dy="-3.8">-</tspan><tspan dy="3.8"></tspan></text>
<text transform="translate(78.4,872.6)" font-size="11.5" text-anchor="start" fill="#d8353a" stroke="#d8353a" stroke-width="0.1">PD-1<tspan font-size="6" dy="-3.8">+</tspan><tspan dy="3.8"></tspan></text>
<text transform="translate(77,937)" font-size="11.6" text-anchor="start" fill="#a3a3a3" stroke="#a3a3a3" stroke-width="0.1">Isotype</text>
<text transform="translate(61,954.5)" font-size="7.2" text-anchor="middle" fill="#222" stroke="#222" stroke-width="0.22">0</text>
<line x1="61" y1="945" x2="61" y2="947.6" stroke="#555" stroke-width="0.7"/>
<text transform="translate(101,954.5)" font-size="6.6" text-anchor="middle" fill="#222" stroke="#222" stroke-width="0.22">10<tspan font-size="3.8" dy="-2.6">3</tspan></text>
<line x1="100.5" y1="945" x2="100.5" y2="947.6" stroke="#555" stroke-width="0.7"/>
<rect x="57.5" y="945.3" width="5" height="2" fill="#111" stroke="none" stroke-width="1"/>
<rect x="138.5" y="945.7" width="5" height="2" fill="#111" stroke="none" stroke-width="1"/>
<text transform="translate(42.4,966)" font-size="11.8" text-anchor="start" fill="#111" stroke="#111" stroke-width="0.1">CD69</text>
<line x1="71" y1="962.5" x2="185" y2="962.5" stroke="#111" stroke-width="1.1"/>
<polygon points="190,962.5 184,960.2 184,964.8" fill="#111"/>
<text transform="translate(18.9,890) rotate(-90)" font-size="11.5" text-anchor="middle" fill="#222" stroke="#222" stroke-width="0.08">Events</text>
<text transform="translate(30.8,888) rotate(-90)" font-size="11.5" text-anchor="middle" fill="#222" stroke="#222" stroke-width="0.08">(normalized)</text>
<text transform="translate(2.2,846.5)" font-size="11.5" text-anchor="start" fill="#111" font-weight="bold">g</text>
<line x1="270" y1="847" x2="270" y2="957.2" stroke="#1a1a1a" stroke-width="1.3"/>
<line x1="269.4" y1="956.6" x2="393.6" y2="956.6" stroke="#1a1a1a" stroke-width="1.3"/>
<line x1="266.5" y1="956.6" x2="270" y2="956.6" stroke="#1a1a1a" stroke-width="1.2"/>
<text transform="translate(266.1,959.8) scale(1.1,1)" font-size="10.3" text-anchor="end" fill="#1a1a1a" stroke="#1a1a1a" stroke-width="0.22">0</text>
<line x1="266.5" y1="929.2" x2="270" y2="929.2" stroke="#1a1a1a" stroke-width="1.2"/>
<text transform="translate(266.1,932.4) scale(1.1,1)" font-size="10.3" text-anchor="end" fill="#1a1a1a" stroke="#1a1a1a" stroke-width="0.22">50</text>
<line x1="266.5" y1="901.8" x2="270" y2="901.8" stroke="#1a1a1a" stroke-width="1.2"/>
<text transform="translate(266.1,905) scale(1.1,1)" font-size="10.3" text-anchor="end" fill="#1a1a1a" stroke="#1a1a1a" stroke-width="0.22">100</text>
<line x1="266.5" y1="874.4" x2="270" y2="874.4" stroke="#1a1a1a" stroke-width="1.2"/>
<text transform="translate(266.1,877.6) scale(1.1,1)" font-size="10.3" text-anchor="end" fill="#1a1a1a" stroke="#1a1a1a" stroke-width="0.22">150</text>
<line x1="266.5" y1="847" x2="270" y2="847" stroke="#1a1a1a" stroke-width="1.2"/>
<text transform="translate(266.1,850.2) scale(1.1,1)" font-size="10.3" text-anchor="end" fill="#1a1a1a" stroke="#1a1a1a" stroke-width="0.22">200</text>
<line x1="301" y1="956.6" x2="301" y2="960.1" stroke="#1a1a1a" stroke-width="1.2"/>
<line x1="362.8" y1="956.6" x2="362.8" y2="960.1" stroke="#1a1a1a" stroke-width="1.2"/>
<text transform="translate(302,971) scale(1.02,1)" font-size="11" text-anchor="middle" fill="#1a1a1a" stroke="#1a1a1a" stroke-width="0.22">D0</text>
<text transform="translate(363.6,971) scale(1.02,1)" font-size="11" text-anchor="middle" fill="#1a1a1a" stroke="#1a1a1a" stroke-width="0.22">D5</text>
<text transform="translate(247,916.5) rotate(-90) scale(1.03,1)" font-size="10.8" text-anchor="middle" fill="#1a1a1a" stroke="#1a1a1a" stroke-width="0.22">CD69 (MFI)</text>
<circle cx="289.8" cy="896.32" r="1.95" fill="#3a78bb"/>
<circle cx="293.31" cy="899.06" r="1.95" fill="#3a78bb"/>
<circle cx="289.8" cy="906.18" r="1.95" fill="#3a78bb"/>
<circle cx="293.31" cy="907.28" r="1.95" fill="#3a78bb"/>
<circle cx="286.29" cy="907.28" r="1.95" fill="#3a78bb"/>
<circle cx="289.8" cy="908.38" r="1.95" fill="#3a78bb"/>
<circle cx="293.31" cy="910.02" r="1.95" fill="#3a78bb"/>
<circle cx="286.29" cy="912.76" r="1.95" fill="#3a78bb"/>
<circle cx="289.8" cy="915.5" r="1.95" fill="#3a78bb"/>
<circle cx="293.31" cy="918.24" r="1.95" fill="#3a78bb"/>
<circle cx="286.29" cy="920.98" r="1.95" fill="#3a78bb"/>
<circle cx="289.8" cy="923.72" r="1.95" fill="#3a78bb"/>
<circle cx="293.31" cy="926.46" r="1.95" fill="#3a78bb"/>
<circle cx="286.29" cy="929.2" r="1.95" fill="#3a78bb"/>
<circle cx="289.8" cy="930.3" r="1.95" fill="#3a78bb"/>
<circle cx="293.31" cy="934.68" r="1.95" fill="#3a78bb"/>
<circle cx="289.8" cy="937.42" r="1.95" fill="#3a78bb"/>
<circle cx="286.29" cy="939.06" r="1.95" fill="#3a78bb"/>
<circle cx="293.31" cy="940.16" r="1.95" fill="#3a78bb"/>
<circle cx="289.8" cy="941.26" r="1.95" fill="#3a78bb"/>
<circle cx="286.29" cy="942.9" r="1.95" fill="#3a78bb"/>
<rect x="283.35" y="922.62" width="12.9" height="33.98" fill="none" stroke="#3a78bb" stroke-width="1.15"/>
<line x1="289.8" y1="907.28" x2="289.8" y2="936.87" stroke="#3a78bb" stroke-width="1.15"/>
<line x1="285.6" y1="907.28" x2="294" y2="907.28" stroke="#3a78bb" stroke-width="1.15"/>
<line x1="285.6" y1="936.87" x2="294" y2="936.87" stroke="#3a78bb" stroke-width="1.15"/>
<rect x="310.65" y="864.13" width="4.1" height="4.1" fill="#e8402f"/>
<rect x="310.65" y="872.35" width="4.1" height="4.1" fill="#e8402f"/>
<rect x="314.17" y="877.83" width="4.1" height="4.1" fill="#e8402f"/>
<rect x="310.65" y="883.31" width="4.1" height="4.1" fill="#e8402f"/>
<rect x="310.65" y="897.01" width="4.1" height="4.1" fill="#e8402f"/>
<rect x="314.17" y="899.75" width="4.1" height="4.1" fill="#e8402f"/>
<rect x="307.14" y="900.85" width="4.1" height="4.1" fill="#e8402f"/>
<rect x="310.65" y="902.49" width="4.1" height="4.1" fill="#e8402f"/>
<rect x="314.17" y="902.49" width="4.1" height="4.1" fill="#e8402f"/>
<rect x="307.14" y="904.13" width="4.1" height="4.1" fill="#e8402f"/>
<rect x="310.65" y="905.23" width="4.1" height="4.1" fill="#e8402f"/>
<rect x="314.17" y="907.97" width="4.1" height="4.1" fill="#e8402f"/>
<rect x="307.14" y="910.71" width="4.1" height="4.1" fill="#e8402f"/>
<rect x="310.65" y="916.19" width="4.1" height="4.1" fill="#e8402f"/>
<rect x="314.17" y="918.93" width="4.1" height="4.1" fill="#e8402f"/>
<rect x="307.14" y="920.57" width="4.1" height="4.1" fill="#e8402f"/>
<rect x="310.65" y="921.67" width="4.1" height="4.1" fill="#e8402f"/>
<rect x="314.17" y="924.41" width="4.1" height="4.1" fill="#e8402f"/>
<rect x="307.14" y="927.15" width="4.1" height="4.1" fill="#e8402f"/>
<rect x="310.65" y="943.59" width="4.1" height="4.1" fill="#e8402f"/>
<rect x="306.15" y="905.09" width="13.1" height="51.51" fill="none" stroke="#e8402f" stroke-width="1.15"/>
<line x1="312.7" y1="885.36" x2="312.7" y2="922.62" stroke="#e8402f" stroke-width="1.15"/>
<line x1="308.5" y1="885.36" x2="316.9" y2="885.36" stroke="#e8402f" stroke-width="1.15"/>
<line x1="308.5" y1="922.62" x2="316.9" y2="922.62" stroke="#e8402f" stroke-width="1.15"/>
<circle cx="351.5" cy="906.18" r="1.95" fill="#3a78bb"/>
<circle cx="355.01" cy="907.28" r="1.95" fill="#3a78bb"/>
<circle cx="347.99" cy="907.28" r="1.95" fill="#3a78bb"/>
<circle cx="351.5" cy="908.38" r="1.95" fill="#3a78bb"/>
<circle cx="355.01" cy="911.66" r="1.95" fill="#3a78bb"/>
<circle cx="347.99" cy="912.76" r="1.95" fill="#3a78bb"/>
<circle cx="351.5" cy="913.86" r="1.95" fill="#3a78bb"/>
<circle cx="355.01" cy="915.5" r="1.95" fill="#3a78bb"/>
<circle cx="347.99" cy="918.24" r="1.95" fill="#3a78bb"/>
<circle cx="351.5" cy="920.98" r="1.95" fill="#3a78bb"/>
<circle cx="355.01" cy="924.82" r="1.95" fill="#3a78bb"/>
<circle cx="347.99" cy="926.46" r="1.95" fill="#3a78bb"/>
<circle cx="351.5" cy="929.2" r="1.95" fill="#3a78bb"/>
<circle cx="355.01" cy="930.3" r="1.95" fill="#3a78bb"/>
<circle cx="347.99" cy="931.94" r="1.95" fill="#3a78bb"/>
<circle cx="351.5" cy="934.68" r="1.95" fill="#3a78bb"/>
<circle cx="355.01" cy="937.42" r="1.95" fill="#3a78bb"/>
<circle cx="347.99" cy="940.16" r="1.95" fill="#3a78bb"/>
<circle cx="351.5" cy="942.9" r="1.95" fill="#3a78bb"/>
<circle cx="355.01" cy="944.54" r="1.95" fill="#3a78bb"/>
<rect x="344.95" y="926.46" width="13.1" height="30.14" fill="none" stroke="#3a78bb" stroke-width="1.15"/>
<line x1="351.5" y1="912.76" x2="351.5" y2="941.26" stroke="#3a78bb" stroke-width="1.15"/>
<line x1="347.3" y1="912.76" x2="355.7" y2="912.76" stroke="#3a78bb" stroke-width="1.15"/>
<line x1="347.3" y1="941.26" x2="355.7" y2="941.26" stroke="#3a78bb" stroke-width="1.15"/>
<rect x="372.55" y="885.5" width="4.1" height="4.1" fill="#e8402f"/>
<rect x="372.55" y="897.01" width="4.1" height="4.1" fill="#e8402f"/>
<rect x="376.06" y="899.75" width="4.1" height="4.1" fill="#e8402f"/>
<rect x="369.04" y="900.85" width="4.1" height="4.1" fill="#e8402f"/>
<rect x="372.55" y="902.49" width="4.1" height="4.1" fill="#e8402f"/>
<rect x="376.06" y="904.13" width="4.1" height="4.1" fill="#e8402f"/>
<rect x="369.04" y="905.23" width="4.1" height="4.1" fill="#e8402f"/>
<rect x="372.55" y="906.33" width="4.1" height="4.1" fill="#e8402f"/>
<rect x="376.06" y="907.97" width="4.1" height="4.1" fill="#e8402f"/>
<rect x="369.04" y="910.71" width="4.1" height="4.1" fill="#e8402f"/>
<rect x="372.55" y="911.81" width="4.1" height="4.1" fill="#e8402f"/>
<rect x="376.06" y="913.45" width="4.1" height="4.1" fill="#e8402f"/>
<rect x="369.04" y="916.19" width="4.1" height="4.1" fill="#e8402f"/>
<rect x="372.55" y="920.57" width="4.1" height="4.1" fill="#e8402f"/>
<rect x="376.06" y="921.67" width="4.1" height="4.1" fill="#e8402f"/>
<rect x="369.04" y="924.41" width="4.1" height="4.1" fill="#e8402f"/>
<rect x="372.55" y="927.15" width="4.1" height="4.1" fill="#e8402f"/>
<rect x="376.06" y="929.89" width="4.1" height="4.1" fill="#e8402f"/>
<rect x="372.55" y="943.59" width="4.1" height="4.1" fill="#e8402f"/>
<rect x="367.95" y="915.5" width="13.3" height="41.1" fill="none" stroke="#e8402f" stroke-width="1.15"/>
<line x1="374.6" y1="902.9" x2="374.6" y2="929.2" stroke="#e8402f" stroke-width="1.15"/>
<line x1="370.4" y1="902.9" x2="378.8" y2="902.9" stroke="#e8402f" stroke-width="1.15"/>
<line x1="370.4" y1="929.2" x2="378.8" y2="929.2" stroke="#e8402f" stroke-width="1.15"/>
<line x1="287" y1="859.6" x2="311.4" y2="859.6" stroke="#111" stroke-width="1.85"/>
<line x1="287" y1="856.8" x2="287" y2="862.4" stroke="#111" stroke-width="1.85"/>
<line x1="311.4" y1="856.8" x2="311.4" y2="862.4" stroke="#111" stroke-width="1.85"/>
<text transform="translate(299.9,859.9) scale(1.05,1)" font-size="11" text-anchor="middle" fill="#111" stroke="#111" stroke-width="0.22">****</text>
<line x1="349.4" y1="860" x2="374" y2="860" stroke="#111" stroke-width="1.85"/>
<line x1="349.4" y1="857.2" x2="349.4" y2="862.8" stroke="#111" stroke-width="1.85"/>
<line x1="374" y1="857.2" x2="374" y2="862.8" stroke="#111" stroke-width="1.85"/>
<text transform="translate(362.4,860.3) scale(1.05,1)" font-size="11" text-anchor="middle" fill="#111" stroke="#111" stroke-width="0.22">****</text>
<line x1="495.6" y1="857" x2="495.6" y2="956.6" stroke="#1a1a1a" stroke-width="1.3"/>
<line x1="495" y1="956" x2="566.4" y2="956" stroke="#1a1a1a" stroke-width="1.3"/>
<line x1="492.6" y1="956" x2="495.6" y2="956" stroke="#1a1a1a" stroke-width="1.2"/>
<text transform="translate(492.2,959.2) scale(1.04,1)" font-size="10.3" text-anchor="end" fill="#1a1a1a" stroke="#1a1a1a" stroke-width="0.22">0</text>
<line x1="492.6" y1="923" x2="495.6" y2="923" stroke="#1a1a1a" stroke-width="1.2"/>
<text transform="translate(492.2,926.2) scale(1.04,1)" font-size="10.3" text-anchor="end" fill="#1a1a1a" stroke="#1a1a1a" stroke-width="0.22">50</text>
<line x1="492.6" y1="890" x2="495.6" y2="890" stroke="#1a1a1a" stroke-width="1.2"/>
<text transform="translate(492.2,893.2) scale(1.04,1)" font-size="10.3" text-anchor="end" fill="#1a1a1a" stroke="#1a1a1a" stroke-width="0.22">100</text>
<line x1="492.6" y1="857" x2="495.6" y2="857" stroke="#1a1a1a" stroke-width="1.2"/>
<text transform="translate(492.2,860.2) scale(1.04,1)" font-size="10.3" text-anchor="end" fill="#1a1a1a" stroke="#1a1a1a" stroke-width="0.22">150</text>
<text transform="translate(514.2,968.5) scale(1.02,1)" font-size="11" text-anchor="middle" fill="#1a1a1a" stroke="#1a1a1a" stroke-width="0.22">D0</text>
<text transform="translate(549.8,968.5) scale(1.02,1)" font-size="11" text-anchor="middle" fill="#1a1a1a" stroke="#1a1a1a" stroke-width="0.22">D5</text>
<text transform="translate(470,912.3) rotate(-90) scale(1.06,1)" font-size="12" text-anchor="middle" fill="#1a1a1a" stroke="#1a1a1a" stroke-width="0.22">CD69 (MFI)</text>
<line x1="513.4" y1="883.4" x2="549" y2="901.88" stroke="#3a78bb" stroke-width="1.15"/>
<line x1="513.4" y1="886.7" x2="549" y2="934.88" stroke="#3a78bb" stroke-width="1.15"/>
<line x1="513.4" y1="895.28" x2="549" y2="903.2" stroke="#3a78bb" stroke-width="1.15"/>
<line x1="513.4" y1="896.6" x2="549" y2="895.28" stroke="#3a78bb" stroke-width="1.15"/>
<line x1="513.4" y1="896.6" x2="549" y2="921.68" stroke="#3a78bb" stroke-width="1.15"/>
<line x1="513.4" y1="897.92" x2="549" y2="924.32" stroke="#3a78bb" stroke-width="1.15"/>
<line x1="513.4" y1="899.9" x2="549" y2="899.9" stroke="#3a78bb" stroke-width="1.15"/>
<line x1="513.4" y1="903.2" x2="549" y2="896.6" stroke="#3a78bb" stroke-width="1.15"/>
<line x1="513.4" y1="906.5" x2="549" y2="936.2" stroke="#3a78bb" stroke-width="1.15"/>
<line x1="513.4" y1="909.8" x2="549" y2="909.8" stroke="#3a78bb" stroke-width="1.15"/>
<line x1="513.4" y1="913.1" x2="549" y2="919.7" stroke="#3a78bb" stroke-width="1.15"/>
<line x1="513.4" y1="916.4" x2="549" y2="906.5" stroke="#3a78bb" stroke-width="1.15"/>
<line x1="513.4" y1="919.7" x2="549" y2="908.48" stroke="#3a78bb" stroke-width="1.15"/>
<line x1="513.4" y1="923" x2="549" y2="923" stroke="#3a78bb" stroke-width="1.15"/>
<line x1="513.4" y1="924.32" x2="549" y2="897.92" stroke="#3a78bb" stroke-width="1.15"/>
<line x1="513.4" y1="932.9" x2="549" y2="904.52" stroke="#3a78bb" stroke-width="1.15"/>
<line x1="513.4" y1="934.88" x2="549" y2="940.82" stroke="#3a78bb" stroke-width="1.15"/>
<line x1="513.4" y1="936.2" x2="549" y2="941.48" stroke="#3a78bb" stroke-width="1.15"/>
<line x1="513.4" y1="937.52" x2="549" y2="939.5" stroke="#3a78bb" stroke-width="1.15"/>
<line x1="513.4" y1="939.5" x2="549" y2="926.3" stroke="#3a78bb" stroke-width="1.15"/>
<circle cx="513.4" cy="883.4" r="2.45" fill="#3a78bb"/>
<circle cx="549" cy="901.88" r="2.45" fill="#3a78bb"/>
<circle cx="513.4" cy="886.7" r="2.45" fill="#3a78bb"/>
<circle cx="549" cy="934.88" r="2.45" fill="#3a78bb"/>
<circle cx="513.4" cy="895.28" r="2.45" fill="#3a78bb"/>
<circle cx="549" cy="903.2" r="2.45" fill="#3a78bb"/>
<circle cx="513.4" cy="896.6" r="2.45" fill="#3a78bb"/>
<circle cx="549" cy="895.28" r="2.45" fill="#3a78bb"/>
<circle cx="513.4" cy="896.6" r="2.45" fill="#3a78bb"/>
<circle cx="549" cy="921.68" r="2.45" fill="#3a78bb"/>
<circle cx="513.4" cy="897.92" r="2.45" fill="#3a78bb"/>
<circle cx="549" cy="924.32" r="2.45" fill="#3a78bb"/>
<circle cx="513.4" cy="899.9" r="2.45" fill="#3a78bb"/>
<circle cx="549" cy="899.9" r="2.45" fill="#3a78bb"/>
<circle cx="513.4" cy="903.2" r="2.45" fill="#3a78bb"/>
<circle cx="549" cy="896.6" r="2.45" fill="#3a78bb"/>
<circle cx="513.4" cy="906.5" r="2.45" fill="#3a78bb"/>
<circle cx="549" cy="936.2" r="2.45" fill="#3a78bb"/>
<circle cx="513.4" cy="909.8" r="2.45" fill="#3a78bb"/>
<circle cx="549" cy="909.8" r="2.45" fill="#3a78bb"/>
<circle cx="513.4" cy="913.1" r="2.45" fill="#3a78bb"/>
<circle cx="549" cy="919.7" r="2.45" fill="#3a78bb"/>
<circle cx="513.4" cy="916.4" r="2.45" fill="#3a78bb"/>
<circle cx="549" cy="906.5" r="2.45" fill="#3a78bb"/>
<circle cx="513.4" cy="919.7" r="2.45" fill="#3a78bb"/>
<circle cx="549" cy="908.48" r="2.45" fill="#3a78bb"/>
<circle cx="513.4" cy="923" r="2.45" fill="#3a78bb"/>
<circle cx="549" cy="923" r="2.45" fill="#3a78bb"/>
<circle cx="513.4" cy="924.32" r="2.45" fill="#3a78bb"/>
<circle cx="549" cy="897.92" r="2.45" fill="#3a78bb"/>
<circle cx="513.4" cy="932.9" r="2.45" fill="#3a78bb"/>
<circle cx="549" cy="904.52" r="2.45" fill="#3a78bb"/>
<circle cx="513.4" cy="934.88" r="2.45" fill="#3a78bb"/>
<circle cx="549" cy="940.82" r="2.45" fill="#3a78bb"/>
<circle cx="513.4" cy="936.2" r="2.45" fill="#3a78bb"/>
<circle cx="549" cy="941.48" r="2.45" fill="#3a78bb"/>
<circle cx="513.4" cy="937.52" r="2.45" fill="#3a78bb"/>
<circle cx="549" cy="939.5" r="2.45" fill="#3a78bb"/>
<circle cx="513.4" cy="939.5" r="2.45" fill="#3a78bb"/>
<circle cx="549" cy="926.3" r="2.45" fill="#3a78bb"/>
<line x1="513.4" y1="862.6" x2="549" y2="862.6" stroke="#111" stroke-width="1.85"/>
<line x1="513.4" y1="859.8" x2="513.4" y2="865.4" stroke="#111" stroke-width="1.85"/>
<line x1="549" y1="859.8" x2="549" y2="865.4" stroke="#111" stroke-width="1.85"/>
<text transform="translate(531.2,859.1)" font-size="10.5" text-anchor="middle" fill="#111" stroke="#111" stroke-width="0.22">ns</text>
<line x1="610.4" y1="857" x2="610.4" y2="956.6" stroke="#1a1a1a" stroke-width="1.3"/>
<line x1="609.8" y1="956" x2="681" y2="956" stroke="#1a1a1a" stroke-width="1.3"/>
<line x1="607.4" y1="956" x2="610.4" y2="956" stroke="#1a1a1a" stroke-width="1.2"/>
<text transform="translate(607,959.2) scale(0.97,1)" font-size="10.3" text-anchor="end" fill="#1a1a1a" stroke="#1a1a1a" stroke-width="0.22">0</text>
<line x1="607.4" y1="931.25" x2="610.4" y2="931.25" stroke="#1a1a1a" stroke-width="1.2"/>
<text transform="translate(607,934.45) scale(0.97,1)" font-size="10.3" text-anchor="end" fill="#1a1a1a" stroke="#1a1a1a" stroke-width="0.22">50</text>
<line x1="607.4" y1="906.5" x2="610.4" y2="906.5" stroke="#1a1a1a" stroke-width="1.2"/>
<text transform="translate(607,909.7) scale(0.97,1)" font-size="10.3" text-anchor="end" fill="#1a1a1a" stroke="#1a1a1a" stroke-width="0.22">100</text>
<line x1="607.4" y1="881.75" x2="610.4" y2="881.75" stroke="#1a1a1a" stroke-width="1.2"/>
<text transform="translate(607,884.95) scale(0.97,1)" font-size="10.3" text-anchor="end" fill="#1a1a1a" stroke="#1a1a1a" stroke-width="0.22">150</text>
<line x1="607.4" y1="857" x2="610.4" y2="857" stroke="#1a1a1a" stroke-width="1.2"/>
<text transform="translate(607,860.2) scale(0.97,1)" font-size="10.3" text-anchor="end" fill="#1a1a1a" stroke="#1a1a1a" stroke-width="0.22">200</text>
<text transform="translate(629.2,968.5) scale(1.02,1)" font-size="11" text-anchor="middle" fill="#1a1a1a" stroke="#1a1a1a" stroke-width="0.22">D0</text>
<text transform="translate(664.2,968.5) scale(1.02,1)" font-size="11" text-anchor="middle" fill="#1a1a1a" stroke="#1a1a1a" stroke-width="0.22">D5</text>
<text transform="translate(584.7,912.3) rotate(-90) scale(1.06,1)" font-size="12" text-anchor="middle" fill="#1a1a1a" stroke="#1a1a1a" stroke-width="0.22">CD69 (MFI)</text>
<line x1="628.4" y1="874.33" x2="663.4" y2="906.5" stroke="#dc3c3c" stroke-width="1.15"/>
<line x1="628.4" y1="882.74" x2="663.4" y2="908.98" stroke="#dc3c3c" stroke-width="1.15"/>
<line x1="628.4" y1="885.22" x2="663.4" y2="911.45" stroke="#dc3c3c" stroke-width="1.15"/>
<line x1="628.4" y1="889.17" x2="663.4" y2="912.44" stroke="#dc3c3c" stroke-width="1.15"/>
<line x1="628.4" y1="897.59" x2="663.4" y2="921.35" stroke="#dc3c3c" stroke-width="1.15"/>
<line x1="628.4" y1="904.02" x2="663.4" y2="904.02" stroke="#dc3c3c" stroke-width="1.15"/>
<line x1="628.4" y1="906.5" x2="663.4" y2="913.92" stroke="#dc3c3c" stroke-width="1.15"/>
<line x1="628.4" y1="907.49" x2="663.4" y2="916.4" stroke="#dc3c3c" stroke-width="1.15"/>
<line x1="628.4" y1="908.98" x2="663.4" y2="918.88" stroke="#dc3c3c" stroke-width="1.15"/>
<line x1="628.4" y1="911.45" x2="663.4" y2="931.25" stroke="#dc3c3c" stroke-width="1.15"/>
<line x1="628.4" y1="912.44" x2="663.4" y2="893.63" stroke="#dc3c3c" stroke-width="1.15"/>
<line x1="628.4" y1="917.39" x2="663.4" y2="922.34" stroke="#dc3c3c" stroke-width="1.15"/>
<line x1="628.4" y1="922.34" x2="663.4" y2="928.77" stroke="#dc3c3c" stroke-width="1.15"/>
<line x1="628.4" y1="923.83" x2="663.4" y2="932.24" stroke="#dc3c3c" stroke-width="1.15"/>
<line x1="628.4" y1="925.31" x2="663.4" y2="933.73" stroke="#dc3c3c" stroke-width="1.15"/>
<line x1="628.4" y1="932.24" x2="663.4" y2="945.11" stroke="#dc3c3c" stroke-width="1.15"/>
<line x1="628.4" y1="946.1" x2="663.4" y2="932.74" stroke="#dc3c3c" stroke-width="1.15"/>
<circle cx="628.4" cy="874.33" r="2.45" fill="#dc3c3c"/>
<circle cx="663.4" cy="906.5" r="2.45" fill="#dc3c3c"/>
<circle cx="628.4" cy="882.74" r="2.45" fill="#dc3c3c"/>
<circle cx="663.4" cy="908.98" r="2.45" fill="#dc3c3c"/>
<circle cx="628.4" cy="885.22" r="2.45" fill="#dc3c3c"/>
<circle cx="663.4" cy="911.45" r="2.45" fill="#dc3c3c"/>
<circle cx="628.4" cy="889.17" r="2.45" fill="#dc3c3c"/>
<circle cx="663.4" cy="912.44" r="2.45" fill="#dc3c3c"/>
<circle cx="628.4" cy="897.59" r="2.45" fill="#dc3c3c"/>
<circle cx="663.4" cy="921.35" r="2.45" fill="#dc3c3c"/>
<circle cx="628.4" cy="904.02" r="2.45" fill="#dc3c3c"/>
<circle cx="663.4" cy="904.02" r="2.45" fill="#dc3c3c"/>
<circle cx="628.4" cy="906.5" r="2.45" fill="#dc3c3c"/>
<circle cx="663.4" cy="913.92" r="2.45" fill="#dc3c3c"/>
<circle cx="628.4" cy="907.49" r="2.45" fill="#dc3c3c"/>
<circle cx="663.4" cy="916.4" r="2.45" fill="#dc3c3c"/>
<circle cx="628.4" cy="908.98" r="2.45" fill="#dc3c3c"/>
<circle cx="663.4" cy="918.88" r="2.45" fill="#dc3c3c"/>
<circle cx="628.4" cy="911.45" r="2.45" fill="#dc3c3c"/>
<circle cx="663.4" cy="931.25" r="2.45" fill="#dc3c3c"/>
<circle cx="628.4" cy="912.44" r="2.45" fill="#dc3c3c"/>
<circle cx="663.4" cy="893.63" r="2.45" fill="#dc3c3c"/>
<circle cx="628.4" cy="917.39" r="2.45" fill="#dc3c3c"/>
<circle cx="663.4" cy="922.34" r="2.45" fill="#dc3c3c"/>
<circle cx="628.4" cy="922.34" r="2.45" fill="#dc3c3c"/>
<circle cx="663.4" cy="928.77" r="2.45" fill="#dc3c3c"/>
<circle cx="628.4" cy="923.83" r="2.45" fill="#dc3c3c"/>
<circle cx="663.4" cy="932.24" r="2.45" fill="#dc3c3c"/>
<circle cx="628.4" cy="925.31" r="2.45" fill="#dc3c3c"/>
<circle cx="663.4" cy="933.73" r="2.45" fill="#dc3c3c"/>
<circle cx="628.4" cy="932.24" r="2.45" fill="#dc3c3c"/>
<circle cx="663.4" cy="945.11" r="2.45" fill="#dc3c3c"/>
<circle cx="628.4" cy="946.1" r="2.45" fill="#dc3c3c"/>
<circle cx="663.4" cy="932.74" r="2.45" fill="#dc3c3c"/>
<line x1="628.4" y1="861" x2="663.4" y2="861" stroke="#111" stroke-width="1.85"/>
<line x1="628.4" y1="858.2" x2="628.4" y2="863.8" stroke="#111" stroke-width="1.85"/>
<line x1="663.4" y1="858.2" x2="663.4" y2="863.8" stroke="#111" stroke-width="1.85"/>
<text transform="translate(646.6,861.3) scale(1.05,1)" font-size="11" text-anchor="middle" fill="#111" stroke="#111" stroke-width="0.22">*</text>
<polygon points="39.9,1080.59 40.6,1080.58 41.3,1080.55 42,1080.48 42.7,1080.34 43.4,1080.07 44.1,1079.52 44.8,1078.95 45.5,1077.24 46.2,1074.53 46.9,1071.39 47.6,1067.56 48.3,1061.97 49,1056.24 49.7,1048.28 50.4,1041.6 51.1,1035.71 51.8,1032.29 52.5,1031.52 53.2,1034.75 53.9,1038.77 54.6,1043.82 55.3,1048.33 56,1055.9 56.7,1060.34 57.4,1066.66 58.1,1071.1 58.8,1074.58 59.5,1076.93 60.2,1077.97 60.9,1079.05 61.6,1080.09 62.3,1080.2 63,1080.4 63.7,1080.51 64.4,1080.56 65.1,1080.58 65.8,1080.59 66.5,1080.6 67.2,1080.6 67.9,1080.6 68.6,1080.6 69.3,1080.6 70,1080.6 70.7,1080.6 71.4,1080.6 72.1,1080.6 72.8,1080.6 73.5,1080.6 74.2,1080.6 74.9,1080.6 75.6,1080.6 76.3,1080.6 77,1080.6 77.7,1080.6 78.4,1080.6 79.1,1080.6 79.8,1080.6 80.5,1080.6 81.2,1080.6 81.9,1080.6 82.6,1080.6 83.3,1080.6 84,1080.6 84.7,1080.6 85.4,1080.6 86.1,1080.6 86.8,1080.6 87.5,1080.6 88.2,1080.6 88.9,1080.6 89.6,1080.6 90.3,1080.6 91,1080.6 91.7,1080.6 92.4,1080.6 93.1,1080.6 93.8,1080.6 94.5,1080.6 95.2,1080.6 95.9,1080.6 96.6,1080.6 97.3,1080.6 98,1080.6 98.7,1080.6 99.4,1080.6 100.1,1080.6 100.8,1080.6 101.5,1080.6 102.2,1080.6 102.9,1080.6 103.6,1080.6 104.3,1080.6 105,1080.6 105.7,1080.6 106.4,1080.6 107.1,1080.6 107.8,1080.6 108.5,1080.6 109.2,1080.6 109.9,1080.6 110.6,1080.6 110.9,1080.6 39.9,1080.6" fill="#999999" stroke="none"/>
<polyline points="39.9,1056.4 40.6,1056.4 41.3,1056.4 42,1056.4 42.7,1056.4 43.4,1056.4 44.1,1056.4 44.8,1056.4 45.5,1056.39 46.2,1056.39 46.9,1056.37 47.6,1056.34 48.3,1056.27 49,1056.16 49.7,1055.95 50.4,1055.69 51.1,1055.27 51.8,1053.92 52.5,1052.69 53.2,1051.1 53.9,1049.14 54.6,1046.16 55.3,1041.28 56,1036.48 56.7,1030.9 57.4,1027.35 58.1,1022.04 58.8,1017.9 59.5,1015.14 60.2,1013.97 60.9,1013.1 61.6,1013.74 62.3,1018.11 63,1019.9 63.7,1026.42 64.4,1031.17 65.1,1036.29 65.8,1040.23 66.5,1044.43 67.2,1048.07 67.9,1050.65 68.6,1051.8 69.3,1052.44 70,1053.28 70.7,1054.14 71.4,1053.27 72.1,1054.22 72.8,1053.75 73.5,1053.39 74.2,1054.43 74.9,1054.5 75.6,1053.93 76.3,1054.75 77,1055.04 77.7,1054.76 78.4,1055.42 79.1,1055.41 79.8,1055.81 80.5,1055.97 81.2,1056.09 81.9,1056.19 82.6,1056.26 83.3,1056.31 84,1056.34 84.7,1056.37 85.4,1056.38 86.1,1056.39 86.8,1056.39 87.5,1056.4 88.2,1056.4 88.9,1056.4 89.6,1056.4 90.3,1056.4 91,1056.4 91.7,1056.4 92.4,1056.4 93.1,1056.4 93.8,1056.4 94.5,1056.4 95.2,1056.4 95.9,1056.4 96.6,1056.4 97.3,1056.4 98,1056.4 98.7,1056.4 99.4,1056.4 100.1,1056.4 100.8,1056.4 101.5,1056.4 102.2,1056.4 102.9,1056.4 103.6,1056.4 104.3,1056.4 105,1056.4 105.7,1056.4 106.4,1056.4 107.1,1056.4 107.8,1056.4 108.5,1056.4 109.2,1056.4 109.9,1056.4 110.6,1056.4" fill="none" stroke="#111" stroke-width="1.3" stroke-linejoin="round"/>
<polyline points="39.9,1031.4 40.6,1031.4 41.3,1031.4 42,1031.4 42.7,1031.4 43.4,1031.4 44.1,1031.4 44.8,1031.4 45.5,1031.4 46.2,1031.4 46.9,1031.4 47.6,1031.4 48.3,1031.4 49,1031.4 49.7,1031.4 50.4,1031.39 51.1,1031.35 51.8,1031.26 52.5,1031.05 53.2,1030.52 53.9,1029.96 54.6,1028.82 55.3,1027.06 56,1024.78 56.7,1023.32 57.4,1022.81 58.1,1020.12 58.8,1015.84 59.5,1008.54 60.2,998.85 60.9,998.3 61.6,1001.29 62.3,1011.62 63,1017.65 63.7,1020.83 64.4,1019.99 65.1,1018.39 65.8,1015.81 66.5,1012.3 67.2,1009.65 67.9,1008.61 68.6,1008.33 69.3,1008.98 70,1008.71 70.7,1010.06 71.4,1011.48 72.1,1014.11 72.8,1015.92 73.5,1016.98 74.2,1018.7 74.9,1019.57 75.6,1020.07 76.3,1020.34 77,1022.73 77.7,1023.94 78.4,1025.16 79.1,1025.9 79.8,1027.7 80.5,1028.88 81.2,1029.57 81.9,1029.94 82.6,1030.4 83.3,1031.06 84,1031.22 84.7,1031.31 85.4,1031.36 86.1,1031.38 86.8,1031.39 87.5,1031.4 88.2,1031.4 88.9,1031.4 89.6,1031.4 90.3,1031.4 91,1031.4 91.7,1031.4 92.4,1031.4 93.1,1031.4 93.8,1031.4 94.5,1031.4 95.2,1031.4 95.9,1031.4 96.6,1031.4 97.3,1031.4 98,1031.4 98.7,1031.4 99.4,1031.4 100.1,1031.4 100.8,1031.4 101.5,1031.4 102.2,1031.4 102.9,1031.4 103.6,1031.4 104.3,1031.4 105,1031.4 105.7,1031.4 106.4,1031.4 107.1,1031.4 107.8,1031.4 108.5,1031.4 109.2,1031.4 109.9,1031.4 110.6,1031.4" fill="none" stroke="#d8353a" stroke-width="1.2" stroke-linejoin="round"/>
<rect x="39.4" y="981" width="72" height="99.6" fill="none" stroke="#8a8a8a" stroke-width="0.9"/>
<line x1="41.4" y1="1080.6" x2="41.4" y2="1082.2" stroke="#666" stroke-width="0.6"/>
<line x1="46.26" y1="1080.6" x2="46.26" y2="1082.2" stroke="#666" stroke-width="0.6"/>
<line x1="51.11" y1="1080.6" x2="51.11" y2="1082.2" stroke="#666" stroke-width="0.6"/>
<line x1="55.97" y1="1080.6" x2="55.97" y2="1082.2" stroke="#666" stroke-width="0.6"/>
<line x1="60.83" y1="1080.6" x2="60.83" y2="1082.2" stroke="#666" stroke-width="0.6"/>
<line x1="65.69" y1="1080.6" x2="65.69" y2="1082.2" stroke="#666" stroke-width="0.6"/>
<line x1="70.54" y1="1080.6" x2="70.54" y2="1082.2" stroke="#666" stroke-width="0.6"/>
<line x1="75.4" y1="1080.6" x2="75.4" y2="1082.2" stroke="#666" stroke-width="0.6"/>
<line x1="80.26" y1="1080.6" x2="80.26" y2="1082.2" stroke="#666" stroke-width="0.6"/>
<line x1="85.11" y1="1080.6" x2="85.11" y2="1082.2" stroke="#666" stroke-width="0.6"/>
<line x1="89.97" y1="1080.6" x2="89.97" y2="1082.2" stroke="#666" stroke-width="0.6"/>
<line x1="94.83" y1="1080.6" x2="94.83" y2="1082.2" stroke="#666" stroke-width="0.6"/>
<line x1="99.69" y1="1080.6" x2="99.69" y2="1082.2" stroke="#666" stroke-width="0.6"/>
<line x1="104.54" y1="1080.6" x2="104.54" y2="1082.2" stroke="#666" stroke-width="0.6"/>
<line x1="109.4" y1="1080.6" x2="109.4" y2="1082.2" stroke="#666" stroke-width="0.6"/>
<polygon points="119.1,1080.58 119.8,1080.55 120.5,1080.5 121.2,1080.37 121.9,1080.12 122.6,1079.61 123.3,1078.55 124,1077.11 124.7,1075.29 125.4,1071.83 126.1,1067.31 126.8,1063.11 127.5,1056.34 128.2,1049.09 128.9,1042.82 129.6,1037.01 130.3,1034.37 131,1034.2 131.7,1033.4 132.4,1037.27 133.1,1043.26 133.8,1047.15 134.5,1054.36 135.2,1059.45 135.9,1065.08 136.6,1069.63 137.3,1073.58 138,1076.41 138.7,1077.91 139.4,1079 140.1,1079.98 140.8,1080.16 141.5,1080.38 142.2,1080.5 142.9,1080.55 143.6,1080.58 144.3,1080.59 145,1080.6 145.7,1080.6 146.4,1080.6 147.1,1080.6 147.8,1080.6 148.5,1080.6 149.2,1080.6 149.9,1080.6 150.6,1080.6 151.3,1080.6 152,1080.6 152.7,1080.6 153.4,1080.6 154.1,1080.6 154.8,1080.6 155.5,1080.6 156.2,1080.6 156.9,1080.6 157.6,1080.6 158.3,1080.6 159,1080.6 159.7,1080.6 160.4,1080.6 161.1,1080.6 161.8,1080.6 162.5,1080.6 163.2,1080.6 163.9,1080.6 164.6,1080.6 165.3,1080.6 166,1080.6 166.7,1080.6 167.4,1080.6 168.1,1080.6 168.8,1080.6 169.5,1080.6 170.2,1080.6 170.9,1080.6 171.6,1080.6 172.3,1080.6 173,1080.6 173.7,1080.6 174.4,1080.6 175.1,1080.6 175.8,1080.6 176.5,1080.6 177.2,1080.6 177.9,1080.6 178.6,1080.6 179.3,1080.6 180,1080.6 180.7,1080.6 181.4,1080.6 182.1,1080.6 182.8,1080.6 183.5,1080.6 184.2,1080.6 184.9,1080.6 185.6,1080.6 186.3,1080.6 187,1080.6 187.7,1080.6 188.4,1080.6 189.1,1080.6 189.8,1080.6 190.1,1080.6 119.1,1080.6" fill="#999999" stroke="none"/>
<polyline points="119.1,1056.4 119.8,1056.4 120.5,1056.4 121.2,1056.4 121.9,1056.4 122.6,1056.4 123.3,1056.4 124,1056.4 124.7,1056.39 125.4,1056.38 126.1,1056.36 126.8,1056.31 127.5,1056.22 128.2,1056.04 128.9,1055.64 129.6,1055.2 130.3,1054.54 131,1053.08 131.7,1051.74 132.4,1048.42 133.1,1045.76 133.8,1041 134.5,1035.9 135.2,1032.16 135.9,1025.05 136.6,1022.64 137.3,1017.25 138,1013.73 138.7,1015.79 139.4,1014.37 140.1,1019.37 140.8,1025.45 141.5,1029.41 142.2,1035.93 142.9,1040.62 143.6,1043.64 144.3,1046.27 145,1048.15 145.7,1049.03 146.4,1050.15 147.1,1050.94 147.8,1050.93 148.5,1051.63 149.2,1052.61 149.9,1052.57 150.6,1052.61 151.3,1053.26 152,1053.6 152.7,1053.8 153.4,1054.11 154.1,1053.91 154.8,1054.13 155.5,1054.53 156.2,1055.38 156.9,1055.4 157.6,1055.49 158.3,1055.87 159,1056.06 159.7,1056.19 160.4,1056.28 161.1,1056.33 161.8,1056.37 162.5,1056.38 163.2,1056.39 163.9,1056.4 164.6,1056.4 165.3,1056.4 166,1056.4 166.7,1056.4 167.4,1056.4 168.1,1056.4 168.8,1056.4 169.5,1056.4 170.2,1056.4 170.9,1056.4 171.6,1056.4 172.3,1056.4 173,1056.4 173.7,1056.4 174.4,1056.4 175.1,1056.4 175.8,1056.4 176.5,1056.4 177.2,1056.4 177.9,1056.4 178.6,1056.4 179.3,1056.4 180,1056.4 180.7,1056.4 181.4,1056.4 182.1,1056.4 182.8,1056.4 183.5,1056.4 184.2,1056.4 184.9,1056.4 185.6,1056.4 186.3,1056.4 187,1056.4 187.7,1056.4 188.4,1056.4 189.1,1056.4 189.8,1056.4" fill="none" stroke="#111" stroke-width="1.3" stroke-linejoin="round"/>
<polyline points="119.1,1031.4 119.8,1031.4 120.5,1031.4 121.2,1031.4 121.9,1031.4 122.6,1031.4 123.3,1031.4 124,1031.4 124.7,1031.4 125.4,1031.4 126.1,1031.4 126.8,1031.4 127.5,1031.39 128.2,1031.37 128.9,1031.33 129.6,1031.24 130.3,1031.08 131,1030.79 131.7,1030.53 132.4,1029.29 133.1,1028.33 133.8,1027.25 134.5,1026.36 135.2,1024.38 135.9,1023.54 136.6,1022.36 137.3,1019.87 138,1016.16 138.7,1011.11 139.4,1003.1 140.1,998.62 140.8,999.55 141.5,1004.05 142.2,1012.73 142.9,1020.83 143.6,1026.01 144.3,1029.35 145,1029.68 145.7,1029.24 146.4,1027.56 147.1,1024.36 147.8,1019.54 148.5,1015.08 149.2,1010.79 149.9,1010.43 150.6,1010.31 151.3,1012.82 152,1014.49 152.7,1015.72 153.4,1017.04 154.1,1019.01 154.8,1019.18 155.5,1021.4 156.2,1022.08 156.9,1023.69 157.6,1025.23 158.3,1027.11 159,1028.3 159.7,1029.25 160.4,1030.55 161.1,1030.89 161.8,1031.15 162.5,1031.29 163.2,1031.35 163.9,1031.38 164.6,1031.39 165.3,1031.4 166,1031.4 166.7,1031.4 167.4,1031.4 168.1,1031.4 168.8,1031.4 169.5,1031.4 170.2,1031.4 170.9,1031.4 171.6,1031.4 172.3,1031.4 173,1031.4 173.7,1031.4 174.4,1031.4 175.1,1031.4 175.8,1031.4 176.5,1031.4 177.2,1031.4 177.9,1031.4 178.6,1031.4 179.3,1031.4 180,1031.4 180.7,1031.4 181.4,1031.4 182.1,1031.4 182.8,1031.4 183.5,1031.4 184.2,1031.4 184.9,1031.4 185.6,1031.4 186.3,1031.4 187,1031.4 187.7,1031.4 188.4,1031.4 189.1,1031.4 189.8,1031.4" fill="none" stroke="#d8353a" stroke-width="1.2" stroke-linejoin="round"/>
<rect x="118.6" y="981.6" width="72" height="99" fill="none" stroke="#8a8a8a" stroke-width="0.9"/>
<line x1="120.6" y1="1080.6" x2="120.6" y2="1082.2" stroke="#666" stroke-width="0.6"/>
<line x1="125.46" y1="1080.6" x2="125.46" y2="1082.2" stroke="#666" stroke-width="0.6"/>
<line x1="130.31" y1="1080.6" x2="130.31" y2="1082.2" stroke="#666" stroke-width="0.6"/>
<line x1="135.17" y1="1080.6" x2="135.17" y2="1082.2" stroke="#666" stroke-width="0.6"/>
<line x1="140.03" y1="1080.6" x2="140.03" y2="1082.2" stroke="#666" stroke-width="0.6"/>
<line x1="144.89" y1="1080.6" x2="144.89" y2="1082.2" stroke="#666" stroke-width="0.6"/>
<line x1="149.74" y1="1080.6" x2="149.74" y2="1082.2" stroke="#666" stroke-width="0.6"/>
<line x1="154.6" y1="1080.6" x2="154.6" y2="1082.2" stroke="#666" stroke-width="0.6"/>
<line x1="159.46" y1="1080.6" x2="159.46" y2="1082.2" stroke="#666" stroke-width="0.6"/>
<line x1="164.31" y1="1080.6" x2="164.31" y2="1082.2" stroke="#666" stroke-width="0.6"/>
<line x1="169.17" y1="1080.6" x2="169.17" y2="1082.2" stroke="#666" stroke-width="0.6"/>
<line x1="174.03" y1="1080.6" x2="174.03" y2="1082.2" stroke="#666" stroke-width="0.6"/>
<line x1="178.89" y1="1080.6" x2="178.89" y2="1082.2" stroke="#666" stroke-width="0.6"/>
<line x1="183.74" y1="1080.6" x2="183.74" y2="1082.2" stroke="#666" stroke-width="0.6"/>
<line x1="188.6" y1="1080.6" x2="188.6" y2="1082.2" stroke="#666" stroke-width="0.6"/>
<text transform="translate(77,993.4)" font-size="11.5" text-anchor="start" fill="#111" stroke="#111" stroke-width="0.1">PD-1<tspan font-size="6" dy="-3.8">-</tspan><tspan dy="3.8"></tspan></text>
<text transform="translate(77,1005)" font-size="11.5" text-anchor="start" fill="#d8353a" stroke="#d8353a" stroke-width="0.1">PD-1<tspan font-size="6" dy="-3.8">+</tspan><tspan dy="3.8"></tspan></text>
<text transform="translate(75.6,1069)" font-size="11.6" text-anchor="start" fill="#a3a3a3" stroke="#a3a3a3" stroke-width="0.1">Isotype</text>
<text transform="translate(56,1089.5)" font-size="7.2" text-anchor="middle" fill="#222" stroke="#222" stroke-width="0.22">0</text>
<line x1="56" y1="1080.6" x2="56" y2="1083.2" stroke="#555" stroke-width="0.7"/>
<text transform="translate(91,1089.5)" font-size="6.6" text-anchor="middle" fill="#222" stroke="#222" stroke-width="0.22">10<tspan font-size="3.8" dy="-2.6">3</tspan></text>
<line x1="90.5" y1="1080.6" x2="90.5" y2="1083.2" stroke="#555" stroke-width="0.7"/>
<text transform="translate(108,1089.5)" font-size="6.6" text-anchor="middle" fill="#222" stroke="#222" stroke-width="0.22">10<tspan font-size="3.8" dy="-2.6">4</tspan></text>
<line x1="107.5" y1="1080.6" x2="107.5" y2="1083.2" stroke="#555" stroke-width="0.7"/>
<rect x="51.5" y="1080.9" width="5" height="2" fill="#111" stroke="none" stroke-width="1"/>
<rect x="131.5" y="1080.9" width="5" height="2" fill="#111" stroke="none" stroke-width="1"/>
<text transform="translate(37.6,1100.6)" font-size="11.8" text-anchor="start" fill="#111" stroke="#111" stroke-width="0.1">CD49d</text>
<line x1="75" y1="1097.2" x2="180" y2="1097.2" stroke="#111" stroke-width="1.1"/>
<polygon points="185,1097.2 179,1094.9 179,1099.5" fill="#111"/>
<text transform="translate(18.9,1024) rotate(-90)" font-size="11.5" text-anchor="middle" fill="#222" stroke="#222" stroke-width="0.08">Events</text>
<text transform="translate(30.8,1022) rotate(-90)" font-size="11.5" text-anchor="middle" fill="#222" stroke="#222" stroke-width="0.08">(normalized)</text>
<text transform="translate(2.2,980.5)" font-size="11.5" text-anchor="start" fill="#111" font-weight="bold">h</text>
<line x1="270" y1="977.4" x2="270" y2="1087.6" stroke="#1a1a1a" stroke-width="1.3"/>
<line x1="269.4" y1="1087" x2="393.6" y2="1087" stroke="#1a1a1a" stroke-width="1.3"/>
<line x1="266.5" y1="1087" x2="270" y2="1087" stroke="#1a1a1a" stroke-width="1.2"/>
<text transform="translate(266.1,1090.2) scale(1.1,1)" font-size="10.3" text-anchor="end" fill="#1a1a1a" stroke="#1a1a1a" stroke-width="0.22">0</text>
<line x1="266.5" y1="1059.6" x2="270" y2="1059.6" stroke="#1a1a1a" stroke-width="1.2"/>
<text transform="translate(266.1,1062.8) scale(1.1,1)" font-size="10.3" text-anchor="end" fill="#1a1a1a" stroke="#1a1a1a" stroke-width="0.22">20</text>
<line x1="266.5" y1="1032.2" x2="270" y2="1032.2" stroke="#1a1a1a" stroke-width="1.2"/>
<text transform="translate(266.1,1035.4) scale(1.1,1)" font-size="10.3" text-anchor="end" fill="#1a1a1a" stroke="#1a1a1a" stroke-width="0.22">40</text>
<line x1="266.5" y1="1004.8" x2="270" y2="1004.8" stroke="#1a1a1a" stroke-width="1.2"/>
<text transform="translate(266.1,1008) scale(1.1,1)" font-size="10.3" text-anchor="end" fill="#1a1a1a" stroke="#1a1a1a" stroke-width="0.22">60</text>
<line x1="266.5" y1="977.4" x2="270" y2="977.4" stroke="#1a1a1a" stroke-width="1.2"/>
<text transform="translate(266.1,980.6) scale(1.1,1)" font-size="10.3" text-anchor="end" fill="#1a1a1a" stroke="#1a1a1a" stroke-width="0.22">80</text>
<line x1="301" y1="1087" x2="301" y2="1090.5" stroke="#1a1a1a" stroke-width="1.2"/>
<line x1="362.8" y1="1087" x2="362.8" y2="1090.5" stroke="#1a1a1a" stroke-width="1.2"/>
<text transform="translate(302,1101) scale(1.02,1)" font-size="11" text-anchor="middle" fill="#1a1a1a" stroke="#1a1a1a" stroke-width="0.22">D0</text>
<text transform="translate(364,1101) scale(1.02,1)" font-size="11" text-anchor="middle" fill="#1a1a1a" stroke="#1a1a1a" stroke-width="0.22">D5</text>
<text transform="translate(247,1033.5) rotate(-90) scale(1.03,1)" font-size="10.8" text-anchor="middle" fill="#1a1a1a" stroke="#1a1a1a" stroke-width="0.22">CD49d (%)</text>
<circle cx="289.8" cy="1030.83" r="1.95" fill="#3a78bb"/>
<circle cx="293.31" cy="1036.31" r="1.95" fill="#3a78bb"/>
<circle cx="286.29" cy="1037.68" r="1.95" fill="#3a78bb"/>
<circle cx="289.8" cy="1041.79" r="1.95" fill="#3a78bb"/>
<circle cx="289.8" cy="1048.64" r="1.95" fill="#3a78bb"/>
<circle cx="289.8" cy="1056.86" r="1.95" fill="#3a78bb"/>
<circle cx="293.31" cy="1059.6" r="1.95" fill="#3a78bb"/>
<circle cx="289.8" cy="1063.71" r="1.95" fill="#3a78bb"/>
<circle cx="289.8" cy="1070.56" r="1.95" fill="#3a78bb"/>
<circle cx="293.31" cy="1071.93" r="1.95" fill="#3a78bb"/>
<circle cx="286.29" cy="1073.3" r="1.95" fill="#3a78bb"/>
<circle cx="289.8" cy="1074.67" r="1.95" fill="#3a78bb"/>
<circle cx="293.31" cy="1076.04" r="1.95" fill="#3a78bb"/>
<circle cx="289.8" cy="1082.89" r="1.95" fill="#3a78bb"/>
<rect x="283.35" y="1060.01" width="12.9" height="26.99" fill="none" stroke="#3a78bb" stroke-width="1.15"/>
<line x1="289.8" y1="1041.79" x2="289.8" y2="1076.04" stroke="#3a78bb" stroke-width="1.15"/>
<line x1="285.6" y1="1041.79" x2="294" y2="1041.79" stroke="#3a78bb" stroke-width="1.15"/>
<line x1="285.6" y1="1076.04" x2="294" y2="1076.04" stroke="#3a78bb" stroke-width="1.15"/>
<rect x="310.65" y="997.27" width="4.1" height="4.1" fill="#e8402f"/>
<rect x="310.65" y="1005.49" width="4.1" height="4.1" fill="#e8402f"/>
<rect x="314.17" y="1008.23" width="4.1" height="4.1" fill="#e8402f"/>
<rect x="307.14" y="1009.6" width="4.1" height="4.1" fill="#e8402f"/>
<rect x="310.65" y="1019.19" width="4.1" height="4.1" fill="#e8402f"/>
<rect x="314.17" y="1020.56" width="4.1" height="4.1" fill="#e8402f"/>
<rect x="310.65" y="1027.41" width="4.1" height="4.1" fill="#e8402f"/>
<rect x="314.17" y="1032.89" width="4.1" height="4.1" fill="#e8402f"/>
<rect x="310.65" y="1041.11" width="4.1" height="4.1" fill="#e8402f"/>
<rect x="314.17" y="1045.22" width="4.1" height="4.1" fill="#e8402f"/>
<rect x="310.65" y="1049.33" width="4.1" height="4.1" fill="#e8402f"/>
<rect x="307.14" y="1050.7" width="4.1" height="4.1" fill="#e8402f"/>
<rect x="310.65" y="1060.29" width="4.1" height="4.1" fill="#e8402f"/>
<rect x="314.17" y="1064.4" width="4.1" height="4.1" fill="#e8402f"/>
<rect x="306.15" y="1033.57" width="13.1" height="53.43" fill="none" stroke="#e8402f" stroke-width="1.15"/>
<line x1="312.7" y1="1012.06" x2="312.7" y2="1053.57" stroke="#e8402f" stroke-width="1.15"/>
<line x1="308.5" y1="1012.06" x2="316.9" y2="1012.06" stroke="#e8402f" stroke-width="1.15"/>
<line x1="308.5" y1="1053.57" x2="316.9" y2="1053.57" stroke="#e8402f" stroke-width="1.15"/>
<circle cx="351.5" cy="1034.94" r="1.95" fill="#3a78bb"/>
<circle cx="355.01" cy="1037.68" r="1.95" fill="#3a78bb"/>
<circle cx="351.5" cy="1041.79" r="1.95" fill="#3a78bb"/>
<circle cx="351.5" cy="1060.97" r="1.95" fill="#3a78bb"/>
<circle cx="355.01" cy="1063.71" r="1.95" fill="#3a78bb"/>
<circle cx="347.99" cy="1065.08" r="1.95" fill="#3a78bb"/>
<circle cx="351.5" cy="1066.45" r="1.95" fill="#3a78bb"/>
<circle cx="355.01" cy="1070.56" r="1.95" fill="#3a78bb"/>
<circle cx="351.5" cy="1073.3" r="1.95" fill="#3a78bb"/>
<circle cx="347.99" cy="1076.04" r="1.95" fill="#3a78bb"/>
<circle cx="355.01" cy="1077.41" r="1.95" fill="#3a78bb"/>
<circle cx="351.5" cy="1080.15" r="1.95" fill="#3a78bb"/>
<circle cx="347.99" cy="1082.89" r="1.95" fill="#3a78bb"/>
<rect x="344.95" y="1065.08" width="13.1" height="21.92" fill="none" stroke="#3a78bb" stroke-width="1.15"/>
<line x1="351.5" y1="1049.33" x2="351.5" y2="1080.15" stroke="#3a78bb" stroke-width="1.15"/>
<line x1="347.3" y1="1049.33" x2="355.7" y2="1049.33" stroke="#3a78bb" stroke-width="1.15"/>
<line x1="347.3" y1="1080.15" x2="355.7" y2="1080.15" stroke="#3a78bb" stroke-width="1.15"/>
<rect x="372.55" y="994.53" width="4.1" height="4.1" fill="#e8402f"/>
<rect x="372.55" y="1006.86" width="4.1" height="4.1" fill="#e8402f"/>
<rect x="372.55" y="1015.08" width="4.1" height="4.1" fill="#e8402f"/>
<rect x="376.06" y="1019.19" width="4.1" height="4.1" fill="#e8402f"/>
<rect x="372.55" y="1031.52" width="4.1" height="4.1" fill="#e8402f"/>
<rect x="372.55" y="1041.11" width="4.1" height="4.1" fill="#e8402f"/>
<rect x="376.06" y="1046.59" width="4.1" height="4.1" fill="#e8402f"/>
<rect x="372.55" y="1049.33" width="4.1" height="4.1" fill="#e8402f"/>
<rect x="369.04" y="1050.7" width="4.1" height="4.1" fill="#e8402f"/>
<rect x="372.55" y="1056.18" width="4.1" height="4.1" fill="#e8402f"/>
<rect x="376.06" y="1057.55" width="4.1" height="4.1" fill="#e8402f"/>
<rect x="369.04" y="1061.66" width="4.1" height="4.1" fill="#e8402f"/>
<rect x="372.55" y="1075.36" width="4.1" height="4.1" fill="#e8402f"/>
<rect x="367.95" y="1044.53" width="13.3" height="42.47" fill="none" stroke="#e8402f" stroke-width="1.15"/>
<line x1="374.6" y1="1019.46" x2="374.6" y2="1067.82" stroke="#e8402f" stroke-width="1.15"/>
<line x1="370.4" y1="1019.46" x2="378.8" y2="1019.46" stroke="#e8402f" stroke-width="1.15"/>
<line x1="370.4" y1="1067.82" x2="378.8" y2="1067.82" stroke="#e8402f" stroke-width="1.15"/>
<line x1="288" y1="986.6" x2="312" y2="986.6" stroke="#111" stroke-width="1.85"/>
<line x1="288" y1="983.8" x2="288" y2="989.4" stroke="#111" stroke-width="1.85"/>
<line x1="312" y1="983.8" x2="312" y2="989.4" stroke="#111" stroke-width="1.85"/>
<text transform="translate(300.7,986.9) scale(1.05,1)" font-size="11" text-anchor="middle" fill="#111" stroke="#111" stroke-width="0.22">***</text>
<line x1="350" y1="986.6" x2="374.4" y2="986.6" stroke="#111" stroke-width="1.85"/>
<line x1="350" y1="983.8" x2="350" y2="989.4" stroke="#111" stroke-width="1.85"/>
<line x1="374.4" y1="983.8" x2="374.4" y2="989.4" stroke="#111" stroke-width="1.85"/>
<text transform="translate(362.9,986.9) scale(1.05,1)" font-size="11" text-anchor="middle" fill="#111" stroke="#111" stroke-width="0.22">****</text>
<line x1="495.6" y1="992.4" x2="495.6" y2="1087.6" stroke="#1a1a1a" stroke-width="1.3"/>
<line x1="495" y1="1087" x2="568" y2="1087" stroke="#1a1a1a" stroke-width="1.3"/>
<line x1="492.6" y1="1087" x2="495.6" y2="1087" stroke="#1a1a1a" stroke-width="1.2"/>
<text transform="translate(492.2,1090.2) scale(1.1,1)" font-size="10.3" text-anchor="end" fill="#1a1a1a" stroke="#1a1a1a" stroke-width="0.22">0</text>
<line x1="492.6" y1="1068.08" x2="495.6" y2="1068.08" stroke="#1a1a1a" stroke-width="1.2"/>
<text transform="translate(492.2,1071.28) scale(1.1,1)" font-size="10.3" text-anchor="end" fill="#1a1a1a" stroke="#1a1a1a" stroke-width="0.22">10</text>
<line x1="492.6" y1="1049.16" x2="495.6" y2="1049.16" stroke="#1a1a1a" stroke-width="1.2"/>
<text transform="translate(492.2,1052.36) scale(1.1,1)" font-size="10.3" text-anchor="end" fill="#1a1a1a" stroke="#1a1a1a" stroke-width="0.22">20</text>
<line x1="492.6" y1="1030.24" x2="495.6" y2="1030.24" stroke="#1a1a1a" stroke-width="1.2"/>
<text transform="translate(492.2,1033.44) scale(1.1,1)" font-size="10.3" text-anchor="end" fill="#1a1a1a" stroke="#1a1a1a" stroke-width="0.22">30</text>
<line x1="492.6" y1="1011.32" x2="495.6" y2="1011.32" stroke="#1a1a1a" stroke-width="1.2"/>
<text transform="translate(492.2,1014.52) scale(1.1,1)" font-size="10.3" text-anchor="end" fill="#1a1a1a" stroke="#1a1a1a" stroke-width="0.22">40</text>
<line x1="492.6" y1="992.4" x2="495.6" y2="992.4" stroke="#1a1a1a" stroke-width="1.2"/>
<text transform="translate(492.2,995.6) scale(1.1,1)" font-size="10.3" text-anchor="end" fill="#1a1a1a" stroke="#1a1a1a" stroke-width="0.22">50</text>
<text transform="translate(514.8,1100.5) scale(1.02,1)" font-size="11" text-anchor="middle" fill="#1a1a1a" stroke="#1a1a1a" stroke-width="0.22">D0</text>
<text transform="translate(550.8,1100.5) scale(1.02,1)" font-size="11" text-anchor="middle" fill="#1a1a1a" stroke="#1a1a1a" stroke-width="0.22">D5</text>
<text transform="translate(474,1033.5) rotate(-90) scale(1.09,1)" font-size="10.8" text-anchor="middle" fill="#1a1a1a" stroke="#1a1a1a" stroke-width="0.22">CD49d (%)</text>
<line x1="514" y1="1009.43" x2="550" y2="1056.73" stroke="#3a78bb" stroke-width="1.15"/>
<line x1="514" y1="1018.89" x2="550" y2="1020.78" stroke="#3a78bb" stroke-width="1.15"/>
<line x1="514" y1="1020.78" x2="550" y2="1024.56" stroke="#3a78bb" stroke-width="1.15"/>
<line x1="514" y1="1022.67" x2="550" y2="1062.4" stroke="#3a78bb" stroke-width="1.15"/>
<line x1="514" y1="1032.13" x2="550" y2="1051.05" stroke="#3a78bb" stroke-width="1.15"/>
<line x1="514" y1="1041.59" x2="550" y2="1015.1" stroke="#3a78bb" stroke-width="1.15"/>
<line x1="514" y1="1043.48" x2="550" y2="1026.46" stroke="#3a78bb" stroke-width="1.15"/>
<line x1="514" y1="1045.38" x2="550" y2="1064.3" stroke="#3a78bb" stroke-width="1.15"/>
<line x1="514" y1="1056.73" x2="550" y2="1066.19" stroke="#3a78bb" stroke-width="1.15"/>
<line x1="514" y1="1064.3" x2="550" y2="1058.62" stroke="#3a78bb" stroke-width="1.15"/>
<line x1="514" y1="1066.19" x2="550" y2="1069.97" stroke="#3a78bb" stroke-width="1.15"/>
<line x1="514" y1="1068.08" x2="550" y2="1071.86" stroke="#3a78bb" stroke-width="1.15"/>
<line x1="514" y1="1069.97" x2="550" y2="1077.54" stroke="#3a78bb" stroke-width="1.15"/>
<line x1="514" y1="1071.86" x2="550" y2="1079.43" stroke="#3a78bb" stroke-width="1.15"/>
<line x1="514" y1="1082.27" x2="550" y2="1081.32" stroke="#3a78bb" stroke-width="1.15"/>
<circle cx="514" cy="1009.43" r="2.45" fill="#3a78bb"/>
<circle cx="550" cy="1056.73" r="2.45" fill="#3a78bb"/>
<circle cx="514" cy="1018.89" r="2.45" fill="#3a78bb"/>
<circle cx="550" cy="1020.78" r="2.45" fill="#3a78bb"/>
<circle cx="514" cy="1020.78" r="2.45" fill="#3a78bb"/>
<circle cx="550" cy="1024.56" r="2.45" fill="#3a78bb"/>
<circle cx="514" cy="1022.67" r="2.45" fill="#3a78bb"/>
<circle cx="550" cy="1062.4" r="2.45" fill="#3a78bb"/>
<circle cx="514" cy="1032.13" r="2.45" fill="#3a78bb"/>
<circle cx="550" cy="1051.05" r="2.45" fill="#3a78bb"/>
<circle cx="514" cy="1041.59" r="2.45" fill="#3a78bb"/>
<circle cx="550" cy="1015.1" r="2.45" fill="#3a78bb"/>
<circle cx="514" cy="1043.48" r="2.45" fill="#3a78bb"/>
<circle cx="550" cy="1026.46" r="2.45" fill="#3a78bb"/>
<circle cx="514" cy="1045.38" r="2.45" fill="#3a78bb"/>
<circle cx="550" cy="1064.3" r="2.45" fill="#3a78bb"/>
<circle cx="514" cy="1056.73" r="2.45" fill="#3a78bb"/>
<circle cx="550" cy="1066.19" r="2.45" fill="#3a78bb"/>
<circle cx="514" cy="1064.3" r="2.45" fill="#3a78bb"/>
<circle cx="550" cy="1058.62" r="2.45" fill="#3a78bb"/>
<circle cx="514" cy="1066.19" r="2.45" fill="#3a78bb"/>
<circle cx="550" cy="1069.97" r="2.45" fill="#3a78bb"/>
<circle cx="514" cy="1068.08" r="2.45" fill="#3a78bb"/>
<circle cx="550" cy="1071.86" r="2.45" fill="#3a78bb"/>
<circle cx="514" cy="1069.97" r="2.45" fill="#3a78bb"/>
<circle cx="550" cy="1077.54" r="2.45" fill="#3a78bb"/>
<circle cx="514" cy="1071.86" r="2.45" fill="#3a78bb"/>
<circle cx="550" cy="1079.43" r="2.45" fill="#3a78bb"/>
<circle cx="514" cy="1082.27" r="2.45" fill="#3a78bb"/>
<circle cx="550" cy="1081.32" r="2.45" fill="#3a78bb"/>
<line x1="514" y1="997.6" x2="550" y2="997.6" stroke="#111" stroke-width="1.85"/>
<line x1="514" y1="994.8" x2="514" y2="1000.4" stroke="#111" stroke-width="1.85"/>
<line x1="550" y1="994.8" x2="550" y2="1000.4" stroke="#111" stroke-width="1.85"/>
<text transform="translate(532,994.1)" font-size="10.5" text-anchor="middle" fill="#111" stroke="#111" stroke-width="0.22">ns</text>
<line x1="607.4" y1="995" x2="607.4" y2="1087" stroke="#1a1a1a" stroke-width="1.3"/>
<line x1="606.8" y1="1086.4" x2="680.4" y2="1086.4" stroke="#1a1a1a" stroke-width="1.3"/>
<line x1="604.4" y1="1086.4" x2="607.4" y2="1086.4" stroke="#1a1a1a" stroke-width="1.2"/>
<text transform="translate(604,1089.6) scale(1.1,1)" font-size="10.3" text-anchor="end" fill="#1a1a1a" stroke="#1a1a1a" stroke-width="0.22">0</text>
<line x1="604.4" y1="1063.55" x2="607.4" y2="1063.55" stroke="#1a1a1a" stroke-width="1.2"/>
<text transform="translate(604,1066.75) scale(1.1,1)" font-size="10.3" text-anchor="end" fill="#1a1a1a" stroke="#1a1a1a" stroke-width="0.22">20</text>
<line x1="604.4" y1="1040.7" x2="607.4" y2="1040.7" stroke="#1a1a1a" stroke-width="1.2"/>
<text transform="translate(604,1043.9) scale(1.1,1)" font-size="10.3" text-anchor="end" fill="#1a1a1a" stroke="#1a1a1a" stroke-width="0.22">40</text>
<line x1="604.4" y1="1017.85" x2="607.4" y2="1017.85" stroke="#1a1a1a" stroke-width="1.2"/>
<text transform="translate(604,1021.05) scale(1.1,1)" font-size="10.3" text-anchor="end" fill="#1a1a1a" stroke="#1a1a1a" stroke-width="0.22">60</text>
<line x1="604.4" y1="995" x2="607.4" y2="995" stroke="#1a1a1a" stroke-width="1.2"/>
<text transform="translate(604,998.2) scale(1.1,1)" font-size="10.3" text-anchor="end" fill="#1a1a1a" stroke="#1a1a1a" stroke-width="0.22">80</text>
<text transform="translate(626.2,1100.5) scale(1.02,1)" font-size="11" text-anchor="middle" fill="#1a1a1a" stroke="#1a1a1a" stroke-width="0.22">D0</text>
<text transform="translate(662.8,1100.5) scale(1.02,1)" font-size="11" text-anchor="middle" fill="#1a1a1a" stroke="#1a1a1a" stroke-width="0.22">D5</text>
<text transform="translate(585,1033.5) rotate(-90) scale(1.09,1)" font-size="10.8" text-anchor="middle" fill="#1a1a1a" stroke="#1a1a1a" stroke-width="0.22">CD49d (%)</text>
<line x1="625.4" y1="1013.28" x2="662" y2="1009.85" stroke="#dc3c3c" stroke-width="1.15"/>
<line x1="625.4" y1="1020.13" x2="662" y2="1020.13" stroke="#dc3c3c" stroke-width="1.15"/>
<line x1="625.4" y1="1022.42" x2="662" y2="1054.41" stroke="#dc3c3c" stroke-width="1.15"/>
<line x1="625.4" y1="1023.56" x2="662" y2="1026.99" stroke="#dc3c3c" stroke-width="1.15"/>
<line x1="625.4" y1="1029.28" x2="662" y2="1029.28" stroke="#dc3c3c" stroke-width="1.15"/>
<line x1="625.4" y1="1030.42" x2="662" y2="1041.84" stroke="#dc3c3c" stroke-width="1.15"/>
<line x1="625.4" y1="1032.7" x2="662" y2="1061.27" stroke="#dc3c3c" stroke-width="1.15"/>
<line x1="625.4" y1="1039.56" x2="662" y2="1057.84" stroke="#dc3c3c" stroke-width="1.15"/>
<line x1="625.4" y1="1049.84" x2="662" y2="1049.84" stroke="#dc3c3c" stroke-width="1.15"/>
<line x1="625.4" y1="1052.12" x2="662" y2="1055.55" stroke="#dc3c3c" stroke-width="1.15"/>
<line x1="625.4" y1="1053.27" x2="662" y2="1058.98" stroke="#dc3c3c" stroke-width="1.15"/>
<line x1="625.4" y1="1055.55" x2="662" y2="1063.55" stroke="#dc3c3c" stroke-width="1.15"/>
<line x1="625.4" y1="1056.7" x2="662" y2="1068.12" stroke="#dc3c3c" stroke-width="1.15"/>
<line x1="625.4" y1="1057.84" x2="662" y2="1070.4" stroke="#dc3c3c" stroke-width="1.15"/>
<line x1="625.4" y1="1064.69" x2="662" y2="1030.42" stroke="#dc3c3c" stroke-width="1.15"/>
<line x1="625.4" y1="1068.12" x2="662" y2="1078.4" stroke="#dc3c3c" stroke-width="1.15"/>
<circle cx="625.4" cy="1013.28" r="2.45" fill="#dc3c3c"/>
<circle cx="662" cy="1009.85" r="2.45" fill="#dc3c3c"/>
<circle cx="625.4" cy="1020.13" r="2.45" fill="#dc3c3c"/>
<circle cx="662" cy="1020.13" r="2.45" fill="#dc3c3c"/>
<circle cx="625.4" cy="1022.42" r="2.45" fill="#dc3c3c"/>
<circle cx="662" cy="1054.41" r="2.45" fill="#dc3c3c"/>
<circle cx="625.4" cy="1023.56" r="2.45" fill="#dc3c3c"/>
<circle cx="662" cy="1026.99" r="2.45" fill="#dc3c3c"/>
<circle cx="625.4" cy="1029.28" r="2.45" fill="#dc3c3c"/>
<circle cx="662" cy="1029.28" r="2.45" fill="#dc3c3c"/>
<circle cx="625.4" cy="1030.42" r="2.45" fill="#dc3c3c"/>
<circle cx="662" cy="1041.84" r="2.45" fill="#dc3c3c"/>
<circle cx="625.4" cy="1032.7" r="2.45" fill="#dc3c3c"/>
<circle cx="662" cy="1061.27" r="2.45" fill="#dc3c3c"/>
<circle cx="625.4" cy="1039.56" r="2.45" fill="#dc3c3c"/>
<circle cx="662" cy="1057.84" r="2.45" fill="#dc3c3c"/>
<circle cx="625.4" cy="1049.84" r="2.45" fill="#dc3c3c"/>
<circle cx="662" cy="1049.84" r="2.45" fill="#dc3c3c"/>
<circle cx="625.4" cy="1052.12" r="2.45" fill="#dc3c3c"/>
<circle cx="662" cy="1055.55" r="2.45" fill="#dc3c3c"/>
<circle cx="625.4" cy="1053.27" r="2.45" fill="#dc3c3c"/>
<circle cx="662" cy="1058.98" r="2.45" fill="#dc3c3c"/>
<circle cx="625.4" cy="1055.55" r="2.45" fill="#dc3c3c"/>
<circle cx="662" cy="1063.55" r="2.45" fill="#dc3c3c"/>
<circle cx="625.4" cy="1056.7" r="2.45" fill="#dc3c3c"/>
<circle cx="662" cy="1068.12" r="2.45" fill="#dc3c3c"/>
<circle cx="625.4" cy="1057.84" r="2.45" fill="#dc3c3c"/>
<circle cx="662" cy="1070.4" r="2.45" fill="#dc3c3c"/>
<circle cx="625.4" cy="1064.69" r="2.45" fill="#dc3c3c"/>
<circle cx="662" cy="1030.42" r="2.45" fill="#dc3c3c"/>
<circle cx="625.4" cy="1068.12" r="2.45" fill="#dc3c3c"/>
<circle cx="662" cy="1078.4" r="2.45" fill="#dc3c3c"/>
<line x1="625.4" y1="998" x2="662" y2="998" stroke="#111" stroke-width="1.85"/>
<line x1="625.4" y1="995.2" x2="625.4" y2="1000.8" stroke="#111" stroke-width="1.85"/>
<line x1="662" y1="995.2" x2="662" y2="1000.8" stroke="#111" stroke-width="1.85"/>
<text transform="translate(644.4,998.3) scale(1.05,1)" font-size="11" text-anchor="middle" fill="#111" stroke="#111" stroke-width="0.22">*</text>
</svg>
</body></html>
